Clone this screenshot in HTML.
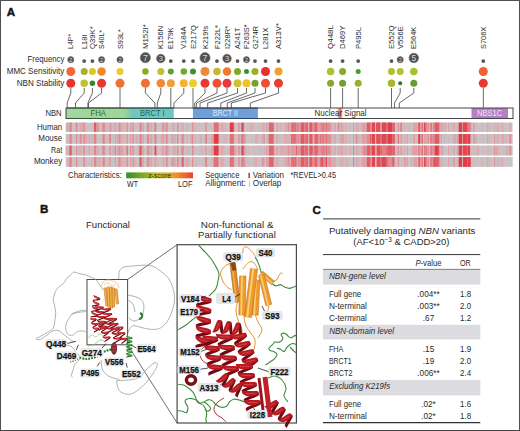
<!DOCTYPE html>
<html><head><meta charset="utf-8"><style>
html,body{margin:0;padding:0;background:#fff;overflow:hidden;width:520px;height:431px;}
svg{display:block;font-family:"Liberation Sans", sans-serif;}
</style></head><body>
<svg width="520" height="431" viewBox="0 0 520 431">
<rect width="520" height="431" fill="#fff"/>
<g fill="#505050" shape-rendering="crispEdges"><rect x="0" y="0" width="520" height="1"/><rect x="0" y="0" width="1" height="431"/><rect x="519" y="0" width="1" height="431"/><rect x="0" y="430" width="520" height="1" fill="#444"/></g>
<text x="6.8" y="15.9" font-size="11.6" fill="#111" font-weight="bold" stroke="#111" stroke-width="0.4">A</text>
<text transform="translate(73.4,49) rotate(-90)" font-size="7" fill="#2a2a2a" textLength="15.2" lengthAdjust="spacingAndGlyphs">L4P*</text>
<text transform="translate(86.8,49) rotate(-90)" font-size="7" fill="#2a2a2a" textLength="14.4" lengthAdjust="spacingAndGlyphs">L18I</text>
<text transform="translate(95.0,49) rotate(-90)" font-size="7" fill="#2a2a2a" textLength="22.7" lengthAdjust="spacingAndGlyphs">Q39K*</text>
<text transform="translate(104.2,49) rotate(-90)" font-size="7" fill="#2a2a2a" textLength="19.0" lengthAdjust="spacingAndGlyphs">S40L*</text>
<text transform="translate(122.6,49) rotate(-90)" font-size="7" fill="#2a2a2a" textLength="19.8" lengthAdjust="spacingAndGlyphs">S93L*</text>
<text transform="translate(148.0,49) rotate(-90)" font-size="7" fill="#2a2a2a" textLength="24.7" lengthAdjust="spacingAndGlyphs">M152I*</text>
<text transform="translate(163.4,49) rotate(-90)" font-size="7" fill="#2a2a2a" textLength="23.1" lengthAdjust="spacingAndGlyphs">K156N</text>
<text transform="translate(173.4,49) rotate(-90)" font-size="7" fill="#2a2a2a" textLength="21.5" lengthAdjust="spacingAndGlyphs">E179K</text>
<text transform="translate(186.4,49) rotate(-90)" font-size="7" fill="#2a2a2a" textLength="22.5" lengthAdjust="spacingAndGlyphs">V184A</text>
<text transform="translate(195.6,49) rotate(-90)" font-size="7" fill="#2a2a2a" textLength="23.9" lengthAdjust="spacingAndGlyphs">E217Q</text>
<text transform="translate(207.6,49) rotate(-90)" font-size="7" fill="#2a2a2a" textLength="23.1" lengthAdjust="spacingAndGlyphs">K219fs</text>
<text transform="translate(219.6,49) rotate(-90)" font-size="7" fill="#2a2a2a" textLength="23.9" lengthAdjust="spacingAndGlyphs">F222L*</text>
<text transform="translate(229.6,49) rotate(-90)" font-size="7" fill="#2a2a2a" textLength="23.1" lengthAdjust="spacingAndGlyphs">I228R*</text>
<text transform="translate(240.1,49) rotate(-90)" font-size="7" fill="#2a2a2a" textLength="21.3" lengthAdjust="spacingAndGlyphs">A241T</text>
<text transform="translate(249.1,49) rotate(-90)" font-size="7" fill="#2a2a2a" textLength="24.7" lengthAdjust="spacingAndGlyphs">F263S*</text>
<text transform="translate(257.6,49) rotate(-90)" font-size="7" fill="#2a2a2a" textLength="23.1" lengthAdjust="spacingAndGlyphs">G274R</text>
<text transform="translate(268.1,49) rotate(-90)" font-size="7" fill="#2a2a2a" textLength="21.3" lengthAdjust="spacingAndGlyphs">L281X</text>
<text transform="translate(281.1,49) rotate(-90)" font-size="7" fill="#2a2a2a" textLength="25.9" lengthAdjust="spacingAndGlyphs">A313V*</text>
<text transform="translate(333.2,49) rotate(-90)" font-size="7" fill="#2a2a2a" textLength="24.0" lengthAdjust="spacingAndGlyphs">Q448L</text>
<text transform="translate(345.2,49) rotate(-90)" font-size="7" fill="#2a2a2a" textLength="23.2" lengthAdjust="spacingAndGlyphs">D469Y</text>
<text transform="translate(360.8,49) rotate(-90)" font-size="7" fill="#2a2a2a" textLength="22.0" lengthAdjust="spacingAndGlyphs">P495L</text>
<text transform="translate(394.1,49) rotate(-90)" font-size="7" fill="#2a2a2a" textLength="23.7" lengthAdjust="spacingAndGlyphs">E552Q</text>
<text transform="translate(402.8,49) rotate(-90)" font-size="7" fill="#2a2a2a" textLength="22.7" lengthAdjust="spacingAndGlyphs">V556E</text>
<text transform="translate(416.4,49) rotate(-90)" font-size="7" fill="#2a2a2a" textLength="22.3" lengthAdjust="spacingAndGlyphs">E564K</text>
<text transform="translate(485.9,49) rotate(-90)" font-size="7" fill="#2a2a2a" textLength="22.3" lengthAdjust="spacingAndGlyphs">S706X</text>
<text x="64.3" y="62.1" font-size="8.6" fill="#2a2a2a" text-anchor="end" textLength="36.7" lengthAdjust="spacingAndGlyphs">Frequency</text>
<text x="64.3" y="74.2" font-size="8.6" fill="#2a2a2a" text-anchor="end" textLength="57.6" lengthAdjust="spacingAndGlyphs">MMC Sensitivity</text>
<text x="64.3" y="85.7" font-size="8.6" fill="#2a2a2a" text-anchor="end" textLength="47.5" lengthAdjust="spacingAndGlyphs">NBN Stability</text>
<circle cx="70.8" cy="59.70" r="3.10" fill="#505050" stroke="#6e6e6e" stroke-width="0.6"/>
<text x="70.8" y="61.65" font-size="5.6" fill="#dcdcdc" text-anchor="middle">2</text>
<circle cx="70.8" cy="71.5" r="4.5" fill="#f06838"/>
<circle cx="70.8" cy="83.3" r="4.5" fill="#e8342c"/>
<circle cx="84.2" cy="61.1" r="1.9" fill="#555"/>
<circle cx="84.2" cy="71.5" r="3.5" fill="#a8b030"/>
<circle cx="84.2" cy="83.3" r="3.75" fill="#c0c030"/>
<circle cx="92.4" cy="61.1" r="1.9" fill="#555"/>
<circle cx="92.4" cy="71.5" r="3.5" fill="#d8c828"/>
<circle cx="92.4" cy="83.3" r="2.75" fill="#2d8a2d"/>
<circle cx="101.6" cy="59.70" r="3.10" fill="#505050" stroke="#6e6e6e" stroke-width="0.6"/>
<text x="101.6" y="61.65" font-size="5.6" fill="#dcdcdc" text-anchor="middle">2</text>
<circle cx="101.6" cy="71.5" r="4.25" fill="#f08828"/>
<circle cx="101.6" cy="83.3" r="4.5" fill="#e83830"/>
<circle cx="120.0" cy="59.70" r="3.10" fill="#505050" stroke="#6e6e6e" stroke-width="0.6"/>
<text x="120.0" y="61.65" font-size="5.6" fill="#dcdcdc" text-anchor="middle">2</text>
<circle cx="120.0" cy="71.5" r="3.5" fill="#e8cc30"/>
<circle cx="120.0" cy="83.3" r="4.5" fill="#f07030"/>
<circle cx="145.4" cy="57.70" r="5.10" fill="#505050" stroke="#6e6e6e" stroke-width="0.6"/>
<text x="145.4" y="60.80" font-size="8.9" fill="#dcdcdc" text-anchor="middle">7</text>
<circle cx="145.4" cy="71.5" r="3.25" fill="#8aaa20"/>
<circle cx="145.4" cy="83.3" r="4.5" fill="#f07030"/>
<circle cx="160.8" cy="58.50" r="4.30" fill="#505050" stroke="#6e6e6e" stroke-width="0.6"/>
<text x="160.8" y="61.14" font-size="7.5" fill="#dcdcdc" text-anchor="middle">3</text>
<circle cx="160.8" cy="71.5" r="3.5" fill="#c0c030"/>
<circle cx="160.8" cy="83.3" r="4.25" fill="#f08838"/>
<circle cx="170.8" cy="61.1" r="1.9" fill="#555"/>
<circle cx="170.8" cy="71.5" r="3.0" fill="#60a030"/>
<circle cx="170.8" cy="83.3" r="4.0" fill="#f0a030"/>
<circle cx="183.8" cy="61.1" r="1.9" fill="#555"/>
<circle cx="183.8" cy="71.5" r="3.25" fill="#70a830"/>
<circle cx="183.8" cy="83.3" r="4.0" fill="#f8b030"/>
<circle cx="193.0" cy="61.1" r="1.9" fill="#555"/>
<circle cx="193.0" cy="71.5" r="3.0" fill="#409030"/>
<circle cx="193.0" cy="83.3" r="4.0" fill="#e8d030"/>
<circle cx="205.0" cy="57.70" r="5.10" fill="#505050" stroke="#6e6e6e" stroke-width="0.6"/>
<text x="205.0" y="60.80" font-size="8.9" fill="#dcdcdc" text-anchor="middle">7</text>
<circle cx="205.0" cy="71.5" r="4.5" fill="#f08838"/>
<circle cx="205.0" cy="83.3" r="4.5" fill="#e83830"/>
<circle cx="217.0" cy="61.1" r="1.9" fill="#555"/>
<circle cx="217.0" cy="71.5" r="3.75" fill="#c8b830"/>
<circle cx="217.0" cy="83.3" r="4.5" fill="#f05030"/>
<circle cx="227.0" cy="58.50" r="4.30" fill="#505050" stroke="#6e6e6e" stroke-width="0.6"/>
<text x="227.0" y="61.14" font-size="7.5" fill="#dcdcdc" text-anchor="middle">3</text>
<circle cx="227.0" cy="71.5" r="4.25" fill="#f07830"/>
<circle cx="227.0" cy="83.3" r="4.5" fill="#e83838"/>
<circle cx="237.5" cy="61.1" r="1.9" fill="#555"/>
<circle cx="237.5" cy="71.5" r="3.5" fill="#80a828"/>
<circle cx="237.5" cy="83.3" r="4.0" fill="#d0c030"/>
<circle cx="246.5" cy="59.70" r="3.10" fill="#505050" stroke="#6e6e6e" stroke-width="0.6"/>
<text x="246.5" y="61.65" font-size="5.6" fill="#dcdcdc" text-anchor="middle">2</text>
<circle cx="246.5" cy="71.5" r="2.5" fill="#3a9028"/>
<circle cx="246.5" cy="83.3" r="4.0" fill="#f0c030"/>
<circle cx="255.0" cy="61.1" r="1.9" fill="#555"/>
<circle cx="255.0" cy="71.5" r="3.5" fill="#98b030"/>
<circle cx="255.0" cy="83.3" r="3.5" fill="#78a030"/>
<circle cx="265.5" cy="61.1" r="1.9" fill="#555"/>
<circle cx="265.5" cy="71.5" r="4.5" fill="#e83030"/>
<circle cx="265.5" cy="83.3" r="4.5" fill="#f05030"/>
<circle cx="278.5" cy="61.1" r="1.9" fill="#555"/>
<circle cx="278.5" cy="71.5" r="4.0" fill="#f0a030"/>
<circle cx="278.5" cy="83.3" r="4.5" fill="#e84030"/>
<circle cx="330.6" cy="61.1" r="1.9" fill="#555"/>
<circle cx="330.6" cy="71.5" r="3.75" fill="#b0c030"/>
<circle cx="330.6" cy="83.3" r="3.5" fill="#88a828"/>
<circle cx="342.6" cy="61.1" r="1.9" fill="#555"/>
<circle cx="342.6" cy="71.5" r="3.5" fill="#88a830"/>
<circle cx="342.6" cy="83.3" r="3.5" fill="#70a030"/>
<circle cx="358.2" cy="61.1" r="1.9" fill="#555"/>
<circle cx="358.2" cy="71.5" r="2.5" fill="#4a9a30"/>
<circle cx="358.2" cy="83.3" r="3.5" fill="#98b030"/>
<circle cx="391.5" cy="61.1" r="1.9" fill="#555"/>
<circle cx="391.5" cy="71.5" r="3.5" fill="#b0c030"/>
<circle cx="391.5" cy="83.3" r="3.75" fill="#a8b828"/>
<circle cx="400.2" cy="59.70" r="3.10" fill="#505050" stroke="#6e6e6e" stroke-width="0.6"/>
<text x="400.2" y="61.65" font-size="5.6" fill="#dcdcdc" text-anchor="middle">2</text>
<circle cx="400.2" cy="71.5" r="3.5" fill="#b8c030"/>
<circle cx="400.2" cy="83.3" r="2.0" fill="#2a7a20"/>
<circle cx="413.8" cy="58.00" r="4.80" fill="#505050" stroke="#6e6e6e" stroke-width="0.6"/>
<text x="413.8" y="60.93" font-size="8.4" fill="#dcdcdc" text-anchor="middle">5</text>
<circle cx="413.8" cy="71.5" r="3.75" fill="#a8c030"/>
<circle cx="413.8" cy="83.3" r="3.5" fill="#60a030"/>
<circle cx="483.3" cy="61.1" r="1.9" fill="#555"/>
<circle cx="483.3" cy="71.5" r="4.5" fill="#f06030"/>
<circle cx="483.3" cy="83.3" r="4.5" fill="#e83830"/>
<g stroke="#444" stroke-width="0.8" fill="none">
<path d="M70.8,88 V93 L67.2,103 V108"/>
<path d="M84.2,88 V93 L75.5,103 V108"/>
<path d="M92.4,88 V93 L87.9,103 V108"/>
<path d="M101.6,88 V93 L88.5,103 V108"/>
<path d="M120.0,88 V108"/>
<path d="M145.4,88 V93 L154.9,103 V108"/>
<path d="M160.8,88 V93 L157.3,103 V108"/>
<path d="M170.8,88 V108"/>
<path d="M183.8,88 V93 L173.9,103 V108"/>
<path d="M193.0,88 V108"/>
<path d="M205.0,88 V93 L194.7,103 V108"/>
<path d="M217.0,88 V93 L196.4,103 V108"/>
<path d="M227.0,88 V93 L200.0,103 V108"/>
<path d="M237.5,88 V93 L207.7,103 V108"/>
<path d="M246.5,88 V93 L220.8,103 V108"/>
<path d="M255.0,88 V93 L227.3,103 V108"/>
<path d="M265.5,88 V93 L231.4,103 V108"/>
<path d="M278.5,88 V93 L250.4,103 V108"/>
<path d="M330.6,88 V108"/>
<path d="M342.6,88 V108"/>
<path d="M358.2,88 V108"/>
<path d="M391.5,88 V108"/>
<path d="M400.2,88 V93 L394.5,103 V108"/>
<path d="M413.8,88 V93 L399.3,103 V108"/>
<path d="M483.3,88 V108"/>
</g>
<text x="45.4" y="115.9" font-size="8.4" fill="#2a2a2a" textLength="16.1" lengthAdjust="spacingAndGlyphs">NBN</text>
<defs><linearGradient id="fb" x1="0" x2="1"><stop offset="0" stop-color="#a4d6a0"/><stop offset="0.86" stop-color="#a0d49a"/><stop offset="1" stop-color="#7cc8b8"/></linearGradient><linearGradient id="zs" x1="0" x2="1"><stop offset="0" stop-color="#3a8c2a"/><stop offset="0.3" stop-color="#8cb024"/><stop offset="0.5" stop-color="#d8c022"/><stop offset="0.75" stop-color="#f09030"/><stop offset="1" stop-color="#e84232"/></linearGradient></defs>
<rect x="66" y="108" width="447" height="10.5" fill="#fff"/>
<rect x="66" y="108" width="66" height="10.5" fill="url(#fb)"/>
<rect x="131" y="108" width="42.8" height="10.5" fill="#6fc8bf"/>
<rect x="192.9" y="108" width="65" height="10.5" fill="#6ea0d7"/>
<rect x="337.5" y="108" width="5" height="10.5" fill="#f4b8a8"/><rect x="338.8" y="108" width="2.6" height="10.5" fill="#ea7c6c"/>
<rect x="471.5" y="108" width="36.5" height="10.5" fill="#b57fc5"/>
<rect x="66" y="108" width="447" height="10.5" fill="none" stroke="#444" stroke-width="1"/>
<g stroke-width="1" fill="none"><path d="M67,108 H131 M67,118.5 H131" stroke="#2e5a34"/><path d="M131,108 H173.8 M131,118.5 H173.8" stroke="#2a5a58"/><path d="M192.9,108 H257.9 M192.9,118.5 H257.9" stroke="#2c4470"/></g>
<text x="90.5" y="115.9" font-size="8.4" fill="#2a6a2a" textLength="15.5" lengthAdjust="spacingAndGlyphs">FHA</text>
<text x="140" y="115.9" font-size="8.4" fill="#1f5f5c" textLength="24.6" lengthAdjust="spacingAndGlyphs">BRCT I</text>
<text x="212.7" y="115.9" font-size="8.4" fill="#dfeaf8" textLength="25.3" lengthAdjust="spacingAndGlyphs">BRCT II</text>
<text x="314.6" y="115.9" font-size="8.4" fill="#2a2a2a" textLength="52" lengthAdjust="spacingAndGlyphs">Nuclear Signal</text>
<text x="477" y="115.9" font-size="8.4" fill="#f2e6f6" textLength="25.3" lengthAdjust="spacingAndGlyphs">NBS1C</text>
<text x="62.2" y="130.2" font-size="8.4" fill="#2a2a2a" text-anchor="end" textLength="25.3" lengthAdjust="spacingAndGlyphs">Human</text>
<text x="62.2" y="141.2" font-size="8.4" fill="#2a2a2a" text-anchor="end" textLength="23.9" lengthAdjust="spacingAndGlyphs">Mouse</text>
<text x="62.2" y="152.5" font-size="8.4" fill="#2a2a2a" text-anchor="end" textLength="11.2" lengthAdjust="spacingAndGlyphs">Rat</text>
<text x="62.2" y="163.6" font-size="8.4" fill="#2a2a2a" text-anchor="end" textLength="28.3" lengthAdjust="spacingAndGlyphs">Monkey</text>
<g><rect x="65.7" y="122.6" width="446.8" height="9.3" fill="#cac2c5"/><rect x="66.7" y="122.6" width="1.0" height="9.3" fill="#e1939a"/><rect x="68.7" y="122.6" width="1.0" height="9.3" fill="#dea6ac"/><rect x="69.7" y="122.6" width="1.0" height="9.3" fill="#cebcbf"/><rect x="70.7" y="122.6" width="2.0" height="9.3" fill="#cdbec1"/><rect x="75.7" y="122.6" width="1.5" height="9.3" fill="#e1878e"/><rect x="78.7" y="122.6" width="1.0" height="9.3" fill="#ccbfc2"/><rect x="79.7" y="122.6" width="2.0" height="9.3" fill="#dca9ae"/><rect x="81.7" y="122.6" width="1.5" height="9.3" fill="#e0a3a9"/><rect x="83.2" y="122.6" width="1.0" height="9.3" fill="#cfbbbf"/><rect x="84.2" y="122.6" width="1.0" height="9.3" fill="#d0babd"/><rect x="85.2" y="122.6" width="2.0" height="9.3" fill="#cdbdc1"/><rect x="92.2" y="122.6" width="1.0" height="9.3" fill="#cfbabe"/><rect x="94.2" y="122.6" width="1.5" height="9.3" fill="#d9adb2"/><rect x="95.7" y="122.6" width="1.5" height="9.3" fill="#dea7ac"/><rect x="97.2" y="122.6" width="2.0" height="9.3" fill="#e19198"/><rect x="99.2" y="122.6" width="1.5" height="9.3" fill="#cbc1c3"/><rect x="100.7" y="122.6" width="2.0" height="9.3" fill="#d1b8bc"/><rect x="105.7" y="122.6" width="1.0" height="9.3" fill="#dfa5ab"/><rect x="106.7" y="122.6" width="2.0" height="9.3" fill="#d1b8bc"/><rect x="111.2" y="122.6" width="1.5" height="9.3" fill="#dea7ad"/><rect x="112.7" y="122.6" width="1.5" height="9.3" fill="#cebcbf"/><rect x="114.2" y="122.6" width="1.0" height="9.3" fill="#dcaaaf"/><rect x="115.2" y="122.6" width="1.0" height="9.3" fill="#e1959c"/><rect x="116.2" y="122.6" width="1.0" height="9.3" fill="#cbc0c3"/><rect x="117.2" y="122.6" width="1.0" height="9.3" fill="#d0babd"/><rect x="119.7" y="122.6" width="1.0" height="9.3" fill="#e0a1a8"/><rect x="120.7" y="122.6" width="1.0" height="9.3" fill="#ccbfc2"/><rect x="121.7" y="122.6" width="1.0" height="9.3" fill="#e0a2a8"/><rect x="122.7" y="122.6" width="1.0" height="9.3" fill="#d0babd"/><rect x="123.7" y="122.6" width="2.0" height="9.3" fill="#d0b9bd"/><rect x="126.7" y="122.6" width="1.5" height="9.3" fill="#ccbfc2"/><rect x="130.2" y="122.6" width="1.0" height="9.3" fill="#e1989e"/><rect x="131.2" y="122.6" width="1.0" height="9.3" fill="#d0b9bd"/><rect x="132.2" y="122.6" width="1.5" height="9.3" fill="#dbabb0"/><rect x="135.7" y="122.6" width="2.0" height="9.3" fill="#cbc0c3"/><rect x="141.7" y="122.6" width="1.0" height="9.3" fill="#d1b8bc"/><rect x="142.7" y="122.6" width="1.0" height="9.3" fill="#e1979d"/><rect x="146.7" y="122.6" width="2.0" height="9.3" fill="#d0b9bd"/><rect x="150.7" y="122.6" width="1.0" height="9.3" fill="#e18b92"/><rect x="151.7" y="122.6" width="1.0" height="9.3" fill="#d0b9bd"/><rect x="152.7" y="122.6" width="1.0" height="9.3" fill="#cbc0c3"/><rect x="153.7" y="122.6" width="1.0" height="9.3" fill="#d0b9bd"/><rect x="154.7" y="122.6" width="1.0" height="9.3" fill="#d1b8bc"/><rect x="160.7" y="122.6" width="1.0" height="9.3" fill="#ccbfc2"/><rect x="161.7" y="122.6" width="1.5" height="9.3" fill="#e09da3"/><rect x="163.2" y="122.6" width="1.0" height="9.3" fill="#e28189"/><rect x="164.2" y="122.6" width="1.0" height="9.3" fill="#d7b1b5"/><rect x="165.2" y="122.6" width="1.0" height="9.3" fill="#e09fa5"/><rect x="167.2" y="122.6" width="1.0" height="9.3" fill="#cdbec1"/><rect x="171.2" y="122.6" width="1.5" height="9.3" fill="#d0b9bd"/><rect x="172.7" y="122.6" width="1.0" height="9.3" fill="#e09ca2"/><rect x="173.7" y="122.6" width="1.0" height="9.3" fill="#daacb1"/><rect x="177.2" y="122.6" width="1.0" height="9.3" fill="#ccbfc2"/><rect x="178.2" y="122.6" width="1.5" height="9.3" fill="#d1b8bc"/><rect x="179.7" y="122.6" width="1.0" height="9.3" fill="#ccbfc2"/><rect x="181.7" y="122.6" width="1.0" height="9.3" fill="#e0a3a9"/><rect x="182.7" y="122.6" width="1.0" height="9.3" fill="#dfa5ab"/><rect x="186.7" y="122.6" width="1.0" height="9.3" fill="#e0a4aa"/><rect x="190.2" y="122.6" width="2.0" height="9.3" fill="#cbc1c3"/><rect x="192.2" y="122.6" width="1.0" height="9.3" fill="#e18d94"/><rect x="193.2" y="122.6" width="1.0" height="9.3" fill="#cfbabe"/><rect x="194.2" y="122.6" width="1.0" height="9.3" fill="#d9adb2"/><rect x="195.2" y="122.6" width="1.5" height="9.3" fill="#cfbbbe"/><rect x="198.7" y="122.6" width="2.0" height="9.3" fill="#cebcbf"/><rect x="202.7" y="122.6" width="1.5" height="9.3" fill="#cbc1c4"/><rect x="204.2" y="122.6" width="1.0" height="9.3" fill="#cfbbbf"/><rect x="205.2" y="122.6" width="1.0" height="9.3" fill="#d9adb2"/><rect x="206.2" y="122.6" width="2.0" height="9.3" fill="#cfbbbe"/><rect x="210.2" y="122.6" width="1.0" height="9.3" fill="#cdbdc0"/><rect x="213.2" y="122.6" width="1.5" height="9.3" fill="#ccbfc2"/><rect x="214.7" y="122.6" width="1.5" height="9.3" fill="#daacb1"/><rect x="216.2" y="122.6" width="1.5" height="9.3" fill="#e18d94"/><rect x="217.7" y="122.6" width="1.5" height="9.3" fill="#e09da3"/><rect x="220.7" y="122.6" width="1.0" height="9.3" fill="#e09da4"/><rect x="221.7" y="122.6" width="1.5" height="9.3" fill="#e0a4aa"/><rect x="223.2" y="122.6" width="1.0" height="9.3" fill="#d7b1b5"/><rect x="224.2" y="122.6" width="1.5" height="9.3" fill="#cdbdc0"/><rect x="225.7" y="122.6" width="1.0" height="9.3" fill="#dca9af"/><rect x="229.7" y="122.6" width="2.0" height="9.3" fill="#e0a0a6"/><rect x="231.7" y="122.6" width="1.5" height="9.3" fill="#e19299"/><rect x="233.2" y="122.6" width="1.5" height="9.3" fill="#e0a4aa"/><rect x="236.2" y="122.6" width="1.0" height="9.3" fill="#cfbbbe"/><rect x="238.2" y="122.6" width="1.5" height="9.3" fill="#e18d94"/><rect x="240.7" y="122.6" width="1.0" height="9.3" fill="#d6b1b6"/><rect x="243.7" y="122.6" width="2.0" height="9.3" fill="#cfbbbe"/><rect x="246.7" y="122.6" width="2.0" height="9.3" fill="#cdbdc0"/><rect x="248.7" y="122.6" width="1.0" height="9.3" fill="#d0babe"/><rect x="249.7" y="122.6" width="1.0" height="9.3" fill="#dbabb0"/><rect x="250.7" y="122.6" width="2.0" height="9.3" fill="#dbaab0"/><rect x="252.7" y="122.6" width="1.0" height="9.3" fill="#cfbbbe"/><rect x="253.7" y="122.6" width="1.5" height="9.3" fill="#d0babd"/><rect x="257.2" y="122.6" width="1.0" height="9.3" fill="#cbc0c3"/><rect x="258.2" y="122.6" width="1.5" height="9.3" fill="#cfbabe"/><rect x="259.7" y="122.6" width="1.5" height="9.3" fill="#ccbfc2"/><rect x="262.2" y="122.6" width="1.5" height="9.3" fill="#dea7ad"/><rect x="263.7" y="122.6" width="1.0" height="9.3" fill="#dbabb0"/><rect x="265.7" y="122.6" width="2.0" height="9.3" fill="#e0a2a8"/><rect x="267.7" y="122.6" width="1.0" height="9.3" fill="#e0a4aa"/><rect x="268.7" y="122.6" width="1.0" height="9.3" fill="#cfbcbf"/><rect x="269.7" y="122.6" width="2.0" height="9.3" fill="#d1b9bc"/><rect x="271.7" y="122.6" width="1.5" height="9.3" fill="#d0babe"/><rect x="273.2" y="122.6" width="2.0" height="9.3" fill="#cebcbf"/><rect x="276.2" y="122.6" width="2.0" height="9.3" fill="#dea7ad"/><rect x="278.2" y="122.6" width="2.0" height="9.3" fill="#cfbabe"/><rect x="280.2" y="122.6" width="1.0" height="9.3" fill="#dfa6ac"/><rect x="281.2" y="122.6" width="2.0" height="9.3" fill="#cdbdc0"/><rect x="284.2" y="122.6" width="2.0" height="9.3" fill="#dcaaaf"/><rect x="286.2" y="122.6" width="1.5" height="9.3" fill="#dda8ad"/><rect x="287.7" y="122.6" width="2.0" height="9.3" fill="#e18d94"/><rect x="289.7" y="122.6" width="2.0" height="9.3" fill="#d7b0b5"/><rect x="292.7" y="122.6" width="1.5" height="9.3" fill="#e0a0a6"/><rect x="294.2" y="122.6" width="1.0" height="9.3" fill="#d1b9bc"/><rect x="295.2" y="122.6" width="1.0" height="9.3" fill="#cdbec1"/><rect x="296.2" y="122.6" width="1.0" height="9.3" fill="#e27e86"/><rect x="297.2" y="122.6" width="1.0" height="9.3" fill="#e2757d"/><rect x="298.2" y="122.6" width="1.5" height="9.3" fill="#e28289"/><rect x="300.7" y="122.6" width="1.5" height="9.3" fill="#e0a3a9"/><rect x="302.2" y="122.6" width="1.5" height="9.3" fill="#e26c75"/><rect x="303.7" y="122.6" width="2.0" height="9.3" fill="#e27c83"/><rect x="305.7" y="122.6" width="1.0" height="9.3" fill="#e2737b"/><rect x="306.7" y="122.6" width="1.0" height="9.3" fill="#e24650"/><rect x="308.7" y="122.6" width="1.0" height="9.3" fill="#e18c93"/><rect x="309.7" y="122.6" width="1.5" height="9.3" fill="#e27f87"/><rect x="311.2" y="122.6" width="1.0" height="9.3" fill="#cfbbbe"/><rect x="312.2" y="122.6" width="1.0" height="9.3" fill="#e19096"/><rect x="313.2" y="122.6" width="2.0" height="9.3" fill="#e18b92"/><rect x="315.2" y="122.6" width="1.5" height="9.3" fill="#e26b74"/><rect x="316.7" y="122.6" width="2.0" height="9.3" fill="#e09ba1"/><rect x="318.7" y="122.6" width="1.5" height="9.3" fill="#e1969d"/><rect x="320.2" y="122.6" width="1.0" height="9.3" fill="#e18a92"/><rect x="321.2" y="122.6" width="2.0" height="9.3" fill="#e27e86"/><rect x="323.2" y="122.6" width="1.5" height="9.3" fill="#e2717a"/><rect x="324.7" y="122.6" width="1.0" height="9.3" fill="#e19097"/><rect x="325.7" y="122.6" width="1.5" height="9.3" fill="#e26f77"/><rect x="327.2" y="122.6" width="1.5" height="9.3" fill="#e1878e"/><rect x="328.7" y="122.6" width="1.0" height="9.3" fill="#e27b83"/><rect x="329.7" y="122.6" width="2.0" height="9.3" fill="#e1969d"/><rect x="331.7" y="122.6" width="2.0" height="9.3" fill="#cbc0c2"/><rect x="333.7" y="122.6" width="1.0" height="9.3" fill="#dbabb0"/><rect x="334.7" y="122.6" width="1.0" height="9.3" fill="#e09da4"/><rect x="337.7" y="122.6" width="1.5" height="9.3" fill="#e1838b"/><rect x="339.2" y="122.6" width="1.5" height="9.3" fill="#d8afb4"/><rect x="340.7" y="122.6" width="1.0" height="9.3" fill="#e1969d"/><rect x="341.7" y="122.6" width="1.0" height="9.3" fill="#e1969d"/><rect x="342.7" y="122.6" width="1.5" height="9.3" fill="#d1b8bc"/><rect x="344.2" y="122.6" width="1.5" height="9.3" fill="#cfbbbe"/><rect x="345.7" y="122.6" width="1.5" height="9.3" fill="#daadb2"/><rect x="348.2" y="122.6" width="1.0" height="9.3" fill="#ccbfc2"/><rect x="349.2" y="122.6" width="1.0" height="9.3" fill="#cebcbf"/><rect x="350.2" y="122.6" width="1.0" height="9.3" fill="#ccbec1"/><rect x="353.2" y="122.6" width="1.0" height="9.3" fill="#e19198"/><rect x="354.2" y="122.6" width="1.0" height="9.3" fill="#cac1c4"/><rect x="355.2" y="122.6" width="1.0" height="9.3" fill="#cebdc0"/><rect x="356.2" y="122.6" width="1.0" height="9.3" fill="#e09ea4"/><rect x="357.2" y="122.6" width="1.5" height="9.3" fill="#dbaab0"/><rect x="358.7" y="122.6" width="2.0" height="9.3" fill="#cfbbbe"/><rect x="361.7" y="122.6" width="2.0" height="9.3" fill="#e09da3"/><rect x="363.7" y="122.6" width="2.0" height="9.3" fill="#e09ca2"/><rect x="366.7" y="122.6" width="1.0" height="9.3" fill="#e18c93"/><rect x="367.7" y="122.6" width="1.0" height="9.3" fill="#d8afb4"/><rect x="368.7" y="122.6" width="1.0" height="9.3" fill="#e18c93"/><rect x="369.7" y="122.6" width="2.0" height="9.3" fill="#e2838a"/><rect x="371.7" y="122.6" width="1.5" height="9.3" fill="#e2737b"/><rect x="373.2" y="122.6" width="1.0" height="9.3" fill="#e0a2a8"/><rect x="374.2" y="122.6" width="1.0" height="9.3" fill="#e26a72"/><rect x="375.2" y="122.6" width="1.0" height="9.3" fill="#cfbbbe"/><rect x="376.2" y="122.6" width="1.0" height="9.3" fill="#e23c46"/><rect x="377.2" y="122.6" width="1.5" height="9.3" fill="#e27179"/><rect x="378.7" y="122.6" width="1.5" height="9.3" fill="#e2424c"/><rect x="380.2" y="122.6" width="2.0" height="9.3" fill="#e19198"/><rect x="382.2" y="122.6" width="2.0" height="9.3" fill="#e19198"/><rect x="384.2" y="122.6" width="1.0" height="9.3" fill="#e23c46"/><rect x="385.2" y="122.6" width="1.0" height="9.3" fill="#cdbdc0"/><rect x="386.2" y="122.6" width="1.5" height="9.3" fill="#e2545d"/><rect x="387.7" y="122.6" width="1.0" height="9.3" fill="#e25f68"/><rect x="388.7" y="122.6" width="1.5" height="9.3" fill="#e2656e"/><rect x="390.2" y="122.6" width="2.0" height="9.3" fill="#cbc0c3"/><rect x="392.2" y="122.6" width="2.0" height="9.3" fill="#e25d66"/><rect x="394.2" y="122.6" width="1.0" height="9.3" fill="#e25b64"/><rect x="395.2" y="122.6" width="1.5" height="9.3" fill="#cac1c4"/><rect x="397.7" y="122.6" width="1.5" height="9.3" fill="#e1959c"/><rect x="399.2" y="122.6" width="1.0" height="9.3" fill="#ccbfc2"/><rect x="400.2" y="122.6" width="2.0" height="9.3" fill="#e28188"/><rect x="402.2" y="122.6" width="2.0" height="9.3" fill="#cebcbf"/><rect x="404.2" y="122.6" width="1.0" height="9.3" fill="#d8aeb3"/><rect x="406.7" y="122.6" width="1.0" height="9.3" fill="#cfbbbe"/><rect x="408.7" y="122.6" width="1.0" height="9.3" fill="#daadb2"/><rect x="410.7" y="122.6" width="1.0" height="9.3" fill="#cebcbf"/><rect x="411.7" y="122.6" width="1.5" height="9.3" fill="#cbc0c3"/><rect x="413.2" y="122.6" width="2.0" height="9.3" fill="#e09fa5"/><rect x="415.2" y="122.6" width="2.0" height="9.3" fill="#e09ca3"/><rect x="418.2" y="122.6" width="2.0" height="9.3" fill="#e2454f"/><rect x="421.7" y="122.6" width="1.5" height="9.3" fill="#dfa5ab"/><rect x="423.2" y="122.6" width="2.0" height="9.3" fill="#dea7ad"/><rect x="425.2" y="122.6" width="2.0" height="9.3" fill="#e1858c"/><rect x="427.2" y="122.6" width="2.0" height="9.3" fill="#e19299"/><rect x="430.2" y="122.6" width="2.0" height="9.3" fill="#e27880"/><rect x="432.2" y="122.6" width="1.0" height="9.3" fill="#daadb2"/><rect x="433.2" y="122.6" width="2.0" height="9.3" fill="#e27e86"/><rect x="435.2" y="122.6" width="1.0" height="9.3" fill="#e0a2a8"/><rect x="436.2" y="122.6" width="1.5" height="9.3" fill="#e0a0a6"/><rect x="437.7" y="122.6" width="2.0" height="9.3" fill="#e26c74"/><rect x="439.7" y="122.6" width="1.0" height="9.3" fill="#dda8ad"/><rect x="440.7" y="122.6" width="1.0" height="9.3" fill="#e1949b"/><rect x="441.7" y="122.6" width="1.5" height="9.3" fill="#e0a4aa"/><rect x="443.2" y="122.6" width="1.0" height="9.3" fill="#cfbabe"/><rect x="444.2" y="122.6" width="2.0" height="9.3" fill="#e0a5ab"/><rect x="448.2" y="122.6" width="1.0" height="9.3" fill="#e1999f"/><rect x="449.2" y="122.6" width="1.5" height="9.3" fill="#cebcbf"/><rect x="450.7" y="122.6" width="2.0" height="9.3" fill="#cebcbf"/><rect x="452.7" y="122.6" width="1.0" height="9.3" fill="#cebdc0"/><rect x="453.7" y="122.6" width="1.0" height="9.3" fill="#e1949b"/><rect x="454.7" y="122.6" width="1.5" height="9.3" fill="#cbc1c3"/><rect x="456.2" y="122.6" width="1.0" height="9.3" fill="#ccbfc1"/><rect x="457.2" y="122.6" width="1.0" height="9.3" fill="#d7b0b5"/><rect x="458.2" y="122.6" width="2.0" height="9.3" fill="#e2828a"/><rect x="460.2" y="122.6" width="1.0" height="9.3" fill="#e26069"/><rect x="461.2" y="122.6" width="2.0" height="9.3" fill="#e19197"/><rect x="463.2" y="122.6" width="2.0" height="9.3" fill="#e23c46"/><rect x="465.2" y="122.6" width="1.0" height="9.3" fill="#e2414b"/><rect x="466.2" y="122.6" width="1.5" height="9.3" fill="#e2444d"/><rect x="467.7" y="122.6" width="1.5" height="9.3" fill="#e27e86"/><rect x="469.2" y="122.6" width="2.0" height="9.3" fill="#e18a92"/><rect x="473.2" y="122.6" width="1.5" height="9.3" fill="#e19299"/><rect x="474.7" y="122.6" width="2.0" height="9.3" fill="#ccbfc1"/><rect x="476.7" y="122.6" width="1.0" height="9.3" fill="#cebcbf"/><rect x="480.7" y="122.6" width="1.5" height="9.3" fill="#cebcbf"/><rect x="482.2" y="122.6" width="1.0" height="9.3" fill="#d0b9bd"/><rect x="485.7" y="122.6" width="1.5" height="9.3" fill="#cbc1c3"/><rect x="487.2" y="122.6" width="1.0" height="9.3" fill="#e09fa5"/><rect x="488.2" y="122.6" width="1.5" height="9.3" fill="#d0b9bd"/><rect x="489.7" y="122.6" width="1.0" height="9.3" fill="#cfbbbe"/><rect x="492.7" y="122.6" width="1.5" height="9.3" fill="#cbc0c3"/><rect x="494.2" y="122.6" width="1.0" height="9.3" fill="#d8afb4"/><rect x="495.2" y="122.6" width="2.0" height="9.3" fill="#cfbbbe"/><rect x="497.2" y="122.6" width="1.5" height="9.3" fill="#dfa5ab"/><rect x="500.2" y="122.6" width="1.5" height="9.3" fill="#cfbbbe"/><rect x="501.7" y="122.6" width="1.5" height="9.3" fill="#dbabb0"/><rect x="503.2" y="122.6" width="1.0" height="9.3" fill="#d1b9bc"/><rect x="505.7" y="122.6" width="1.0" height="9.3" fill="#cbc0c3"/><rect x="509.2" y="122.6" width="2.0" height="9.3" fill="#dbabb0"/><rect x="69.4" y="122.6" width="2.3" height="9.3" fill="#e1858c"/><rect x="76.0" y="122.6" width="1.2" height="9.3" fill="#e18b92"/><rect x="83.5" y="122.6" width="1.3" height="9.3" fill="#e1858c"/><rect x="94.0" y="122.6" width="2.3" height="9.3" fill="#e25a63"/><rect x="102.5" y="122.6" width="2.3" height="9.3" fill="#e1858c"/><rect x="109.5" y="122.6" width="1.2" height="9.3" fill="#e18b92"/><rect x="118.5" y="122.6" width="2.0" height="9.3" fill="#e18b92"/><rect x="126.5" y="122.6" width="1.2" height="9.3" fill="#e18b92"/><rect x="132.5" y="122.6" width="1.2" height="9.3" fill="#e18b92"/><rect x="139.4" y="122.6" width="2.3" height="9.3" fill="#e1858c"/><rect x="146.9" y="122.6" width="2.3" height="9.3" fill="#e18b92"/><rect x="154.6" y="122.6" width="1.6" height="9.3" fill="#e27880"/><rect x="166.0" y="122.6" width="1.7" height="9.3" fill="#e18b92"/><rect x="177.0" y="122.6" width="1.5" height="9.3" fill="#e18b92"/><rect x="181.5" y="122.6" width="2.3" height="9.3" fill="#d9aeb3"/><rect x="192.0" y="122.6" width="1.0" height="9.3" fill="#e18b92"/><rect x="205.5" y="122.6" width="1.1" height="9.3" fill="#e18b92"/><rect x="213.8" y="122.6" width="4.7" height="9.3" fill="#e26e76"/><rect x="229.8" y="122.6" width="3.9" height="9.3" fill="#e23c46"/><rect x="241.4" y="122.6" width="2.3" height="9.3" fill="#e24650"/><rect x="269.0" y="122.6" width="4.7" height="9.3" fill="#e2646d"/><rect x="291.0" y="122.6" width="5.0" height="9.3" fill="#e26e76"/><rect x="300.6" y="122.6" width="3.4" height="9.3" fill="#e25a63"/><rect x="305.6" y="122.6" width="2.2" height="9.3" fill="#e2646d"/><rect x="309.5" y="122.6" width="2.8" height="9.3" fill="#e25a63"/><rect x="314.5" y="122.6" width="2.8" height="9.3" fill="#e2646d"/><rect x="366.7" y="122.6" width="3.3" height="9.3" fill="#e25a63"/><rect x="372.0" y="122.6" width="3.0" height="9.3" fill="#e24650"/><rect x="377.0" y="122.6" width="3.0" height="9.3" fill="#e25059"/><rect x="382.0" y="122.6" width="4.0" height="9.3" fill="#e24650"/><rect x="388.0" y="122.6" width="4.0" height="9.3" fill="#e23c46"/><rect x="418.4" y="122.6" width="1.8" height="9.3" fill="#e2646d"/><rect x="421.5" y="122.6" width="1.5" height="9.3" fill="#e26e76"/><rect x="424.0" y="122.6" width="1.5" height="9.3" fill="#e24650"/><rect x="435.0" y="122.6" width="3.4" height="9.3" fill="#e25a63"/><rect x="459.0" y="122.6" width="3.0" height="9.3" fill="#e23c46"/><rect x="463.0" y="122.6" width="4.0" height="9.3" fill="#e24650"/><rect x="467.5" y="122.6" width="2.5" height="9.3" fill="#e27880"/><rect x="65.7" y="134.0" width="446.8" height="9.7" fill="#cac2c5"/><rect x="66.7" y="134.0" width="1.0" height="9.7" fill="#d8afb4"/><rect x="68.7" y="134.0" width="1.0" height="9.7" fill="#ccbfc2"/><rect x="69.7" y="134.0" width="1.0" height="9.7" fill="#cebcbf"/><rect x="70.7" y="134.0" width="2.0" height="9.7" fill="#cdbec1"/><rect x="75.7" y="134.0" width="1.5" height="9.7" fill="#dfa6ac"/><rect x="77.2" y="134.0" width="1.5" height="9.7" fill="#cdbec1"/><rect x="78.7" y="134.0" width="1.0" height="9.7" fill="#ccbfc2"/><rect x="79.7" y="134.0" width="2.0" height="9.7" fill="#e18b92"/><rect x="81.7" y="134.0" width="1.5" height="9.7" fill="#cebcc0"/><rect x="83.2" y="134.0" width="1.0" height="9.7" fill="#cfbbbf"/><rect x="84.2" y="134.0" width="1.0" height="9.7" fill="#d0babd"/><rect x="85.2" y="134.0" width="2.0" height="9.7" fill="#e0a4aa"/><rect x="88.7" y="134.0" width="1.5" height="9.7" fill="#e0a4aa"/><rect x="91.2" y="134.0" width="1.0" height="9.7" fill="#dda8ae"/><rect x="92.2" y="134.0" width="1.0" height="9.7" fill="#cfbabe"/><rect x="93.2" y="134.0" width="1.0" height="9.7" fill="#d9aeb2"/><rect x="95.7" y="134.0" width="1.5" height="9.7" fill="#ccc0c2"/><rect x="99.2" y="134.0" width="1.5" height="9.7" fill="#cbc1c3"/><rect x="104.7" y="134.0" width="1.0" height="9.7" fill="#cbc1c3"/><rect x="105.7" y="134.0" width="1.0" height="9.7" fill="#cdbec1"/><rect x="106.7" y="134.0" width="2.0" height="9.7" fill="#d1b8bc"/><rect x="112.7" y="134.0" width="1.5" height="9.7" fill="#cebcbf"/><rect x="115.2" y="134.0" width="1.0" height="9.7" fill="#e1959c"/><rect x="116.2" y="134.0" width="1.0" height="9.7" fill="#cbc0c3"/><rect x="117.2" y="134.0" width="1.0" height="9.7" fill="#e0a0a6"/><rect x="119.7" y="134.0" width="1.0" height="9.7" fill="#e0a1a8"/><rect x="120.7" y="134.0" width="1.0" height="9.7" fill="#ccbfc2"/><rect x="121.7" y="134.0" width="1.0" height="9.7" fill="#e0a2a8"/><rect x="123.7" y="134.0" width="2.0" height="9.7" fill="#d0b9bd"/><rect x="126.7" y="134.0" width="1.5" height="9.7" fill="#ccbfc2"/><rect x="130.2" y="134.0" width="1.0" height="9.7" fill="#e1989e"/><rect x="131.2" y="134.0" width="1.0" height="9.7" fill="#d0b9bd"/><rect x="132.2" y="134.0" width="1.5" height="9.7" fill="#dbabb0"/><rect x="135.7" y="134.0" width="2.0" height="9.7" fill="#dea7ad"/><rect x="139.7" y="134.0" width="2.0" height="9.7" fill="#cbc1c4"/><rect x="141.7" y="134.0" width="1.0" height="9.7" fill="#d1b8bc"/><rect x="142.7" y="134.0" width="1.0" height="9.7" fill="#e1979d"/><rect x="148.7" y="134.0" width="2.0" height="9.7" fill="#d0babe"/><rect x="150.7" y="134.0" width="1.0" height="9.7" fill="#e18b92"/><rect x="151.7" y="134.0" width="1.0" height="9.7" fill="#d0b9bd"/><rect x="152.7" y="134.0" width="1.0" height="9.7" fill="#cbc0c3"/><rect x="153.7" y="134.0" width="1.0" height="9.7" fill="#d0b9bd"/><rect x="155.7" y="134.0" width="1.5" height="9.7" fill="#cfbbbf"/><rect x="157.2" y="134.0" width="1.5" height="9.7" fill="#d1b9bc"/><rect x="160.7" y="134.0" width="1.0" height="9.7" fill="#dfa6ac"/><rect x="161.7" y="134.0" width="1.5" height="9.7" fill="#e09da3"/><rect x="163.2" y="134.0" width="1.0" height="9.7" fill="#e0a1a7"/><rect x="164.2" y="134.0" width="1.0" height="9.7" fill="#d7b1b5"/><rect x="165.2" y="134.0" width="1.0" height="9.7" fill="#d0b9bc"/><rect x="167.2" y="134.0" width="1.0" height="9.7" fill="#cdbec1"/><rect x="171.2" y="134.0" width="1.5" height="9.7" fill="#e09fa5"/><rect x="172.7" y="134.0" width="1.0" height="9.7" fill="#e09ca2"/><rect x="174.7" y="134.0" width="1.5" height="9.7" fill="#dea7ac"/><rect x="177.2" y="134.0" width="1.0" height="9.7" fill="#ccbfc2"/><rect x="181.7" y="134.0" width="1.0" height="9.7" fill="#cebcbf"/><rect x="182.7" y="134.0" width="1.0" height="9.7" fill="#cdbec1"/><rect x="183.7" y="134.0" width="1.5" height="9.7" fill="#cdbdc1"/><rect x="186.7" y="134.0" width="1.0" height="9.7" fill="#e0a4aa"/><rect x="190.2" y="134.0" width="2.0" height="9.7" fill="#dda8ad"/><rect x="192.2" y="134.0" width="1.0" height="9.7" fill="#e26870"/><rect x="193.2" y="134.0" width="1.0" height="9.7" fill="#cfbabe"/><rect x="194.2" y="134.0" width="1.0" height="9.7" fill="#d9adb2"/><rect x="195.2" y="134.0" width="1.5" height="9.7" fill="#cfbbbe"/><rect x="198.7" y="134.0" width="2.0" height="9.7" fill="#cebcbf"/><rect x="200.7" y="134.0" width="1.0" height="9.7" fill="#e09ea4"/><rect x="204.2" y="134.0" width="1.0" height="9.7" fill="#cfbbbf"/><rect x="206.2" y="134.0" width="2.0" height="9.7" fill="#cfbbbe"/><rect x="208.2" y="134.0" width="2.0" height="9.7" fill="#cfbbbe"/><rect x="210.2" y="134.0" width="1.0" height="9.7" fill="#cdbdc0"/><rect x="211.2" y="134.0" width="2.0" height="9.7" fill="#e0a0a6"/><rect x="213.2" y="134.0" width="1.5" height="9.7" fill="#e0a0a7"/><rect x="216.2" y="134.0" width="1.5" height="9.7" fill="#e18d94"/><rect x="217.7" y="134.0" width="1.5" height="9.7" fill="#e09da3"/><rect x="220.7" y="134.0" width="1.0" height="9.7" fill="#cebdc0"/><rect x="223.2" y="134.0" width="1.0" height="9.7" fill="#d7b1b5"/><rect x="224.2" y="134.0" width="1.5" height="9.7" fill="#cdbdc0"/><rect x="225.7" y="134.0" width="1.0" height="9.7" fill="#dca9af"/><rect x="229.7" y="134.0" width="2.0" height="9.7" fill="#d0b9bd"/><rect x="231.7" y="134.0" width="1.5" height="9.7" fill="#e19299"/><rect x="233.2" y="134.0" width="1.5" height="9.7" fill="#e0a4aa"/><rect x="236.2" y="134.0" width="1.0" height="9.7" fill="#cfbbbe"/><rect x="238.2" y="134.0" width="1.5" height="9.7" fill="#e18d94"/><rect x="240.7" y="134.0" width="1.0" height="9.7" fill="#e1959c"/><rect x="241.7" y="134.0" width="2.0" height="9.7" fill="#cfbbbf"/><rect x="243.7" y="134.0" width="2.0" height="9.7" fill="#e09ba2"/><rect x="252.7" y="134.0" width="1.0" height="9.7" fill="#cfbbbe"/><rect x="255.2" y="134.0" width="2.0" height="9.7" fill="#dfa6ac"/><rect x="257.2" y="134.0" width="1.0" height="9.7" fill="#cbc0c3"/><rect x="258.2" y="134.0" width="1.5" height="9.7" fill="#cfbabe"/><rect x="261.2" y="134.0" width="1.0" height="9.7" fill="#d7b0b5"/><rect x="262.2" y="134.0" width="1.5" height="9.7" fill="#dea7ad"/><rect x="263.7" y="134.0" width="1.0" height="9.7" fill="#e18d94"/><rect x="265.7" y="134.0" width="2.0" height="9.7" fill="#cbc1c3"/><rect x="267.7" y="134.0" width="1.0" height="9.7" fill="#e1858c"/><rect x="268.7" y="134.0" width="1.0" height="9.7" fill="#cfbcbf"/><rect x="269.7" y="134.0" width="2.0" height="9.7" fill="#d1b9bc"/><rect x="271.7" y="134.0" width="1.5" height="9.7" fill="#d0babe"/><rect x="273.2" y="134.0" width="2.0" height="9.7" fill="#cebcbf"/><rect x="276.2" y="134.0" width="2.0" height="9.7" fill="#dea7ad"/><rect x="278.2" y="134.0" width="2.0" height="9.7" fill="#cfbabe"/><rect x="280.2" y="134.0" width="1.0" height="9.7" fill="#ccbfc2"/><rect x="281.2" y="134.0" width="2.0" height="9.7" fill="#cdbdc0"/><rect x="284.2" y="134.0" width="2.0" height="9.7" fill="#dcaaaf"/><rect x="286.2" y="134.0" width="1.5" height="9.7" fill="#dda8ad"/><rect x="287.7" y="134.0" width="2.0" height="9.7" fill="#d7b0b4"/><rect x="289.7" y="134.0" width="2.0" height="9.7" fill="#d7b0b5"/><rect x="292.7" y="134.0" width="1.5" height="9.7" fill="#ccbfc2"/><rect x="294.2" y="134.0" width="1.0" height="9.7" fill="#d1b9bc"/><rect x="296.2" y="134.0" width="1.0" height="9.7" fill="#e27e86"/><rect x="297.2" y="134.0" width="1.0" height="9.7" fill="#e1969c"/><rect x="298.2" y="134.0" width="1.5" height="9.7" fill="#e28289"/><rect x="299.7" y="134.0" width="1.0" height="9.7" fill="#daacb1"/><rect x="300.7" y="134.0" width="1.5" height="9.7" fill="#e0a3a9"/><rect x="302.2" y="134.0" width="1.5" height="9.7" fill="#e26c75"/><rect x="303.7" y="134.0" width="2.0" height="9.7" fill="#e27c83"/><rect x="305.7" y="134.0" width="1.0" height="9.7" fill="#e2737b"/><rect x="306.7" y="134.0" width="1.0" height="9.7" fill="#e27880"/><rect x="308.7" y="134.0" width="1.0" height="9.7" fill="#e18c93"/><rect x="309.7" y="134.0" width="1.5" height="9.7" fill="#e27f87"/><rect x="311.2" y="134.0" width="1.0" height="9.7" fill="#cfbbbe"/><rect x="312.2" y="134.0" width="1.0" height="9.7" fill="#e19096"/><rect x="313.2" y="134.0" width="2.0" height="9.7" fill="#d8aeb3"/><rect x="315.2" y="134.0" width="1.5" height="9.7" fill="#e26b74"/><rect x="316.7" y="134.0" width="2.0" height="9.7" fill="#e2747c"/><rect x="318.7" y="134.0" width="1.5" height="9.7" fill="#e1969d"/><rect x="320.2" y="134.0" width="1.0" height="9.7" fill="#e2636c"/><rect x="321.2" y="134.0" width="2.0" height="9.7" fill="#e27e86"/><rect x="323.2" y="134.0" width="1.5" height="9.7" fill="#e2717a"/><rect x="324.7" y="134.0" width="1.0" height="9.7" fill="#e19097"/><rect x="325.7" y="134.0" width="1.5" height="9.7" fill="#e26f77"/><rect x="327.2" y="134.0" width="1.5" height="9.7" fill="#e1878e"/><rect x="328.7" y="134.0" width="1.0" height="9.7" fill="#e27b83"/><rect x="329.7" y="134.0" width="2.0" height="9.7" fill="#e1969d"/><rect x="331.7" y="134.0" width="2.0" height="9.7" fill="#cbc0c2"/><rect x="333.7" y="134.0" width="1.0" height="9.7" fill="#dbabb0"/><rect x="334.7" y="134.0" width="1.0" height="9.7" fill="#e09da4"/><rect x="339.2" y="134.0" width="1.5" height="9.7" fill="#d8afb4"/><rect x="340.7" y="134.0" width="1.0" height="9.7" fill="#e1969d"/><rect x="341.7" y="134.0" width="1.0" height="9.7" fill="#e1969d"/><rect x="342.7" y="134.0" width="1.5" height="9.7" fill="#e09ea4"/><rect x="344.2" y="134.0" width="1.5" height="9.7" fill="#cfbbbe"/><rect x="345.7" y="134.0" width="1.5" height="9.7" fill="#daadb2"/><rect x="348.2" y="134.0" width="1.0" height="9.7" fill="#ccbfc2"/><rect x="349.2" y="134.0" width="1.0" height="9.7" fill="#cebcbf"/><rect x="350.2" y="134.0" width="1.0" height="9.7" fill="#ccbec1"/><rect x="353.2" y="134.0" width="1.0" height="9.7" fill="#e19198"/><rect x="354.2" y="134.0" width="1.0" height="9.7" fill="#cac1c4"/><rect x="355.2" y="134.0" width="1.0" height="9.7" fill="#e0a4aa"/><rect x="356.2" y="134.0" width="1.0" height="9.7" fill="#e27f86"/><rect x="357.2" y="134.0" width="1.5" height="9.7" fill="#dbaab0"/><rect x="358.7" y="134.0" width="2.0" height="9.7" fill="#cfbbbe"/><rect x="361.7" y="134.0" width="2.0" height="9.7" fill="#e09da3"/><rect x="363.7" y="134.0" width="2.0" height="9.7" fill="#e09ca2"/><rect x="366.7" y="134.0" width="1.0" height="9.7" fill="#e18c93"/><rect x="367.7" y="134.0" width="1.0" height="9.7" fill="#e18c93"/><rect x="368.7" y="134.0" width="1.0" height="9.7" fill="#e25b64"/><rect x="369.7" y="134.0" width="2.0" height="9.7" fill="#e25760"/><rect x="371.7" y="134.0" width="1.5" height="9.7" fill="#e09aa1"/><rect x="373.2" y="134.0" width="1.0" height="9.7" fill="#cfbbbf"/><rect x="374.2" y="134.0" width="1.0" height="9.7" fill="#e26a72"/><rect x="375.2" y="134.0" width="1.0" height="9.7" fill="#cfbbbe"/><rect x="376.2" y="134.0" width="1.0" height="9.7" fill="#e2515a"/><rect x="377.2" y="134.0" width="1.5" height="9.7" fill="#e23f49"/><rect x="378.7" y="134.0" width="1.5" height="9.7" fill="#e2424c"/><rect x="380.2" y="134.0" width="2.0" height="9.7" fill="#e2646d"/><rect x="382.2" y="134.0" width="2.0" height="9.7" fill="#e2646c"/><rect x="384.2" y="134.0" width="1.0" height="9.7" fill="#e23c46"/><rect x="386.2" y="134.0" width="1.5" height="9.7" fill="#e2545d"/><rect x="387.7" y="134.0" width="1.0" height="9.7" fill="#e23c46"/><rect x="388.7" y="134.0" width="1.5" height="9.7" fill="#e2656e"/><rect x="390.2" y="134.0" width="2.0" height="9.7" fill="#cbc0c3"/><rect x="392.2" y="134.0" width="2.0" height="9.7" fill="#e25d66"/><rect x="394.2" y="134.0" width="1.0" height="9.7" fill="#e25b64"/><rect x="395.2" y="134.0" width="1.5" height="9.7" fill="#cac1c4"/><rect x="397.7" y="134.0" width="1.5" height="9.7" fill="#e2747c"/><rect x="399.2" y="134.0" width="1.0" height="9.7" fill="#ccbfc2"/><rect x="400.2" y="134.0" width="2.0" height="9.7" fill="#e0a0a6"/><rect x="402.2" y="134.0" width="2.0" height="9.7" fill="#cebcbf"/><rect x="404.2" y="134.0" width="1.0" height="9.7" fill="#d8aeb3"/><rect x="405.2" y="134.0" width="1.5" height="9.7" fill="#cebdc0"/><rect x="406.7" y="134.0" width="1.0" height="9.7" fill="#e09ba2"/><rect x="410.7" y="134.0" width="1.0" height="9.7" fill="#cebcbf"/><rect x="413.2" y="134.0" width="2.0" height="9.7" fill="#e09fa5"/><rect x="415.2" y="134.0" width="2.0" height="9.7" fill="#cebcbf"/><rect x="418.2" y="134.0" width="2.0" height="9.7" fill="#e2777f"/><rect x="421.7" y="134.0" width="1.5" height="9.7" fill="#ccbec1"/><rect x="423.2" y="134.0" width="2.0" height="9.7" fill="#cbc0c3"/><rect x="425.2" y="134.0" width="2.0" height="9.7" fill="#dca9af"/><rect x="427.2" y="134.0" width="2.0" height="9.7" fill="#e19299"/><rect x="430.2" y="134.0" width="2.0" height="9.7" fill="#e27880"/><rect x="432.2" y="134.0" width="1.0" height="9.7" fill="#e18990"/><rect x="433.2" y="134.0" width="2.0" height="9.7" fill="#e27e86"/><rect x="435.2" y="134.0" width="1.0" height="9.7" fill="#cbc0c3"/><rect x="436.2" y="134.0" width="1.5" height="9.7" fill="#e0a0a6"/><rect x="437.7" y="134.0" width="2.0" height="9.7" fill="#e26c74"/><rect x="439.7" y="134.0" width="1.0" height="9.7" fill="#cbc1c4"/><rect x="440.7" y="134.0" width="1.0" height="9.7" fill="#e1949b"/><rect x="443.2" y="134.0" width="1.0" height="9.7" fill="#cfbabe"/><rect x="444.2" y="134.0" width="2.0" height="9.7" fill="#cdbec1"/><rect x="448.2" y="134.0" width="1.0" height="9.7" fill="#d0b9bd"/><rect x="452.7" y="134.0" width="1.0" height="9.7" fill="#cebdc0"/><rect x="453.7" y="134.0" width="1.0" height="9.7" fill="#e1949b"/><rect x="454.7" y="134.0" width="1.5" height="9.7" fill="#dda8ad"/><rect x="456.2" y="134.0" width="1.0" height="9.7" fill="#ccbfc1"/><rect x="457.2" y="134.0" width="1.0" height="9.7" fill="#e1949b"/><rect x="458.2" y="134.0" width="2.0" height="9.7" fill="#e2828a"/><rect x="460.2" y="134.0" width="1.0" height="9.7" fill="#e26069"/><rect x="461.2" y="134.0" width="2.0" height="9.7" fill="#e19197"/><rect x="463.2" y="134.0" width="2.0" height="9.7" fill="#e25c65"/><rect x="465.2" y="134.0" width="1.0" height="9.7" fill="#e27b83"/><rect x="466.2" y="134.0" width="1.5" height="9.7" fill="#e2767e"/><rect x="467.7" y="134.0" width="1.5" height="9.7" fill="#e0a4aa"/><rect x="469.2" y="134.0" width="2.0" height="9.7" fill="#e18a92"/><rect x="473.2" y="134.0" width="1.5" height="9.7" fill="#e19299"/><rect x="474.7" y="134.0" width="2.0" height="9.7" fill="#dfa6ab"/><rect x="476.7" y="134.0" width="1.0" height="9.7" fill="#cebcbf"/><rect x="482.2" y="134.0" width="1.0" height="9.7" fill="#d0b9bd"/><rect x="483.2" y="134.0" width="1.0" height="9.7" fill="#cbc0c3"/><rect x="487.2" y="134.0" width="1.0" height="9.7" fill="#e09fa5"/><rect x="488.2" y="134.0" width="1.5" height="9.7" fill="#d0b9bd"/><rect x="489.7" y="134.0" width="1.0" height="9.7" fill="#cfbbbe"/><rect x="492.7" y="134.0" width="1.5" height="9.7" fill="#cbc0c3"/><rect x="494.2" y="134.0" width="1.0" height="9.7" fill="#e18c93"/><rect x="495.2" y="134.0" width="2.0" height="9.7" fill="#cfbbbe"/><rect x="497.2" y="134.0" width="1.5" height="9.7" fill="#dfa5ab"/><rect x="500.2" y="134.0" width="1.5" height="9.7" fill="#cfbbbe"/><rect x="501.7" y="134.0" width="1.5" height="9.7" fill="#dbabb0"/><rect x="503.2" y="134.0" width="1.0" height="9.7" fill="#e09fa5"/><rect x="505.7" y="134.0" width="1.0" height="9.7" fill="#dea7ad"/><rect x="509.2" y="134.0" width="2.0" height="9.7" fill="#e18d94"/><rect x="512.2" y="134.0" width="0.3" height="9.7" fill="#e0a3a9"/><rect x="69.4" y="134.0" width="2.3" height="9.7" fill="#e1858c"/><rect x="76.0" y="134.0" width="1.2" height="9.7" fill="#e18b92"/><rect x="83.5" y="134.0" width="1.3" height="9.7" fill="#e1858c"/><rect x="94.0" y="134.0" width="2.3" height="9.7" fill="#e1858c"/><rect x="102.5" y="134.0" width="2.3" height="9.7" fill="#e1858c"/><rect x="109.5" y="134.0" width="1.2" height="9.7" fill="#e2646d"/><rect x="118.5" y="134.0" width="2.0" height="9.7" fill="#e18b92"/><rect x="126.5" y="134.0" width="1.2" height="9.7" fill="#e18b92"/><rect x="132.5" y="134.0" width="1.2" height="9.7" fill="#e18b92"/><rect x="139.4" y="134.0" width="2.3" height="9.7" fill="#e1858c"/><rect x="146.9" y="134.0" width="2.3" height="9.7" fill="#e18b92"/><rect x="154.6" y="134.0" width="1.6" height="9.7" fill="#e27880"/><rect x="166.0" y="134.0" width="1.7" height="9.7" fill="#e18b92"/><rect x="177.0" y="134.0" width="1.5" height="9.7" fill="#e18b92"/><rect x="181.5" y="134.0" width="2.3" height="9.7" fill="#e18b92"/><rect x="192.0" y="134.0" width="1.0" height="9.7" fill="#e18b92"/><rect x="205.5" y="134.0" width="1.1" height="9.7" fill="#e2646d"/><rect x="213.8" y="134.0" width="4.7" height="9.7" fill="#e23c46"/><rect x="229.8" y="134.0" width="3.9" height="9.7" fill="#e26e76"/><rect x="241.4" y="134.0" width="2.3" height="9.7" fill="#e27880"/><rect x="269.0" y="134.0" width="4.7" height="9.7" fill="#e2646d"/><rect x="291.0" y="134.0" width="5.0" height="9.7" fill="#e26e76"/><rect x="300.6" y="134.0" width="3.4" height="9.7" fill="#e25a63"/><rect x="305.6" y="134.0" width="2.2" height="9.7" fill="#e2646d"/><rect x="309.5" y="134.0" width="2.8" height="9.7" fill="#e25a63"/><rect x="314.5" y="134.0" width="2.8" height="9.7" fill="#e2646d"/><rect x="366.7" y="134.0" width="3.3" height="9.7" fill="#e18b92"/><rect x="372.0" y="134.0" width="3.0" height="9.7" fill="#e24650"/><rect x="377.0" y="134.0" width="3.0" height="9.7" fill="#e25059"/><rect x="382.0" y="134.0" width="4.0" height="9.7" fill="#e24650"/><rect x="388.0" y="134.0" width="4.0" height="9.7" fill="#e23c46"/><rect x="418.4" y="134.0" width="1.8" height="9.7" fill="#e23c46"/><rect x="421.5" y="134.0" width="1.5" height="9.7" fill="#e26e76"/><rect x="424.0" y="134.0" width="1.5" height="9.7" fill="#e09ea4"/><rect x="435.0" y="134.0" width="3.4" height="9.7" fill="#e25a63"/><rect x="459.0" y="134.0" width="3.0" height="9.7" fill="#e23c46"/><rect x="463.0" y="134.0" width="4.0" height="9.7" fill="#e24650"/><rect x="467.5" y="134.0" width="2.5" height="9.7" fill="#e23c46"/><rect x="65.7" y="145.6" width="446.8" height="9.8" fill="#cac2c5"/><rect x="65.7" y="145.6" width="1.0" height="9.8" fill="#dca9af"/><rect x="66.7" y="145.6" width="1.0" height="9.8" fill="#d8afb4"/><rect x="68.7" y="145.6" width="1.0" height="9.8" fill="#dea6ac"/><rect x="69.7" y="145.6" width="1.0" height="9.8" fill="#cebcbf"/><rect x="70.7" y="145.6" width="2.0" height="9.8" fill="#cdbec1"/><rect x="77.2" y="145.6" width="1.5" height="9.8" fill="#cdbec1"/><rect x="78.7" y="145.6" width="1.0" height="9.8" fill="#dfa6ac"/><rect x="79.7" y="145.6" width="2.0" height="9.8" fill="#dca9ae"/><rect x="81.7" y="145.6" width="1.5" height="9.8" fill="#cebcc0"/><rect x="83.2" y="145.6" width="1.0" height="9.8" fill="#cfbbbf"/><rect x="84.2" y="145.6" width="1.0" height="9.8" fill="#d0babd"/><rect x="85.2" y="145.6" width="2.0" height="9.8" fill="#cdbdc1"/><rect x="88.7" y="145.6" width="1.5" height="9.8" fill="#e0a4aa"/><rect x="92.2" y="145.6" width="1.0" height="9.8" fill="#cfbabe"/><rect x="95.7" y="145.6" width="1.5" height="9.8" fill="#ccc0c2"/><rect x="97.2" y="145.6" width="2.0" height="9.8" fill="#d8aeb3"/><rect x="99.2" y="145.6" width="1.5" height="9.8" fill="#cbc1c3"/><rect x="100.7" y="145.6" width="2.0" height="9.8" fill="#d1b8bc"/><rect x="104.7" y="145.6" width="1.0" height="9.8" fill="#cbc1c3"/><rect x="105.7" y="145.6" width="1.0" height="9.8" fill="#cdbec1"/><rect x="109.7" y="145.6" width="1.5" height="9.8" fill="#dca9ae"/><rect x="111.2" y="145.6" width="1.5" height="9.8" fill="#cbc0c3"/><rect x="112.7" y="145.6" width="1.5" height="9.8" fill="#e0a2a8"/><rect x="114.2" y="145.6" width="1.0" height="9.8" fill="#dcaaaf"/><rect x="115.2" y="145.6" width="1.0" height="9.8" fill="#e2757d"/><rect x="116.2" y="145.6" width="1.0" height="9.8" fill="#cbc0c3"/><rect x="117.2" y="145.6" width="1.0" height="9.8" fill="#e0a0a6"/><rect x="119.7" y="145.6" width="1.0" height="9.8" fill="#e0a1a8"/><rect x="120.7" y="145.6" width="1.0" height="9.8" fill="#ccbfc2"/><rect x="121.7" y="145.6" width="1.0" height="9.8" fill="#e2838a"/><rect x="122.7" y="145.6" width="1.0" height="9.8" fill="#d0babd"/><rect x="123.7" y="145.6" width="2.0" height="9.8" fill="#d0b9bd"/><rect x="126.7" y="145.6" width="1.5" height="9.8" fill="#ccbfc2"/><rect x="130.2" y="145.6" width="1.0" height="9.8" fill="#e27880"/><rect x="131.2" y="145.6" width="1.0" height="9.8" fill="#d0b9bd"/><rect x="132.2" y="145.6" width="1.5" height="9.8" fill="#dbabb0"/><rect x="135.7" y="145.6" width="2.0" height="9.8" fill="#cbc0c3"/><rect x="137.7" y="145.6" width="2.0" height="9.8" fill="#daadb2"/><rect x="139.7" y="145.6" width="2.0" height="9.8" fill="#cbc1c4"/><rect x="141.7" y="145.6" width="1.0" height="9.8" fill="#d1b8bc"/><rect x="142.7" y="145.6" width="1.0" height="9.8" fill="#e1979d"/><rect x="148.7" y="145.6" width="2.0" height="9.8" fill="#d0babe"/><rect x="150.7" y="145.6" width="1.0" height="9.8" fill="#e18b92"/><rect x="151.7" y="145.6" width="1.0" height="9.8" fill="#d0b9bd"/><rect x="152.7" y="145.6" width="1.0" height="9.8" fill="#cbc0c3"/><rect x="154.7" y="145.6" width="1.0" height="9.8" fill="#d1b8bc"/><rect x="155.7" y="145.6" width="1.5" height="9.8" fill="#e0a2a8"/><rect x="157.2" y="145.6" width="1.5" height="9.8" fill="#d1b9bc"/><rect x="160.7" y="145.6" width="1.0" height="9.8" fill="#ccbfc2"/><rect x="161.7" y="145.6" width="1.5" height="9.8" fill="#e09da3"/><rect x="163.2" y="145.6" width="1.0" height="9.8" fill="#e0a1a7"/><rect x="164.2" y="145.6" width="1.0" height="9.8" fill="#d7b1b5"/><rect x="165.2" y="145.6" width="1.0" height="9.8" fill="#e09fa5"/><rect x="166.2" y="145.6" width="1.0" height="9.8" fill="#d9adb2"/><rect x="167.2" y="145.6" width="1.0" height="9.8" fill="#cdbec1"/><rect x="168.2" y="145.6" width="1.5" height="9.8" fill="#dbabb0"/><rect x="172.7" y="145.6" width="1.0" height="9.8" fill="#e09ca2"/><rect x="173.7" y="145.6" width="1.0" height="9.8" fill="#daacb1"/><rect x="174.7" y="145.6" width="1.5" height="9.8" fill="#dea7ac"/><rect x="179.7" y="145.6" width="1.0" height="9.8" fill="#ccbfc2"/><rect x="180.7" y="145.6" width="1.0" height="9.8" fill="#daacb1"/><rect x="183.7" y="145.6" width="1.5" height="9.8" fill="#cdbdc1"/><rect x="186.7" y="145.6" width="1.0" height="9.8" fill="#e0a4aa"/><rect x="189.2" y="145.6" width="1.0" height="9.8" fill="#dbaaaf"/><rect x="190.2" y="145.6" width="2.0" height="9.8" fill="#cbc1c3"/><rect x="192.2" y="145.6" width="1.0" height="9.8" fill="#e18d94"/><rect x="193.2" y="145.6" width="1.0" height="9.8" fill="#e0a1a7"/><rect x="198.7" y="145.6" width="2.0" height="9.8" fill="#cebcbf"/><rect x="200.7" y="145.6" width="1.0" height="9.8" fill="#d1b8bc"/><rect x="201.7" y="145.6" width="1.0" height="9.8" fill="#d9aeb3"/><rect x="202.7" y="145.6" width="1.5" height="9.8" fill="#cbc1c4"/><rect x="204.2" y="145.6" width="1.0" height="9.8" fill="#cfbbbf"/><rect x="208.2" y="145.6" width="2.0" height="9.8" fill="#cfbbbe"/><rect x="210.2" y="145.6" width="1.0" height="9.8" fill="#cdbdc0"/><rect x="211.2" y="145.6" width="2.0" height="9.8" fill="#e0a0a6"/><rect x="213.2" y="145.6" width="1.5" height="9.8" fill="#e0a0a7"/><rect x="216.2" y="145.6" width="1.5" height="9.8" fill="#e18d94"/><rect x="217.7" y="145.6" width="1.5" height="9.8" fill="#e09da3"/><rect x="220.7" y="145.6" width="1.0" height="9.8" fill="#e09da4"/><rect x="221.7" y="145.6" width="1.5" height="9.8" fill="#e0a4aa"/><rect x="223.2" y="145.6" width="1.0" height="9.8" fill="#d7b1b5"/><rect x="224.2" y="145.6" width="1.5" height="9.8" fill="#cdbdc0"/><rect x="229.7" y="145.6" width="2.0" height="9.8" fill="#d0b9bd"/><rect x="231.7" y="145.6" width="1.5" height="9.8" fill="#e19299"/><rect x="233.2" y="145.6" width="1.5" height="9.8" fill="#e1858c"/><rect x="234.7" y="145.6" width="1.5" height="9.8" fill="#dda7ad"/><rect x="236.2" y="145.6" width="1.0" height="9.8" fill="#cfbbbe"/><rect x="238.2" y="145.6" width="1.5" height="9.8" fill="#e18d94"/><rect x="240.7" y="145.6" width="1.0" height="9.8" fill="#d6b1b6"/><rect x="241.7" y="145.6" width="2.0" height="9.8" fill="#cfbbbf"/><rect x="243.7" y="145.6" width="2.0" height="9.8" fill="#e09ba2"/><rect x="246.7" y="145.6" width="2.0" height="9.8" fill="#cdbdc0"/><rect x="248.7" y="145.6" width="1.0" height="9.8" fill="#d0babe"/><rect x="252.7" y="145.6" width="1.0" height="9.8" fill="#cfbbbe"/><rect x="253.7" y="145.6" width="1.5" height="9.8" fill="#d0babd"/><rect x="255.2" y="145.6" width="2.0" height="9.8" fill="#ccbfc2"/><rect x="257.2" y="145.6" width="1.0" height="9.8" fill="#cbc0c3"/><rect x="258.2" y="145.6" width="1.5" height="9.8" fill="#cfbabe"/><rect x="259.7" y="145.6" width="1.5" height="9.8" fill="#ccbfc2"/><rect x="261.2" y="145.6" width="1.0" height="9.8" fill="#d7b0b5"/><rect x="263.7" y="145.6" width="1.0" height="9.8" fill="#dbabb0"/><rect x="265.7" y="145.6" width="2.0" height="9.8" fill="#e0a2a8"/><rect x="267.7" y="145.6" width="1.0" height="9.8" fill="#e0a4aa"/><rect x="268.7" y="145.6" width="1.0" height="9.8" fill="#cfbcbf"/><rect x="269.7" y="145.6" width="2.0" height="9.8" fill="#d1b9bc"/><rect x="271.7" y="145.6" width="1.5" height="9.8" fill="#d0babe"/><rect x="273.2" y="145.6" width="2.0" height="9.8" fill="#e0a3a9"/><rect x="276.2" y="145.6" width="2.0" height="9.8" fill="#dea7ad"/><rect x="278.2" y="145.6" width="2.0" height="9.8" fill="#cfbabe"/><rect x="280.2" y="145.6" width="1.0" height="9.8" fill="#dfa6ac"/><rect x="281.2" y="145.6" width="2.0" height="9.8" fill="#e0a4aa"/><rect x="283.2" y="145.6" width="1.0" height="9.8" fill="#daacb1"/><rect x="284.2" y="145.6" width="2.0" height="9.8" fill="#dcaaaf"/><rect x="286.2" y="145.6" width="1.5" height="9.8" fill="#dda8ad"/><rect x="287.7" y="145.6" width="2.0" height="9.8" fill="#e18d94"/><rect x="289.7" y="145.6" width="2.0" height="9.8" fill="#d7b0b5"/><rect x="292.7" y="145.6" width="1.5" height="9.8" fill="#e0a0a6"/><rect x="294.2" y="145.6" width="1.0" height="9.8" fill="#e09fa5"/><rect x="295.2" y="145.6" width="1.0" height="9.8" fill="#cdbec1"/><rect x="296.2" y="145.6" width="1.0" height="9.8" fill="#e25059"/><rect x="297.2" y="145.6" width="1.0" height="9.8" fill="#e1969c"/><rect x="298.2" y="145.6" width="1.5" height="9.8" fill="#e28289"/><rect x="300.7" y="145.6" width="1.5" height="9.8" fill="#e0a3a9"/><rect x="302.2" y="145.6" width="1.5" height="9.8" fill="#e26c75"/><rect x="303.7" y="145.6" width="2.0" height="9.8" fill="#e27c83"/><rect x="305.7" y="145.6" width="1.0" height="9.8" fill="#e2414b"/><rect x="306.7" y="145.6" width="1.0" height="9.8" fill="#e09ea4"/><rect x="308.7" y="145.6" width="1.0" height="9.8" fill="#e18c93"/><rect x="309.7" y="145.6" width="1.5" height="9.8" fill="#e27f87"/><rect x="311.2" y="145.6" width="1.0" height="9.8" fill="#cfbbbe"/><rect x="312.2" y="145.6" width="1.0" height="9.8" fill="#e26b74"/><rect x="313.2" y="145.6" width="2.0" height="9.8" fill="#e18b92"/><rect x="315.2" y="145.6" width="1.5" height="9.8" fill="#e26b74"/><rect x="316.7" y="145.6" width="2.0" height="9.8" fill="#e2747c"/><rect x="318.7" y="145.6" width="1.5" height="9.8" fill="#e1969d"/><rect x="320.2" y="145.6" width="1.0" height="9.8" fill="#e18a92"/><rect x="321.2" y="145.6" width="2.0" height="9.8" fill="#e27e86"/><rect x="323.2" y="145.6" width="1.5" height="9.8" fill="#e2717a"/><rect x="324.7" y="145.6" width="1.0" height="9.8" fill="#e19097"/><rect x="325.7" y="145.6" width="1.5" height="9.8" fill="#e26f77"/><rect x="327.2" y="145.6" width="1.5" height="9.8" fill="#e1878e"/><rect x="328.7" y="145.6" width="1.0" height="9.8" fill="#e27b83"/><rect x="329.7" y="145.6" width="2.0" height="9.8" fill="#e1969d"/><rect x="331.7" y="145.6" width="2.0" height="9.8" fill="#cbc0c2"/><rect x="333.7" y="145.6" width="1.0" height="9.8" fill="#dbabb0"/><rect x="334.7" y="145.6" width="1.0" height="9.8" fill="#e09da4"/><rect x="337.7" y="145.6" width="1.5" height="9.8" fill="#e0a3a9"/><rect x="339.2" y="145.6" width="1.5" height="9.8" fill="#d8afb4"/><rect x="340.7" y="145.6" width="1.0" height="9.8" fill="#e1969d"/><rect x="341.7" y="145.6" width="1.0" height="9.8" fill="#e1969d"/><rect x="342.7" y="145.6" width="1.5" height="9.8" fill="#d1b8bc"/><rect x="344.2" y="145.6" width="1.5" height="9.8" fill="#cfbbbe"/><rect x="345.7" y="145.6" width="1.5" height="9.8" fill="#daadb2"/><rect x="348.2" y="145.6" width="1.0" height="9.8" fill="#ccbfc2"/><rect x="349.2" y="145.6" width="1.0" height="9.8" fill="#cebcbf"/><rect x="350.2" y="145.6" width="1.0" height="9.8" fill="#dfa5ab"/><rect x="353.2" y="145.6" width="1.0" height="9.8" fill="#e26e76"/><rect x="354.2" y="145.6" width="1.0" height="9.8" fill="#cac1c4"/><rect x="355.2" y="145.6" width="1.0" height="9.8" fill="#cebdc0"/><rect x="356.2" y="145.6" width="1.0" height="9.8" fill="#e09ea4"/><rect x="357.2" y="145.6" width="1.5" height="9.8" fill="#dbaab0"/><rect x="358.7" y="145.6" width="2.0" height="9.8" fill="#cfbbbe"/><rect x="361.7" y="145.6" width="2.0" height="9.8" fill="#e09da3"/><rect x="363.7" y="145.6" width="2.0" height="9.8" fill="#e27c84"/><rect x="366.7" y="145.6" width="1.0" height="9.8" fill="#e18c93"/><rect x="367.7" y="145.6" width="1.0" height="9.8" fill="#e18c93"/><rect x="368.7" y="145.6" width="1.0" height="9.8" fill="#e25b64"/><rect x="369.7" y="145.6" width="2.0" height="9.8" fill="#e2838a"/><rect x="371.7" y="145.6" width="1.5" height="9.8" fill="#e2414a"/><rect x="373.2" y="145.6" width="1.0" height="9.8" fill="#cfbbbf"/><rect x="374.2" y="145.6" width="1.0" height="9.8" fill="#e26a72"/><rect x="375.2" y="145.6" width="1.0" height="9.8" fill="#e0a1a7"/><rect x="376.2" y="145.6" width="1.0" height="9.8" fill="#e1858c"/><rect x="377.2" y="145.6" width="1.5" height="9.8" fill="#e27179"/><rect x="378.7" y="145.6" width="1.5" height="9.8" fill="#e2424c"/><rect x="380.2" y="145.6" width="2.0" height="9.8" fill="#e2646d"/><rect x="382.2" y="145.6" width="2.0" height="9.8" fill="#e19198"/><rect x="384.2" y="145.6" width="1.0" height="9.8" fill="#e2404a"/><rect x="386.2" y="145.6" width="1.5" height="9.8" fill="#e2545d"/><rect x="387.7" y="145.6" width="1.0" height="9.8" fill="#e25f68"/><rect x="388.7" y="145.6" width="1.5" height="9.8" fill="#e2656e"/><rect x="390.2" y="145.6" width="2.0" height="9.8" fill="#cbc0c3"/><rect x="392.2" y="145.6" width="2.0" height="9.8" fill="#e25d66"/><rect x="394.2" y="145.6" width="1.0" height="9.8" fill="#e25b64"/><rect x="395.2" y="145.6" width="1.5" height="9.8" fill="#cac1c4"/><rect x="396.7" y="145.6" width="1.0" height="9.8" fill="#dca9af"/><rect x="397.7" y="145.6" width="1.5" height="9.8" fill="#e1959c"/><rect x="400.2" y="145.6" width="2.0" height="9.8" fill="#e0a0a6"/><rect x="402.2" y="145.6" width="2.0" height="9.8" fill="#cebcbf"/><rect x="404.2" y="145.6" width="1.0" height="9.8" fill="#d8aeb3"/><rect x="406.7" y="145.6" width="1.0" height="9.8" fill="#e09ba2"/><rect x="410.7" y="145.6" width="1.0" height="9.8" fill="#cebcbf"/><rect x="411.7" y="145.6" width="1.5" height="9.8" fill="#dea7ac"/><rect x="413.2" y="145.6" width="2.0" height="9.8" fill="#e09fa5"/><rect x="415.2" y="145.6" width="2.0" height="9.8" fill="#e09ca3"/><rect x="418.2" y="145.6" width="2.0" height="9.8" fill="#e2454f"/><rect x="421.7" y="145.6" width="1.5" height="9.8" fill="#ccbec1"/><rect x="423.2" y="145.6" width="2.0" height="9.8" fill="#cbc0c3"/><rect x="425.2" y="145.6" width="2.0" height="9.8" fill="#e1858c"/><rect x="427.2" y="145.6" width="2.0" height="9.8" fill="#e19299"/><rect x="430.2" y="145.6" width="2.0" height="9.8" fill="#e27880"/><rect x="432.2" y="145.6" width="1.0" height="9.8" fill="#e18990"/><rect x="433.2" y="145.6" width="2.0" height="9.8" fill="#e27e86"/><rect x="435.2" y="145.6" width="1.0" height="9.8" fill="#e0a2a8"/><rect x="436.2" y="145.6" width="1.5" height="9.8" fill="#e0a0a6"/><rect x="437.7" y="145.6" width="2.0" height="9.8" fill="#e26c74"/><rect x="439.7" y="145.6" width="1.0" height="9.8" fill="#cbc1c4"/><rect x="440.7" y="145.6" width="1.0" height="9.8" fill="#e1949b"/><rect x="441.7" y="145.6" width="1.5" height="9.8" fill="#e0a4aa"/><rect x="443.2" y="145.6" width="1.0" height="9.8" fill="#cfbabe"/><rect x="448.2" y="145.6" width="1.0" height="9.8" fill="#e1999f"/><rect x="449.2" y="145.6" width="1.5" height="9.8" fill="#cebcbf"/><rect x="450.7" y="145.6" width="2.0" height="9.8" fill="#cebcbf"/><rect x="452.7" y="145.6" width="1.0" height="9.8" fill="#cebdc0"/><rect x="453.7" y="145.6" width="1.0" height="9.8" fill="#e1949b"/><rect x="454.7" y="145.6" width="1.5" height="9.8" fill="#cbc1c3"/><rect x="456.2" y="145.6" width="1.0" height="9.8" fill="#ccbfc1"/><rect x="457.2" y="145.6" width="1.0" height="9.8" fill="#e1949b"/><rect x="458.2" y="145.6" width="2.0" height="9.8" fill="#e2828a"/><rect x="460.2" y="145.6" width="1.0" height="9.8" fill="#e23c46"/><rect x="461.2" y="145.6" width="2.0" height="9.8" fill="#e19197"/><rect x="463.2" y="145.6" width="2.0" height="9.8" fill="#e25c65"/><rect x="465.2" y="145.6" width="1.0" height="9.8" fill="#e2414b"/><rect x="466.2" y="145.6" width="1.5" height="9.8" fill="#e2767e"/><rect x="467.7" y="145.6" width="1.5" height="9.8" fill="#e0a4aa"/><rect x="469.2" y="145.6" width="2.0" height="9.8" fill="#d9aeb3"/><rect x="471.2" y="145.6" width="2.0" height="9.8" fill="#ccbec1"/><rect x="473.2" y="145.6" width="1.5" height="9.8" fill="#d4b4b8"/><rect x="474.7" y="145.6" width="2.0" height="9.8" fill="#ccbfc1"/><rect x="476.7" y="145.6" width="1.0" height="9.8" fill="#e0a3a9"/><rect x="477.7" y="145.6" width="1.5" height="9.8" fill="#dbabb0"/><rect x="482.2" y="145.6" width="1.0" height="9.8" fill="#d0b9bd"/><rect x="483.2" y="145.6" width="1.0" height="9.8" fill="#cbc0c3"/><rect x="485.7" y="145.6" width="1.5" height="9.8" fill="#cbc1c3"/><rect x="487.2" y="145.6" width="1.0" height="9.8" fill="#cdbec1"/><rect x="488.2" y="145.6" width="1.5" height="9.8" fill="#d0b9bd"/><rect x="489.7" y="145.6" width="1.0" height="9.8" fill="#cfbbbe"/><rect x="492.7" y="145.6" width="1.5" height="9.8" fill="#cbc0c3"/><rect x="494.2" y="145.6" width="1.0" height="9.8" fill="#e18c93"/><rect x="495.2" y="145.6" width="2.0" height="9.8" fill="#e0a1a8"/><rect x="497.2" y="145.6" width="1.5" height="9.8" fill="#dfa5ab"/><rect x="498.7" y="145.6" width="1.5" height="9.8" fill="#cbc0c3"/><rect x="500.2" y="145.6" width="1.5" height="9.8" fill="#cfbbbe"/><rect x="503.2" y="145.6" width="1.0" height="9.8" fill="#d1b9bc"/><rect x="505.7" y="145.6" width="1.0" height="9.8" fill="#dea7ad"/><rect x="506.7" y="145.6" width="1.5" height="9.8" fill="#daacb1"/><rect x="509.2" y="145.6" width="2.0" height="9.8" fill="#e18d94"/><rect x="512.2" y="145.6" width="0.3" height="9.8" fill="#cebcbf"/><rect x="69.4" y="145.6" width="2.3" height="9.8" fill="#e25a63"/><rect x="76.0" y="145.6" width="1.2" height="9.8" fill="#e18b92"/><rect x="83.5" y="145.6" width="1.3" height="9.8" fill="#e1858c"/><rect x="94.0" y="145.6" width="2.3" height="9.8" fill="#e1858c"/><rect x="102.5" y="145.6" width="2.3" height="9.8" fill="#e1858c"/><rect x="109.5" y="145.6" width="1.2" height="9.8" fill="#e18b92"/><rect x="118.5" y="145.6" width="2.0" height="9.8" fill="#e18b92"/><rect x="126.5" y="145.6" width="1.2" height="9.8" fill="#e2646d"/><rect x="132.5" y="145.6" width="1.2" height="9.8" fill="#e18b92"/><rect x="139.4" y="145.6" width="2.3" height="9.8" fill="#e25a63"/><rect x="146.9" y="145.6" width="2.3" height="9.8" fill="#e18b92"/><rect x="154.6" y="145.6" width="1.6" height="9.8" fill="#e24650"/><rect x="166.0" y="145.6" width="1.7" height="9.8" fill="#e18b92"/><rect x="177.0" y="145.6" width="1.5" height="9.8" fill="#e18b92"/><rect x="181.5" y="145.6" width="2.3" height="9.8" fill="#e18b92"/><rect x="192.0" y="145.6" width="1.0" height="9.8" fill="#e18b92"/><rect x="205.5" y="145.6" width="1.1" height="9.8" fill="#e18b92"/><rect x="213.8" y="145.6" width="4.7" height="9.8" fill="#e23c46"/><rect x="229.8" y="145.6" width="3.9" height="9.8" fill="#e26e76"/><rect x="241.4" y="145.6" width="2.3" height="9.8" fill="#e24650"/><rect x="269.0" y="145.6" width="4.7" height="9.8" fill="#e2646d"/><rect x="291.0" y="145.6" width="5.0" height="9.8" fill="#e1979e"/><rect x="300.6" y="145.6" width="3.4" height="9.8" fill="#e25a63"/><rect x="305.6" y="145.6" width="2.2" height="9.8" fill="#e2646d"/><rect x="309.5" y="145.6" width="2.8" height="9.8" fill="#e25a63"/><rect x="314.5" y="145.6" width="2.8" height="9.8" fill="#e2646d"/><rect x="366.7" y="145.6" width="3.3" height="9.8" fill="#e25a63"/><rect x="372.0" y="145.6" width="3.0" height="9.8" fill="#e24650"/><rect x="377.0" y="145.6" width="3.0" height="9.8" fill="#e25059"/><rect x="382.0" y="145.6" width="4.0" height="9.8" fill="#e27e86"/><rect x="388.0" y="145.6" width="4.0" height="9.8" fill="#e25a63"/><rect x="418.4" y="145.6" width="1.8" height="9.8" fill="#e19198"/><rect x="421.5" y="145.6" width="1.5" height="9.8" fill="#e26e76"/><rect x="424.0" y="145.6" width="1.5" height="9.8" fill="#e27880"/><rect x="435.0" y="145.6" width="3.4" height="9.8" fill="#e23c46"/><rect x="459.0" y="145.6" width="3.0" height="9.8" fill="#e23c46"/><rect x="463.0" y="145.6" width="4.0" height="9.8" fill="#e24650"/><rect x="467.5" y="145.6" width="2.5" height="9.8" fill="#e23c46"/><rect x="65.7" y="157.1" width="446.8" height="9.7" fill="#cac2c5"/><rect x="66.7" y="157.1" width="1.0" height="9.7" fill="#d8afb4"/><rect x="68.7" y="157.1" width="1.0" height="9.7" fill="#dea6ac"/><rect x="69.7" y="157.1" width="1.0" height="9.7" fill="#cebcbf"/><rect x="70.7" y="157.1" width="2.0" height="9.7" fill="#cdbec1"/><rect x="75.7" y="157.1" width="1.5" height="9.7" fill="#dfa6ac"/><rect x="77.2" y="157.1" width="1.5" height="9.7" fill="#cdbec1"/><rect x="78.7" y="157.1" width="1.0" height="9.7" fill="#ccbfc2"/><rect x="81.7" y="157.1" width="1.5" height="9.7" fill="#cebcc0"/><rect x="84.2" y="157.1" width="1.0" height="9.7" fill="#d0babd"/><rect x="85.2" y="157.1" width="2.0" height="9.7" fill="#cdbdc1"/><rect x="88.7" y="157.1" width="1.5" height="9.7" fill="#cebdc0"/><rect x="91.2" y="157.1" width="1.0" height="9.7" fill="#dda8ae"/><rect x="92.2" y="157.1" width="1.0" height="9.7" fill="#cfbabe"/><rect x="95.7" y="157.1" width="1.5" height="9.7" fill="#ccc0c2"/><rect x="97.2" y="157.1" width="2.0" height="9.7" fill="#d8aeb3"/><rect x="99.2" y="157.1" width="1.5" height="9.7" fill="#dda8ad"/><rect x="104.7" y="157.1" width="1.0" height="9.7" fill="#cbc1c3"/><rect x="105.7" y="157.1" width="1.0" height="9.7" fill="#cdbec1"/><rect x="106.7" y="157.1" width="2.0" height="9.7" fill="#d1b8bc"/><rect x="111.2" y="157.1" width="1.5" height="9.7" fill="#cbc0c3"/><rect x="112.7" y="157.1" width="1.5" height="9.7" fill="#cebcbf"/><rect x="115.2" y="157.1" width="1.0" height="9.7" fill="#e1959c"/><rect x="116.2" y="157.1" width="1.0" height="9.7" fill="#cbc0c3"/><rect x="117.2" y="157.1" width="1.0" height="9.7" fill="#d0babd"/><rect x="118.2" y="157.1" width="1.5" height="9.7" fill="#dbaab0"/><rect x="119.7" y="157.1" width="1.0" height="9.7" fill="#e0a1a8"/><rect x="121.7" y="157.1" width="1.0" height="9.7" fill="#e0a2a8"/><rect x="123.7" y="157.1" width="2.0" height="9.7" fill="#d0b9bd"/><rect x="126.7" y="157.1" width="1.5" height="9.7" fill="#dea6ac"/><rect x="130.2" y="157.1" width="1.0" height="9.7" fill="#e1989e"/><rect x="131.2" y="157.1" width="1.0" height="9.7" fill="#d0b9bd"/><rect x="133.7" y="157.1" width="2.0" height="9.7" fill="#daacb1"/><rect x="135.7" y="157.1" width="2.0" height="9.7" fill="#cbc0c3"/><rect x="139.7" y="157.1" width="2.0" height="9.7" fill="#cbc1c4"/><rect x="141.7" y="157.1" width="1.0" height="9.7" fill="#d1b8bc"/><rect x="142.7" y="157.1" width="1.0" height="9.7" fill="#e1979d"/><rect x="146.7" y="157.1" width="2.0" height="9.7" fill="#d0b9bd"/><rect x="148.7" y="157.1" width="2.0" height="9.7" fill="#d0babe"/><rect x="150.7" y="157.1" width="1.0" height="9.7" fill="#e18b92"/><rect x="151.7" y="157.1" width="1.0" height="9.7" fill="#d0b9bd"/><rect x="152.7" y="157.1" width="1.0" height="9.7" fill="#cbc0c3"/><rect x="153.7" y="157.1" width="1.0" height="9.7" fill="#d0b9bd"/><rect x="154.7" y="157.1" width="1.0" height="9.7" fill="#d1b8bc"/><rect x="155.7" y="157.1" width="1.5" height="9.7" fill="#cfbbbf"/><rect x="157.2" y="157.1" width="1.5" height="9.7" fill="#d1b9bc"/><rect x="160.7" y="157.1" width="1.0" height="9.7" fill="#ccbfc2"/><rect x="161.7" y="157.1" width="1.5" height="9.7" fill="#cebdc0"/><rect x="163.2" y="157.1" width="1.0" height="9.7" fill="#e0a1a7"/><rect x="164.2" y="157.1" width="1.0" height="9.7" fill="#d7b1b5"/><rect x="167.2" y="157.1" width="1.0" height="9.7" fill="#cdbec1"/><rect x="171.2" y="157.1" width="1.5" height="9.7" fill="#e09fa5"/><rect x="172.7" y="157.1" width="1.0" height="9.7" fill="#e27c84"/><rect x="173.7" y="157.1" width="1.0" height="9.7" fill="#daacb1"/><rect x="174.7" y="157.1" width="1.5" height="9.7" fill="#dea7ac"/><rect x="177.2" y="157.1" width="1.0" height="9.7" fill="#ccbfc2"/><rect x="178.2" y="157.1" width="1.5" height="9.7" fill="#e09ea4"/><rect x="179.7" y="157.1" width="1.0" height="9.7" fill="#ccbfc2"/><rect x="181.7" y="157.1" width="1.0" height="9.7" fill="#cebcbf"/><rect x="182.7" y="157.1" width="1.0" height="9.7" fill="#cdbec1"/><rect x="185.2" y="157.1" width="1.5" height="9.7" fill="#dbaab0"/><rect x="186.7" y="157.1" width="1.0" height="9.7" fill="#e0a4aa"/><rect x="187.7" y="157.1" width="1.5" height="9.7" fill="#dea7ad"/><rect x="192.2" y="157.1" width="1.0" height="9.7" fill="#e18d94"/><rect x="193.2" y="157.1" width="1.0" height="9.7" fill="#cfbabe"/><rect x="195.2" y="157.1" width="1.5" height="9.7" fill="#cfbbbe"/><rect x="202.7" y="157.1" width="1.5" height="9.7" fill="#cbc1c4"/><rect x="204.2" y="157.1" width="1.0" height="9.7" fill="#cfbbbf"/><rect x="206.2" y="157.1" width="2.0" height="9.7" fill="#cfbbbe"/><rect x="210.2" y="157.1" width="1.0" height="9.7" fill="#cdbdc0"/><rect x="211.2" y="157.1" width="2.0" height="9.7" fill="#d0babe"/><rect x="213.2" y="157.1" width="1.5" height="9.7" fill="#e0a0a7"/><rect x="214.7" y="157.1" width="1.5" height="9.7" fill="#daacb1"/><rect x="216.2" y="157.1" width="1.5" height="9.7" fill="#e18d94"/><rect x="217.7" y="157.1" width="1.5" height="9.7" fill="#cebcbf"/><rect x="220.7" y="157.1" width="1.0" height="9.7" fill="#e09da4"/><rect x="221.7" y="157.1" width="1.5" height="9.7" fill="#e0a4aa"/><rect x="223.2" y="157.1" width="1.0" height="9.7" fill="#d7b1b5"/><rect x="224.2" y="157.1" width="1.5" height="9.7" fill="#cdbdc0"/><rect x="229.7" y="157.1" width="2.0" height="9.7" fill="#d0b9bd"/><rect x="231.7" y="157.1" width="1.5" height="9.7" fill="#e19299"/><rect x="233.2" y="157.1" width="1.5" height="9.7" fill="#e0a4aa"/><rect x="234.7" y="157.1" width="1.5" height="9.7" fill="#cbc0c3"/><rect x="238.2" y="157.1" width="1.5" height="9.7" fill="#e18d94"/><rect x="240.7" y="157.1" width="1.0" height="9.7" fill="#d6b1b6"/><rect x="241.7" y="157.1" width="2.0" height="9.7" fill="#cfbbbf"/><rect x="243.7" y="157.1" width="2.0" height="9.7" fill="#e09ba2"/><rect x="246.7" y="157.1" width="2.0" height="9.7" fill="#cdbdc0"/><rect x="248.7" y="157.1" width="1.0" height="9.7" fill="#d0babe"/><rect x="252.7" y="157.1" width="1.0" height="9.7" fill="#cfbbbe"/><rect x="253.7" y="157.1" width="1.5" height="9.7" fill="#d0babd"/><rect x="255.2" y="157.1" width="2.0" height="9.7" fill="#dfa6ac"/><rect x="257.2" y="157.1" width="1.0" height="9.7" fill="#cbc0c3"/><rect x="258.2" y="157.1" width="1.5" height="9.7" fill="#cfbabe"/><rect x="261.2" y="157.1" width="1.0" height="9.7" fill="#d7b0b5"/><rect x="262.2" y="157.1" width="1.5" height="9.7" fill="#e18990"/><rect x="263.7" y="157.1" width="1.0" height="9.7" fill="#dbabb0"/><rect x="265.7" y="157.1" width="2.0" height="9.7" fill="#e0a2a8"/><rect x="267.7" y="157.1" width="1.0" height="9.7" fill="#e1858c"/><rect x="268.7" y="157.1" width="1.0" height="9.7" fill="#cfbcbf"/><rect x="269.7" y="157.1" width="2.0" height="9.7" fill="#d1b9bc"/><rect x="271.7" y="157.1" width="1.5" height="9.7" fill="#d0babe"/><rect x="273.2" y="157.1" width="2.0" height="9.7" fill="#cebcbf"/><rect x="275.2" y="157.1" width="1.0" height="9.7" fill="#dcaaaf"/><rect x="276.2" y="157.1" width="2.0" height="9.7" fill="#dea7ad"/><rect x="278.2" y="157.1" width="2.0" height="9.7" fill="#cfbabe"/><rect x="280.2" y="157.1" width="1.0" height="9.7" fill="#ccbfc2"/><rect x="281.2" y="157.1" width="2.0" height="9.7" fill="#cdbdc0"/><rect x="284.2" y="157.1" width="2.0" height="9.7" fill="#dcaaaf"/><rect x="286.2" y="157.1" width="1.5" height="9.7" fill="#dda8ad"/><rect x="287.7" y="157.1" width="2.0" height="9.7" fill="#e18d94"/><rect x="289.7" y="157.1" width="2.0" height="9.7" fill="#d7b0b5"/><rect x="292.7" y="157.1" width="1.5" height="9.7" fill="#e0a0a6"/><rect x="294.2" y="157.1" width="1.0" height="9.7" fill="#d1b9bc"/><rect x="295.2" y="157.1" width="1.0" height="9.7" fill="#cdbec1"/><rect x="296.2" y="157.1" width="1.0" height="9.7" fill="#e27e86"/><rect x="297.2" y="157.1" width="1.0" height="9.7" fill="#e1969c"/><rect x="298.2" y="157.1" width="1.5" height="9.7" fill="#e28289"/><rect x="300.7" y="157.1" width="1.5" height="9.7" fill="#e0a3a9"/><rect x="302.2" y="157.1" width="1.5" height="9.7" fill="#e1969d"/><rect x="303.7" y="157.1" width="2.0" height="9.7" fill="#e27c83"/><rect x="305.7" y="157.1" width="1.0" height="9.7" fill="#e2737b"/><rect x="306.7" y="157.1" width="1.0" height="9.7" fill="#e27880"/><rect x="307.7" y="157.1" width="1.0" height="9.7" fill="#ccbfc1"/><rect x="308.7" y="157.1" width="1.0" height="9.7" fill="#e18c93"/><rect x="309.7" y="157.1" width="1.5" height="9.7" fill="#e27f87"/><rect x="311.2" y="157.1" width="1.0" height="9.7" fill="#cfbbbe"/><rect x="312.2" y="157.1" width="1.0" height="9.7" fill="#e19096"/><rect x="313.2" y="157.1" width="2.0" height="9.7" fill="#e18b92"/><rect x="315.2" y="157.1" width="1.5" height="9.7" fill="#e26b74"/><rect x="316.7" y="157.1" width="2.0" height="9.7" fill="#e09ba1"/><rect x="318.7" y="157.1" width="1.5" height="9.7" fill="#e1969d"/><rect x="320.2" y="157.1" width="1.0" height="9.7" fill="#e2636c"/><rect x="321.2" y="157.1" width="2.0" height="9.7" fill="#e25059"/><rect x="323.2" y="157.1" width="1.5" height="9.7" fill="#e2717a"/><rect x="324.7" y="157.1" width="1.0" height="9.7" fill="#e19097"/><rect x="325.7" y="157.1" width="1.5" height="9.7" fill="#e23d47"/><rect x="327.2" y="157.1" width="1.5" height="9.7" fill="#dbabb0"/><rect x="328.7" y="157.1" width="1.0" height="9.7" fill="#e27b83"/><rect x="329.7" y="157.1" width="2.0" height="9.7" fill="#e1969d"/><rect x="331.7" y="157.1" width="2.0" height="9.7" fill="#dea7ac"/><rect x="333.7" y="157.1" width="1.0" height="9.7" fill="#dbabb0"/><rect x="334.7" y="157.1" width="1.0" height="9.7" fill="#e09da4"/><rect x="339.2" y="157.1" width="1.5" height="9.7" fill="#d8afb4"/><rect x="340.7" y="157.1" width="1.0" height="9.7" fill="#d2b7bb"/><rect x="341.7" y="157.1" width="1.0" height="9.7" fill="#e1969d"/><rect x="342.7" y="157.1" width="1.5" height="9.7" fill="#d1b8bc"/><rect x="344.2" y="157.1" width="1.5" height="9.7" fill="#cfbbbe"/><rect x="345.7" y="157.1" width="1.5" height="9.7" fill="#daadb2"/><rect x="347.2" y="157.1" width="1.0" height="9.7" fill="#daacb1"/><rect x="348.2" y="157.1" width="1.0" height="9.7" fill="#ccbfc2"/><rect x="349.2" y="157.1" width="1.0" height="9.7" fill="#cebcbf"/><rect x="353.2" y="157.1" width="1.0" height="9.7" fill="#e26e76"/><rect x="354.2" y="157.1" width="1.0" height="9.7" fill="#cac1c4"/><rect x="355.2" y="157.1" width="1.0" height="9.7" fill="#cebdc0"/><rect x="356.2" y="157.1" width="1.0" height="9.7" fill="#e09ea4"/><rect x="357.2" y="157.1" width="1.5" height="9.7" fill="#dbaab0"/><rect x="358.7" y="157.1" width="2.0" height="9.7" fill="#cfbbbe"/><rect x="361.7" y="157.1" width="2.0" height="9.7" fill="#e09da3"/><rect x="363.7" y="157.1" width="2.0" height="9.7" fill="#e09ca2"/><rect x="365.7" y="157.1" width="1.0" height="9.7" fill="#dbabb0"/><rect x="366.7" y="157.1" width="1.0" height="9.7" fill="#d8afb4"/><rect x="367.7" y="157.1" width="1.0" height="9.7" fill="#e18c93"/><rect x="368.7" y="157.1" width="1.0" height="9.7" fill="#e25b64"/><rect x="369.7" y="157.1" width="2.0" height="9.7" fill="#e2838a"/><rect x="371.7" y="157.1" width="1.5" height="9.7" fill="#e09aa1"/><rect x="373.2" y="157.1" width="1.0" height="9.7" fill="#cfbbbf"/><rect x="374.2" y="157.1" width="1.0" height="9.7" fill="#e26a72"/><rect x="375.2" y="157.1" width="1.0" height="9.7" fill="#cfbbbe"/><rect x="376.2" y="157.1" width="1.0" height="9.7" fill="#e1858c"/><rect x="377.2" y="157.1" width="1.5" height="9.7" fill="#e099a0"/><rect x="378.7" y="157.1" width="1.5" height="9.7" fill="#e2424c"/><rect x="380.2" y="157.1" width="2.0" height="9.7" fill="#e2646d"/><rect x="382.2" y="157.1" width="2.0" height="9.7" fill="#e2646c"/><rect x="384.2" y="157.1" width="1.0" height="9.7" fill="#e2404a"/><rect x="385.2" y="157.1" width="1.0" height="9.7" fill="#cdbdc0"/><rect x="386.2" y="157.1" width="1.5" height="9.7" fill="#e2545d"/><rect x="387.7" y="157.1" width="1.0" height="9.7" fill="#e25f68"/><rect x="388.7" y="157.1" width="1.5" height="9.7" fill="#e23c46"/><rect x="390.2" y="157.1" width="2.0" height="9.7" fill="#dea7ad"/><rect x="392.2" y="157.1" width="2.0" height="9.7" fill="#e25d66"/><rect x="394.2" y="157.1" width="1.0" height="9.7" fill="#e18b92"/><rect x="395.2" y="157.1" width="1.5" height="9.7" fill="#cac1c4"/><rect x="397.7" y="157.1" width="1.5" height="9.7" fill="#e1959c"/><rect x="400.2" y="157.1" width="2.0" height="9.7" fill="#ccbfc2"/><rect x="402.2" y="157.1" width="2.0" height="9.7" fill="#cebcbf"/><rect x="404.2" y="157.1" width="1.0" height="9.7" fill="#e19298"/><rect x="405.2" y="157.1" width="1.5" height="9.7" fill="#e0a3a9"/><rect x="406.7" y="157.1" width="1.0" height="9.7" fill="#e09ba2"/><rect x="410.7" y="157.1" width="1.0" height="9.7" fill="#e0a3a9"/><rect x="413.2" y="157.1" width="2.0" height="9.7" fill="#e09fa5"/><rect x="415.2" y="157.1" width="2.0" height="9.7" fill="#e09ca3"/><rect x="418.2" y="157.1" width="2.0" height="9.7" fill="#e2777f"/><rect x="421.7" y="157.1" width="1.5" height="9.7" fill="#ccbec1"/><rect x="423.2" y="157.1" width="2.0" height="9.7" fill="#cbc0c3"/><rect x="425.2" y="157.1" width="2.0" height="9.7" fill="#e1858c"/><rect x="427.2" y="157.1" width="2.0" height="9.7" fill="#e19299"/><rect x="430.2" y="157.1" width="2.0" height="9.7" fill="#e27880"/><rect x="432.2" y="157.1" width="1.0" height="9.7" fill="#e18990"/><rect x="433.2" y="157.1" width="2.0" height="9.7" fill="#e2505a"/><rect x="435.2" y="157.1" width="1.0" height="9.7" fill="#cbc0c3"/><rect x="436.2" y="157.1" width="1.5" height="9.7" fill="#d0babd"/><rect x="437.7" y="157.1" width="2.0" height="9.7" fill="#e26c74"/><rect x="439.7" y="157.1" width="1.0" height="9.7" fill="#cbc1c4"/><rect x="440.7" y="157.1" width="1.0" height="9.7" fill="#e1949b"/><rect x="441.7" y="157.1" width="1.5" height="9.7" fill="#cebdc0"/><rect x="443.2" y="157.1" width="1.0" height="9.7" fill="#cfbabe"/><rect x="444.2" y="157.1" width="2.0" height="9.7" fill="#cdbec1"/><rect x="448.2" y="157.1" width="1.0" height="9.7" fill="#e1999f"/><rect x="449.2" y="157.1" width="1.5" height="9.7" fill="#cebcbf"/><rect x="450.7" y="157.1" width="2.0" height="9.7" fill="#cebcbf"/><rect x="452.7" y="157.1" width="1.0" height="9.7" fill="#cebdc0"/><rect x="453.7" y="157.1" width="1.0" height="9.7" fill="#e2727a"/><rect x="454.7" y="157.1" width="1.5" height="9.7" fill="#cbc1c3"/><rect x="456.2" y="157.1" width="1.0" height="9.7" fill="#ccbfc1"/><rect x="457.2" y="157.1" width="1.0" height="9.7" fill="#d7b0b5"/><rect x="458.2" y="157.1" width="2.0" height="9.7" fill="#e2828a"/><rect x="460.2" y="157.1" width="1.0" height="9.7" fill="#e23c46"/><rect x="461.2" y="157.1" width="2.0" height="9.7" fill="#d5b3b7"/><rect x="463.2" y="157.1" width="2.0" height="9.7" fill="#e18c93"/><rect x="465.2" y="157.1" width="1.0" height="9.7" fill="#e2414b"/><rect x="466.2" y="157.1" width="1.5" height="9.7" fill="#e2767e"/><rect x="467.7" y="157.1" width="1.5" height="9.7" fill="#e27e86"/><rect x="469.2" y="157.1" width="2.0" height="9.7" fill="#e2636c"/><rect x="471.2" y="157.1" width="2.0" height="9.7" fill="#ccbec1"/><rect x="473.2" y="157.1" width="1.5" height="9.7" fill="#d4b4b8"/><rect x="474.7" y="157.1" width="2.0" height="9.7" fill="#ccbfc1"/><rect x="476.7" y="157.1" width="1.0" height="9.7" fill="#cebcbf"/><rect x="480.7" y="157.1" width="1.5" height="9.7" fill="#cebcbf"/><rect x="482.2" y="157.1" width="1.0" height="9.7" fill="#d0b9bd"/><rect x="483.2" y="157.1" width="1.0" height="9.7" fill="#cbc0c3"/><rect x="485.7" y="157.1" width="1.5" height="9.7" fill="#cbc1c3"/><rect x="487.2" y="157.1" width="1.0" height="9.7" fill="#e09fa5"/><rect x="488.2" y="157.1" width="1.5" height="9.7" fill="#d0b9bd"/><rect x="489.7" y="157.1" width="1.0" height="9.7" fill="#cfbbbe"/><rect x="492.7" y="157.1" width="1.5" height="9.7" fill="#cbc0c3"/><rect x="494.2" y="157.1" width="1.0" height="9.7" fill="#e18c93"/><rect x="497.2" y="157.1" width="1.5" height="9.7" fill="#dfa5ab"/><rect x="498.7" y="157.1" width="1.5" height="9.7" fill="#cbc0c3"/><rect x="500.2" y="157.1" width="1.5" height="9.7" fill="#cfbbbe"/><rect x="501.7" y="157.1" width="1.5" height="9.7" fill="#dbabb0"/><rect x="512.2" y="157.1" width="0.3" height="9.7" fill="#cebcbf"/><rect x="69.4" y="157.1" width="2.3" height="9.7" fill="#e1858c"/><rect x="76.0" y="157.1" width="1.2" height="9.7" fill="#e18b92"/><rect x="83.5" y="157.1" width="1.3" height="9.7" fill="#e1858c"/><rect x="94.0" y="157.1" width="2.3" height="9.7" fill="#e1858c"/><rect x="102.5" y="157.1" width="2.3" height="9.7" fill="#e1858c"/><rect x="109.5" y="157.1" width="1.2" height="9.7" fill="#e18b92"/><rect x="118.5" y="157.1" width="2.0" height="9.7" fill="#e18b92"/><rect x="126.5" y="157.1" width="1.2" height="9.7" fill="#e18b92"/><rect x="132.5" y="157.1" width="1.2" height="9.7" fill="#e18b92"/><rect x="139.4" y="157.1" width="2.3" height="9.7" fill="#e25a63"/><rect x="146.9" y="157.1" width="2.3" height="9.7" fill="#e18b92"/><rect x="154.6" y="157.1" width="1.6" height="9.7" fill="#e09ea4"/><rect x="166.0" y="157.1" width="1.7" height="9.7" fill="#e18b92"/><rect x="177.0" y="157.1" width="1.5" height="9.7" fill="#e18b92"/><rect x="181.5" y="157.1" width="2.3" height="9.7" fill="#e2646d"/><rect x="192.0" y="157.1" width="1.0" height="9.7" fill="#e18b92"/><rect x="205.5" y="157.1" width="1.1" height="9.7" fill="#e2646d"/><rect x="213.8" y="157.1" width="4.7" height="9.7" fill="#e26e76"/><rect x="229.8" y="157.1" width="3.9" height="9.7" fill="#e26e76"/><rect x="241.4" y="157.1" width="2.3" height="9.7" fill="#e27880"/><rect x="269.0" y="157.1" width="4.7" height="9.7" fill="#e2646d"/><rect x="291.0" y="157.1" width="5.0" height="9.7" fill="#e26e76"/><rect x="300.6" y="157.1" width="3.4" height="9.7" fill="#e25a63"/><rect x="305.6" y="157.1" width="2.2" height="9.7" fill="#e2646d"/><rect x="309.5" y="157.1" width="2.8" height="9.7" fill="#e25a63"/><rect x="314.5" y="157.1" width="2.8" height="9.7" fill="#e2646d"/><rect x="366.7" y="157.1" width="3.3" height="9.7" fill="#e25a63"/><rect x="372.0" y="157.1" width="3.0" height="9.7" fill="#e24650"/><rect x="377.0" y="157.1" width="3.0" height="9.7" fill="#e25059"/><rect x="382.0" y="157.1" width="4.0" height="9.7" fill="#e24650"/><rect x="388.0" y="157.1" width="4.0" height="9.7" fill="#e18b92"/><rect x="418.4" y="157.1" width="1.8" height="9.7" fill="#e2646d"/><rect x="421.5" y="157.1" width="1.5" height="9.7" fill="#e26e76"/><rect x="424.0" y="157.1" width="1.5" height="9.7" fill="#e24650"/><rect x="435.0" y="157.1" width="3.4" height="9.7" fill="#e25a63"/><rect x="459.0" y="157.1" width="3.0" height="9.7" fill="#e23c46"/><rect x="463.0" y="157.1" width="4.0" height="9.7" fill="#e23c46"/><rect x="467.5" y="157.1" width="2.5" height="9.7" fill="#e23c46"/></g>
<text x="68.1" y="178.2" font-size="8.4" fill="#2a2a2a" textLength="53.6" lengthAdjust="spacingAndGlyphs">Characteristics:</text>
<rect x="126.2" y="172.4" width="66.8" height="5.9" fill="url(#zs)"/>
<text x="159.7" y="177.7" font-size="8" fill="#2e3a08" text-anchor="middle" textLength="23" lengthAdjust="spacingAndGlyphs">z-score</text>
<text x="127" y="186.9" font-size="8.2" fill="#2a2a2a" textLength="11" lengthAdjust="spacingAndGlyphs">WT</text>
<text x="192.5" y="186.9" font-size="8.2" fill="#2a2a2a" text-anchor="end" textLength="14.6" lengthAdjust="spacingAndGlyphs">LOF</text>
<text x="205.2" y="178" font-size="8.4" fill="#2a2a2a" textLength="34.2" lengthAdjust="spacingAndGlyphs">Sequence</text>
<text x="205.2" y="186.2" font-size="8.4" fill="#2a2a2a" textLength="40.6" lengthAdjust="spacingAndGlyphs">Allignment:</text>
<rect x="248.4" y="172.8" width="1.6" height="5.4" fill="#d8303c"/>
<rect x="249" y="181.6" width="0.8" height="5.2" fill="#b0b0b0"/>
<text x="252.8" y="178" font-size="8.4" fill="#2a2a2a" textLength="31.1" lengthAdjust="spacingAndGlyphs">Variation</text>
<text x="252.8" y="186.2" font-size="8.4" fill="#2a2a2a" textLength="28.5" lengthAdjust="spacingAndGlyphs">Overlap</text>
<text x="290.5" y="178.2" font-size="8.2" fill="#2a2a2a" textLength="45.5" lengthAdjust="spacingAndGlyphs">*REVEL&gt;0.45</text>
<text x="312.6" y="213.5" font-size="11.6" fill="#111" font-weight="bold" stroke="#111" stroke-width="0.4">C</text>
<line x1="323" y1="218.9" x2="480.3" y2="218.9" stroke="#333" stroke-width="1"/>
<text x="328.9" y="234" font-size="9.7" fill="#2a2a2a" textLength="146.5" lengthAdjust="spacingAndGlyphs">Putatively damaging <tspan font-style="italic">NBN</tspan> variants</text>
<text x="353.3" y="245.1" font-size="9.7" fill="#2a2a2a" textLength="96.2" lengthAdjust="spacingAndGlyphs">(AF&lt;10<tspan font-size="6.6" dy="-3.6">−3</tspan><tspan dy="3.6"> &amp; CADD&gt;20)</tspan></text>
<line x1="323" y1="254.6" x2="480.3" y2="254.6" stroke="#333" stroke-width="1"/>
<text x="415.4" y="265.7" font-size="8.3" fill="#2a2a2a" textLength="26.1" lengthAdjust="spacingAndGlyphs"><tspan font-style="italic">P</tspan>-value</text>
<text x="460" y="265.7" font-size="8.3" fill="#2a2a2a" textLength="10.8" lengthAdjust="spacingAndGlyphs">OR</text>
<line x1="323" y1="269.4" x2="480.3" y2="269.4" stroke="#444" stroke-width="0.8"/>
<rect x="323" y="269.8" width="157.3" height="14.8" fill="#dcdce0"/>
<rect x="323" y="324.8" width="157.3" height="14.6" fill="#dcdce0"/>
<rect x="323" y="379.9" width="157.3" height="15.5" fill="#dcdce0"/>
<text x="328.9" y="279.3" font-size="8.3" fill="#2a2a2a" font-style="italic" textLength="56.9" lengthAdjust="spacingAndGlyphs">NBN-gene level</text>
<text x="329.2" y="334.4" font-size="8.3" fill="#2a2a2a" font-style="italic" textLength="64.9" lengthAdjust="spacingAndGlyphs">NBN-domain level</text>
<text x="329.2" y="388.8" font-size="8.3" fill="#2a2a2a" font-style="italic" textLength="60.9" lengthAdjust="spacingAndGlyphs">Excluding K219fs</text>
<text x="328.9" y="296.6" font-size="8.3" fill="#2a2a2a" textLength="32.3" lengthAdjust="spacingAndGlyphs">Full gene</text>
<text x="428.5" y="296.6" font-size="8.2" fill="#2a2a2a" text-anchor="middle">.004**</text>
<text x="465.6" y="296.6" font-size="8.2" fill="#2a2a2a" text-anchor="middle" textLength="11" lengthAdjust="spacingAndGlyphs">1.8</text>
<text x="328.9" y="308.5" font-size="8.3" fill="#2a2a2a" textLength="38" lengthAdjust="spacingAndGlyphs">N-terminal</text>
<text x="428.5" y="308.5" font-size="8.2" fill="#2a2a2a" text-anchor="middle">.003**</text>
<text x="465.6" y="308.5" font-size="8.2" fill="#2a2a2a" text-anchor="middle" textLength="11" lengthAdjust="spacingAndGlyphs">2.0</text>
<text x="328.9" y="320.8" font-size="8.3" fill="#2a2a2a" textLength="38" lengthAdjust="spacingAndGlyphs">C-terminal</text>
<text x="428.5" y="320.8" font-size="8.2" fill="#2a2a2a" text-anchor="middle">.67</text>
<text x="465.6" y="320.8" font-size="8.2" fill="#2a2a2a" text-anchor="middle" textLength="11" lengthAdjust="spacingAndGlyphs">1.2</text>
<text x="328.9" y="351.8" font-size="8.3" fill="#2a2a2a" textLength="14.6" lengthAdjust="spacingAndGlyphs">FHA</text>
<text x="428.5" y="351.8" font-size="8.2" fill="#2a2a2a" text-anchor="middle">.15</text>
<text x="465.6" y="351.8" font-size="8.2" fill="#2a2a2a" text-anchor="middle" textLength="11" lengthAdjust="spacingAndGlyphs">1.9</text>
<text x="328.9" y="363.6" font-size="8.3" fill="#2a2a2a" textLength="22.7" lengthAdjust="spacingAndGlyphs">BRCT1</text>
<text x="428.5" y="363.6" font-size="8.2" fill="#2a2a2a" text-anchor="middle">.19</text>
<text x="465.6" y="363.6" font-size="8.2" fill="#2a2a2a" text-anchor="middle" textLength="11" lengthAdjust="spacingAndGlyphs">2.0</text>
<text x="328.9" y="375.6" font-size="8.3" fill="#2a2a2a" textLength="23.5" lengthAdjust="spacingAndGlyphs">BRCT2</text>
<text x="428.5" y="375.6" font-size="8.2" fill="#2a2a2a" text-anchor="middle">.006**</text>
<text x="465.6" y="375.6" font-size="8.2" fill="#2a2a2a" text-anchor="middle" textLength="11" lengthAdjust="spacingAndGlyphs">2.4</text>
<text x="328.9" y="406.9" font-size="8.3" fill="#2a2a2a" textLength="32.3" lengthAdjust="spacingAndGlyphs">Full gene</text>
<text x="428.5" y="406.9" font-size="8.2" fill="#2a2a2a" text-anchor="middle">.02*</text>
<text x="465.6" y="406.9" font-size="8.2" fill="#2a2a2a" text-anchor="middle" textLength="11" lengthAdjust="spacingAndGlyphs">1.6</text>
<text x="328.9" y="419.1" font-size="8.3" fill="#2a2a2a" textLength="38" lengthAdjust="spacingAndGlyphs">N-terminal</text>
<text x="428.5" y="419.1" font-size="8.2" fill="#2a2a2a" text-anchor="middle">.02*</text>
<text x="465.6" y="419.1" font-size="8.2" fill="#2a2a2a" text-anchor="middle" textLength="11" lengthAdjust="spacingAndGlyphs">1.8</text>
<line x1="323" y1="422.6" x2="480.3" y2="422.6" stroke="#333" stroke-width="1.1"/>
<text x="40" y="213.4" font-size="11.6" fill="#111" font-weight="bold" stroke="#111" stroke-width="0.4">B</text>
<text x="86" y="228" font-size="9.7" fill="#2a2a2a" textLength="44" lengthAdjust="spacingAndGlyphs">Functional</text>
<text x="200.8" y="227.8" font-size="9.7" fill="#2a2a2a" textLength="72.7" lengthAdjust="spacingAndGlyphs">Non-functional &amp;</text>
<text x="198" y="238.3" font-size="9.7" fill="#2a2a2a" textLength="77.8" lengthAdjust="spacingAndGlyphs">Partially functional</text>
<g fill="none" stroke="#4a4a4a">
<rect x="177.1" y="244.7" width="119.3" height="178.3" stroke-width="1.2"/>
<rect x="87" y="279.5" width="40.6" height="65.3" stroke-width="1"/>
<path d="M127.6,279.5 L177.1,244.7 M127.6,344.8 L177.1,423" stroke-width="0.8"/>
</g>
<g fill="none" stroke="#939b93" stroke-width="0.75"><path d="M103.0,290.0 C102.4,289.0 100.5,285.9 99.2,284.1 C97.9,282.3 96.7,280.4 95.4,279.3 C94.1,278.2 93.1,278.1 91.5,277.4 C89.9,276.7 87.9,275.6 85.8,275.0 C83.7,274.4 81.0,274.0 79.0,273.5 C77.0,273.0 75.2,271.8 73.8,272.1 C72.4,272.4 71.6,274.5 70.4,275.5 C69.2,276.5 67.5,277.2 66.5,278.3 C65.5,279.4 66.0,280.6 64.6,282.2 C63.2,283.8 59.5,286.2 57.9,288.0 C56.3,289.8 55.8,290.9 55.0,292.8 C54.2,294.7 53.4,297.3 53.3,299.4 C53.2,301.5 54.1,303.2 54.5,305.4 C54.9,307.6 55.6,310.3 55.7,312.7 C55.8,315.1 55.4,316.9 55.0,319.5 C54.6,322.1 54.2,326.1 53.3,328.0 C52.4,329.9 51.0,330.0 49.6,331.0 C48.2,332.0 46.7,332.9 44.8,334.0 C42.9,335.1 39.5,336.7 38.0,337.5 C36.5,338.3 35.7,338.7 36.0,339.0 C36.3,339.3 38.1,340.2 40.0,339.5 C41.9,338.8 45.3,336.3 47.2,335.0 C49.1,333.7 49.7,332.3 51.5,331.5 C53.3,330.7 56.1,329.9 58.0,330.3 C59.9,330.7 61.4,332.8 63.0,334.0 C64.6,335.2 66.2,336.4 67.7,337.6 C69.2,338.8 70.6,340.4 72.0,341.0 C73.4,341.6 75.3,341.4 76.0,341.5"/><path d="M87.0,311.6 C85.8,311.7 82.2,311.8 79.8,312.2 C77.4,312.6 74.4,313.0 72.6,314.0 C70.8,315.0 70.1,316.6 69.0,318.3 C67.9,320.0 66.5,322.3 66.0,324.3 C65.5,326.3 65.6,328.6 66.0,330.3 C66.4,332.0 67.2,333.8 68.3,334.6 C69.4,335.4 71.1,335.7 72.6,335.2 C74.1,334.7 75.6,332.2 77.4,331.5 C79.2,330.8 81.8,330.8 83.4,331.0 C85.0,331.2 86.4,332.4 87.0,332.7"/><path d="M71.4,314.0 C72.8,313.5 77.2,311.4 79.8,310.8 C82.4,310.2 85.8,310.4 87.0,310.3"/><path d="M118.7,279.0 C118.8,277.6 118.7,272.8 119.6,270.8 C120.5,268.8 122.0,267.8 124.3,267.0 C126.6,266.2 130.5,266.3 133.6,266.0 C136.7,265.7 139.8,265.2 142.9,265.2 C146.0,265.2 148.9,264.9 152.0,266.0 C155.1,267.1 158.6,269.5 161.4,271.7 C164.2,273.9 166.9,275.9 168.9,279.0 C170.9,282.1 172.6,286.6 173.5,290.3 C174.4,294.0 174.7,297.7 174.4,301.4 C174.1,305.1 172.8,309.2 171.6,312.6 C170.4,316.0 169.0,319.2 167.0,321.8 C165.0,324.4 162.4,327.1 159.6,328.4 C156.8,329.6 153.4,329.5 150.3,329.3 C147.2,329.1 143.8,328.0 141.0,327.4 C138.2,326.8 135.4,325.4 133.6,325.6 C131.8,325.8 130.8,327.2 129.9,328.4 C129.0,329.6 128.3,332.2 128.0,333.0"/><path d="M127.6,295.0 C128.9,295.3 133.2,296.0 135.4,296.8 C137.6,297.6 139.6,298.2 141.0,299.6 C142.4,301.0 143.5,302.5 143.8,305.0 C144.1,307.5 143.7,312.1 142.9,314.4 C142.1,316.7 140.6,317.9 139.0,319.0 C137.4,320.1 135.3,321.2 133.6,321.0 C131.9,320.8 129.7,318.5 128.9,318.0"/><path d="M116.5,380.4 C116.8,381.7 117.1,385.9 118.0,388.0 C118.9,390.1 119.9,391.7 122.0,392.7 C124.1,393.7 127.5,394.8 130.4,394.2 C133.3,393.6 136.8,391.0 139.6,388.8 C142.4,386.6 144.7,384.3 147.3,381.2 C149.9,378.1 153.3,373.2 155.0,370.4 C156.7,367.6 157.3,365.5 157.3,364.2 C157.3,362.9 156.2,362.4 155.0,362.7 C153.8,363.0 152.2,364.2 150.4,365.8 C148.6,367.4 146.0,370.1 144.2,372.0 C142.4,373.9 141.6,376.0 139.6,377.3 C137.6,378.6 134.8,379.1 132.0,379.6 C129.2,380.1 125.3,380.3 122.7,380.4 C120.1,380.5 117.5,380.4 116.5,380.4"/><path d="M80.2,359.0 C79.3,359.9 76.2,362.5 75.0,364.2 C73.8,365.9 73.9,367.7 73.3,369.4 C72.7,371.1 71.7,373.3 71.5,374.6 C71.3,375.9 72.2,376.8 72.4,377.2"/><path d="M67.0,345.0 C67.8,345.3 70.5,345.8 72.0,347.0 C73.5,348.2 74.7,350.3 76.0,352.0 C77.3,353.7 79.3,356.2 80.0,357.0"/><path d="M101.2,360.0 C101.3,361.3 101.4,365.6 101.9,367.7 C102.4,369.8 103.1,370.9 104.2,372.3 C105.3,373.7 107.0,375.2 108.8,376.2 C110.6,377.2 113.2,378.0 115.0,378.5 C116.8,379.0 118.8,379.1 119.6,379.2"/><path d="M127.6,300.0 C128.5,300.7 131.8,302.0 133.0,304.0 C134.2,306.0 134.7,310.7 135.0,312.0"/></g>
<g><path d="M101.0,287.0 C101.3,286.2 101.8,283.2 103.0,282.0 C104.2,280.8 106.3,280.2 108.0,280.0 C109.7,279.8 111.5,280.5 113.0,281.0 C114.5,281.5 116.0,281.8 117.0,283.0 C118.0,284.2 118.7,287.2 119.0,288.0" stroke="#f3c27a" stroke-width="0.8" fill="none"/><path d="M104.0,285.0 C104.7,284.7 106.7,282.8 108.0,283.0 C109.3,283.2 110.7,285.8 112.0,286.0 C113.3,286.2 115.3,284.3 116.0,284.0" stroke="#f3c27a" stroke-width="0.7" fill="none"/><path d="M103.9,288.1 L105.9,306.1 L108.1,305.9 L106.1,287.9Z" fill="#ef9a2c" stroke="#b8640c" stroke-width="0.5"/><path d="M104.7,288.0 L106.7,306.0" stroke="#f9cd78" stroke-width="0.6"/><path d="M106.8,287.1 L108.3,309.1 L110.7,308.9 L109.2,286.9Z" fill="#ef9a2c" stroke="#b8640c" stroke-width="0.5"/><path d="M107.7,287.0 L109.2,309.0" stroke="#f9cd78" stroke-width="0.7"/><path d="M109.8,287.0 L110.3,308.0 L112.7,308.0 L112.2,287.0Z" fill="#ef9a2c" stroke="#b8640c" stroke-width="0.5"/><path d="M110.7,287.0 L111.2,308.0" stroke="#f9cd78" stroke-width="0.7"/><path d="M112.3,288.0 L112.3,307.0 L114.7,307.0 L114.7,288.0Z" fill="#ef9a2c" stroke="#b8640c" stroke-width="0.5"/><path d="M113.2,288.0 L113.2,307.0" stroke="#f9cd78" stroke-width="0.6"/><path d="M114.9,289.1 L116.4,304.1 L118.6,303.9 L117.1,288.9Z" fill="#ef9a2c" stroke="#b8640c" stroke-width="0.5"/><path d="M115.7,289.0 L117.2,304.0" stroke="#f9cd78" stroke-width="0.6"/><path d="M100.2,298.3 L100.0,298.6 L99.5,298.8 L98.7,299.0 L97.7,299.1 L96.6,299.2 L95.4,299.4 L94.4,299.5 L93.6,299.7 L93.1,299.9 L92.9,300.1 L92.7,301.4 L92.9,301.1 L93.5,300.9 L94.3,300.8 L95.3,300.6 L96.4,300.5 L97.5,300.4 L98.5,300.2 L99.3,300.0 L99.8,299.8 L100.0,299.6Z" fill="#6e0a12"/><path d="M99.5,303.8 L99.3,304.1 L98.7,304.3 L97.9,304.5 L96.9,304.6 L95.8,304.7 L94.7,304.9 L93.7,305.0 L92.9,305.2 L92.4,305.4 L92.2,305.6 L92.0,306.9 L92.2,306.6 L92.7,306.4 L93.5,306.3 L94.5,306.1 L95.6,306.0 L96.7,305.9 L97.8,305.7 L98.6,305.5 L99.1,305.3 L99.3,305.1Z" fill="#6e0a12"/><path d="M98.7,309.3 L98.5,309.6 L98.0,309.8 L97.2,310.0 L96.2,310.1 L95.1,310.2 L93.9,310.4 L92.9,310.5 L92.1,310.7 L91.6,310.9 L91.4,311.1 L91.2,312.4 L91.4,312.1 L92.0,311.9 L92.8,311.8 L93.8,311.6 L94.9,311.5 L96.0,311.4 L97.0,311.2 L97.8,311.0 L98.3,310.8 L98.5,310.6Z" fill="#6e0a12"/><path d="M98.0,314.8 L97.8,315.1 L97.2,315.3 L96.4,315.5 L95.4,315.6 L94.3,315.7 L93.2,315.9 L92.2,316.0 L91.4,316.2 L90.9,316.4 L90.7,316.6 L90.5,317.9 L90.7,317.6 L91.2,317.4 L92.0,317.3 L93.0,317.1 L94.1,317.0 L95.2,316.9 L96.3,316.7 L97.1,316.5 L97.6,316.3 L97.8,316.1Z" fill="#6e0a12"/><path d="M93.7,294.6 L93.8,294.9 L94.2,295.3 L95.0,295.7 L95.9,296.1 L96.9,296.5 L98.0,296.9 L98.9,297.3 L99.6,297.7 L100.1,298.0 L100.2,298.3 L100.1,299.1 L99.9,299.2 L99.4,299.3 L98.6,299.2 L97.7,299.0 L96.6,298.6 L95.6,298.1 L94.7,297.5 L94.0,296.9 L93.6,296.1 L93.5,295.4Z" fill="#b81a22"/><path d="M94.8,296.6 L95.8,297.0 L96.8,297.5 L97.8,297.9 L98.8,298.3" stroke="#dc4a4e" stroke-width="0.8" fill="none"/><path d="M92.9,300.1 L93.0,300.4 L93.5,300.8 L94.2,301.2 L95.1,301.6 L96.2,302.0 L97.2,302.4 L98.1,302.8 L98.9,303.2 L99.3,303.5 L99.5,303.8 L99.4,304.6 L99.2,304.7 L98.7,304.8 L97.9,304.7 L96.9,304.5 L95.9,304.1 L94.9,303.6 L94.0,303.0 L93.3,302.4 L92.9,301.6 L92.8,300.9Z" fill="#b81a22"/><path d="M94.1,302.1 L95.0,302.5 L96.1,303.0 L97.1,303.4 L98.0,303.8" stroke="#dc4a4e" stroke-width="0.8" fill="none"/><path d="M92.2,305.6 L92.3,305.9 L92.7,306.3 L93.5,306.7 L94.4,307.1 L95.4,307.5 L96.5,307.9 L97.4,308.3 L98.1,308.7 L98.6,309.0 L98.7,309.3 L98.6,310.1 L98.4,310.2 L97.9,310.3 L97.1,310.2 L96.2,310.0 L95.1,309.6 L94.1,309.1 L93.2,308.5 L92.5,307.9 L92.1,307.1 L92.0,306.4Z" fill="#b81a22"/><path d="M93.3,307.6 L94.3,308.0 L95.3,308.5 L96.3,308.9 L97.3,309.3" stroke="#dc4a4e" stroke-width="0.8" fill="none"/><path d="M91.4,311.1 L91.5,311.4 L92.0,311.8 L92.7,312.2 L93.6,312.6 L94.7,313.0 L95.7,313.4 L96.6,313.8 L97.4,314.2 L97.8,314.5 L98.0,314.8 L97.9,315.6 L97.7,315.7 L97.2,315.8 L96.4,315.7 L95.4,315.5 L94.4,315.1 L93.4,314.6 L92.5,314.0 L91.8,313.4 L91.4,312.6 L91.3,311.9Z" fill="#b81a22"/><path d="M92.6,313.1 L93.5,313.5 L94.6,314.0 L95.6,314.4 L96.5,314.8" stroke="#dc4a4e" stroke-width="0.8" fill="none"/><path d="M103.4,306.8 L103.3,307.1 L102.7,307.4 L101.8,307.8 L100.7,308.3 L99.5,308.7 L98.2,309.2 L97.1,309.6 L96.2,310.0 L95.6,310.3 L95.5,310.6 L95.7,311.9 L95.8,311.6 L96.4,311.2 L97.3,310.8 L98.4,310.4 L99.7,310.0 L100.9,309.5 L102.0,309.1 L102.9,308.7 L103.5,308.3 L103.7,308.1Z" fill="#6e0a12"/><path d="M104.2,311.6 L104.1,311.9 L103.5,312.2 L102.6,312.6 L101.5,313.1 L100.3,313.5 L99.0,314.0 L97.9,314.4 L97.0,314.8 L96.4,315.1 L96.3,315.4 L96.5,316.7 L96.6,316.4 L97.2,316.0 L98.1,315.6 L99.2,315.2 L100.5,314.8 L101.7,314.3 L102.8,313.9 L103.7,313.5 L104.3,313.1 L104.5,312.9Z" fill="#6e0a12"/><path d="M105.0,316.4 L104.9,316.7 L104.3,317.0 L103.4,317.4 L102.3,317.9 L101.1,318.3 L99.8,318.8 L98.7,319.2 L97.8,319.6 L97.2,319.9 L97.1,320.2 L97.3,321.5 L97.4,321.2 L98.0,320.8 L98.9,320.4 L100.0,320.0 L101.3,319.6 L102.5,319.1 L103.6,318.7 L104.5,318.3 L105.1,317.9 L105.3,317.7Z" fill="#6e0a12"/><path d="M105.8,321.2 L105.7,321.5 L105.1,321.8 L104.2,322.2 L103.1,322.7 L101.9,323.1 L100.6,323.6 L99.5,324.0 L98.6,324.4 L98.0,324.7 L97.9,325.0 L98.1,326.3 L98.2,326.0 L98.8,325.6 L99.7,325.2 L100.8,324.8 L102.1,324.4 L103.3,323.9 L104.4,323.5 L105.3,323.1 L105.9,322.7 L106.1,322.5Z" fill="#6e0a12"/><path d="M106.6,326.0 L106.5,326.3 L105.9,326.6 L105.0,327.0 L103.9,327.5 L102.7,327.9 L101.4,328.4 L100.3,328.8 L99.4,329.2 L98.8,329.5 L98.7,329.8 L98.9,331.1 L99.0,330.8 L99.6,330.4 L100.5,330.0 L101.6,329.6 L102.9,329.2 L104.1,328.7 L105.2,328.3 L106.1,327.9 L106.7,327.5 L106.9,327.3Z" fill="#6e0a12"/><path d="M94.7,305.8 L94.9,306.0 L95.5,306.2 L96.5,306.2 L97.7,306.3 L99.1,306.3 L100.4,306.3 L101.6,306.4 L102.6,306.5 L103.2,306.6 L103.4,306.8 L103.6,307.6 L103.4,307.8 L102.8,308.0 L101.9,308.3 L100.7,308.4 L99.4,308.4 L98.1,308.4 L96.8,308.1 L95.8,307.7 L95.1,307.2 L94.8,306.6Z" fill="#b81a22"/><path d="M96.7,307.2 L97.9,307.3 L99.2,307.3 L100.6,307.3 L101.8,307.4" stroke="#dc4a4e" stroke-width="0.8" fill="none"/><path d="M95.5,310.6 L95.7,310.8 L96.3,311.0 L97.3,311.0 L98.5,311.1 L99.9,311.1 L101.2,311.1 L102.4,311.2 L103.4,311.3 L104.0,311.4 L104.2,311.6 L104.4,312.4 L104.2,312.6 L103.6,312.8 L102.7,313.1 L101.5,313.2 L100.2,313.2 L98.9,313.2 L97.6,312.9 L96.6,312.5 L95.9,312.0 L95.6,311.4Z" fill="#b81a22"/><path d="M97.5,312.0 L98.7,312.1 L100.0,312.1 L101.4,312.1 L102.6,312.2" stroke="#dc4a4e" stroke-width="0.8" fill="none"/><path d="M96.3,315.4 L96.5,315.6 L97.1,315.8 L98.1,315.8 L99.3,315.9 L100.7,315.9 L102.0,315.9 L103.2,316.0 L104.2,316.1 L104.8,316.2 L105.0,316.4 L105.2,317.2 L105.0,317.4 L104.4,317.6 L103.5,317.9 L102.3,318.0 L101.0,318.0 L99.7,318.0 L98.4,317.7 L97.4,317.3 L96.7,316.8 L96.4,316.2Z" fill="#b81a22"/><path d="M98.3,316.8 L99.5,316.9 L100.8,316.9 L102.2,316.9 L103.4,317.0" stroke="#dc4a4e" stroke-width="0.8" fill="none"/><path d="M97.1,320.2 L97.3,320.4 L97.9,320.6 L98.9,320.6 L100.1,320.7 L101.5,320.7 L102.8,320.7 L104.0,320.8 L105.0,320.9 L105.6,321.0 L105.8,321.2 L106.0,322.0 L105.8,322.2 L105.2,322.4 L104.3,322.7 L103.1,322.8 L101.8,322.8 L100.5,322.8 L99.2,322.5 L98.2,322.1 L97.5,321.6 L97.2,321.0Z" fill="#b81a22"/><path d="M99.1,321.6 L100.3,321.7 L101.6,321.7 L103.0,321.7 L104.2,321.8" stroke="#dc4a4e" stroke-width="0.8" fill="none"/><path d="M97.9,325.0 L98.1,325.2 L98.7,325.4 L99.7,325.4 L100.9,325.5 L102.3,325.5 L103.6,325.5 L104.8,325.6 L105.8,325.7 L106.4,325.8 L106.6,326.0 L106.8,326.8 L106.6,327.0 L106.0,327.2 L105.1,327.5 L103.9,327.6 L102.6,327.6 L101.3,327.6 L100.0,327.3 L99.0,326.9 L98.3,326.4 L98.0,325.8Z" fill="#b81a22"/><path d="M99.9,326.4 L101.1,326.5 L102.4,326.5 L103.8,326.5 L105.0,326.6" stroke="#dc4a4e" stroke-width="0.8" fill="none"/><path d="M110.7,308.4 L110.6,308.7 L110.0,309.1 L109.1,309.6 L108.0,310.1 L106.7,310.7 L105.4,311.3 L104.2,311.8 L103.3,312.3 L102.8,312.7 L102.6,313.0 L102.9,314.2 L103.1,313.9 L103.6,313.6 L104.5,313.1 L105.7,312.5 L107.0,311.9 L108.3,311.4 L109.4,310.8 L110.3,310.3 L110.9,310.0 L111.1,309.7Z" fill="#6e0a12"/><path d="M111.9,313.2 L111.8,313.5 L111.2,313.9 L110.3,314.4 L109.2,314.9 L107.9,315.5 L106.6,316.1 L105.4,316.6 L104.5,317.1 L104.0,317.5 L103.8,317.8 L104.1,319.0 L104.3,318.7 L104.8,318.4 L105.7,317.9 L106.9,317.3 L108.2,316.7 L109.5,316.2 L110.6,315.6 L111.5,315.1 L112.1,314.8 L112.3,314.5Z" fill="#6e0a12"/><path d="M113.1,318.0 L113.0,318.3 L112.4,318.7 L111.5,319.2 L110.4,319.7 L109.1,320.3 L107.8,320.9 L106.6,321.4 L105.7,321.9 L105.2,322.3 L105.0,322.6 L105.3,323.8 L105.5,323.5 L106.0,323.2 L106.9,322.7 L108.1,322.1 L109.4,321.5 L110.7,321.0 L111.8,320.4 L112.7,319.9 L113.3,319.6 L113.5,319.3Z" fill="#6e0a12"/><path d="M114.3,322.8 L114.2,323.1 L113.6,323.5 L112.7,324.0 L111.6,324.5 L110.3,325.1 L109.0,325.7 L107.8,326.2 L106.9,326.7 L106.4,327.1 L106.2,327.4 L106.5,328.6 L106.7,328.3 L107.2,328.0 L108.1,327.5 L109.3,326.9 L110.6,326.3 L111.9,325.8 L113.0,325.2 L113.9,324.7 L114.5,324.4 L114.7,324.1Z" fill="#6e0a12"/><path d="M115.5,327.6 L115.4,327.9 L114.8,328.3 L113.9,328.8 L112.8,329.3 L111.5,329.9 L110.2,330.5 L109.0,331.0 L108.1,331.5 L107.6,331.9 L107.4,332.2 L107.7,333.4 L107.9,333.1 L108.4,332.8 L109.3,332.3 L110.5,331.7 L111.8,331.1 L113.1,330.6 L114.2,330.0 L115.1,329.5 L115.7,329.2 L115.9,328.9Z" fill="#6e0a12"/><path d="M101.4,308.2 L101.7,308.4 L102.4,308.5 L103.4,308.5 L104.7,308.4 L106.1,308.3 L107.5,308.2 L108.8,308.2 L109.8,308.2 L110.5,308.2 L110.7,308.4 L110.9,309.2 L110.8,309.4 L110.2,309.7 L109.2,310.0 L108.0,310.3 L106.6,310.4 L105.2,310.5 L103.9,310.3 L102.8,310.0 L102.0,309.6 L101.6,309.0Z" fill="#b81a22"/><path d="M103.6,309.4 L104.9,309.4 L106.3,309.3 L107.7,309.2 L109.0,309.1" stroke="#dc4a4e" stroke-width="0.8" fill="none"/><path d="M102.6,313.0 L102.9,313.2 L103.6,313.3 L104.6,313.3 L105.9,313.2 L107.3,313.1 L108.7,313.0 L110.0,313.0 L111.0,313.0 L111.7,313.0 L111.9,313.2 L112.1,314.0 L112.0,314.2 L111.4,314.5 L110.4,314.8 L109.2,315.1 L107.8,315.2 L106.4,315.3 L105.1,315.1 L104.0,314.8 L103.2,314.4 L102.8,313.8Z" fill="#b81a22"/><path d="M104.8,314.2 L106.1,314.2 L107.5,314.1 L108.9,314.0 L110.2,313.9" stroke="#dc4a4e" stroke-width="0.8" fill="none"/><path d="M103.8,317.8 L104.1,318.0 L104.8,318.1 L105.8,318.1 L107.1,318.0 L108.5,317.9 L109.9,317.8 L111.2,317.8 L112.2,317.8 L112.9,317.8 L113.1,318.0 L113.3,318.8 L113.2,319.0 L112.6,319.3 L111.6,319.6 L110.4,319.9 L109.0,320.0 L107.6,320.1 L106.3,319.9 L105.2,319.6 L104.4,319.2 L104.0,318.6Z" fill="#b81a22"/><path d="M106.0,319.0 L107.3,319.0 L108.7,318.9 L110.1,318.8 L111.4,318.7" stroke="#dc4a4e" stroke-width="0.8" fill="none"/><path d="M105.0,322.6 L105.3,322.8 L106.0,322.9 L107.0,322.9 L108.3,322.8 L109.7,322.7 L111.1,322.6 L112.4,322.6 L113.4,322.6 L114.1,322.6 L114.3,322.8 L114.5,323.6 L114.4,323.8 L113.8,324.1 L112.8,324.4 L111.6,324.7 L110.2,324.8 L108.8,324.9 L107.5,324.7 L106.4,324.4 L105.6,324.0 L105.2,323.4Z" fill="#b81a22"/><path d="M107.2,323.8 L108.5,323.8 L109.9,323.7 L111.3,323.6 L112.6,323.5" stroke="#dc4a4e" stroke-width="0.8" fill="none"/><path d="M106.2,327.4 L106.5,327.6 L107.2,327.7 L108.2,327.7 L109.5,327.6 L110.9,327.5 L112.3,327.4 L113.6,327.4 L114.6,327.4 L115.3,327.4 L115.5,327.6 L115.7,328.4 L115.6,328.6 L115.0,328.9 L114.0,329.2 L112.8,329.5 L111.4,329.6 L110.0,329.7 L108.7,329.5 L107.6,329.2 L106.8,328.8 L106.4,328.2Z" fill="#b81a22"/><path d="M108.4,328.6 L109.7,328.6 L111.1,328.5 L112.5,328.4 L113.8,328.3" stroke="#dc4a4e" stroke-width="0.8" fill="none"/><path d="M116.8,318.3 L116.6,318.6 L116.1,319.0 L115.2,319.5 L114.1,320.1 L112.8,320.7 L111.5,321.4 L110.4,322.0 L109.5,322.5 L109.0,322.9 L108.8,323.2 L109.2,324.4 L109.3,324.1 L109.9,323.7 L110.8,323.2 L111.9,322.6 L113.2,321.9 L114.4,321.3 L115.6,320.7 L116.4,320.2 L117.0,319.8 L117.1,319.5Z" fill="#6e0a12"/><path d="M118.2,323.1 L118.0,323.4 L117.5,323.8 L116.6,324.3 L115.5,324.9 L114.2,325.5 L112.9,326.2 L111.8,326.8 L110.9,327.3 L110.4,327.7 L110.2,328.0 L110.6,329.2 L110.7,328.9 L111.3,328.5 L112.2,328.0 L113.3,327.4 L114.6,326.7 L115.8,326.1 L117.0,325.5 L117.8,325.0 L118.4,324.6 L118.5,324.3Z" fill="#6e0a12"/><path d="M119.6,327.9 L119.4,328.2 L118.9,328.6 L118.0,329.1 L116.9,329.7 L115.6,330.3 L114.3,331.0 L113.2,331.6 L112.3,332.1 L111.8,332.5 L111.6,332.8 L112.0,334.0 L112.1,333.7 L112.7,333.3 L113.6,332.8 L114.7,332.2 L116.0,331.5 L117.2,330.9 L118.4,330.3 L119.2,329.8 L119.8,329.4 L119.9,329.1Z" fill="#6e0a12"/><path d="M121.0,332.7 L120.8,333.0 L120.3,333.4 L119.4,333.9 L118.3,334.5 L117.0,335.1 L115.7,335.8 L114.6,336.4 L113.7,336.9 L113.2,337.3 L113.0,337.6 L113.4,338.8 L113.5,338.5 L114.1,338.1 L115.0,337.6 L116.1,337.0 L117.4,336.3 L118.6,335.7 L119.8,335.1 L120.6,334.6 L121.2,334.2 L121.3,333.9Z" fill="#6e0a12"/><path d="M122.4,337.5 L122.2,337.8 L121.7,338.2 L120.8,338.7 L119.7,339.3 L118.4,339.9 L117.1,340.6 L116.0,341.2 L115.1,341.7 L114.6,342.1 L114.4,342.4 L114.8,343.6 L114.9,343.3 L115.5,342.9 L116.4,342.4 L117.5,341.8 L118.8,341.1 L120.0,340.5 L121.2,339.9 L122.0,339.4 L122.6,339.0 L122.7,338.7Z" fill="#6e0a12"/><path d="M107.4,318.4 L107.7,318.6 L108.4,318.6 L109.4,318.6 L110.7,318.5 L112.1,318.3 L113.5,318.2 L114.8,318.1 L115.8,318.0 L116.5,318.1 L116.8,318.3 L117.0,319.1 L116.8,319.3 L116.3,319.6 L115.3,319.9 L114.1,320.2 L112.7,320.4 L111.3,320.5 L110.0,320.4 L108.8,320.2 L108.1,319.8 L107.7,319.2Z" fill="#b81a22"/><path d="M109.7,319.5 L111.0,319.4 L112.4,319.3 L113.8,319.1 L115.1,319.0" stroke="#dc4a4e" stroke-width="0.8" fill="none"/><path d="M108.8,323.2 L109.1,323.4 L109.8,323.4 L110.8,323.4 L112.1,323.3 L113.5,323.1 L114.9,323.0 L116.2,322.9 L117.2,322.8 L117.9,322.9 L118.2,323.1 L118.4,323.9 L118.2,324.1 L117.7,324.4 L116.7,324.7 L115.5,325.0 L114.1,325.2 L112.7,325.3 L111.4,325.2 L110.2,325.0 L109.5,324.6 L109.1,324.0Z" fill="#b81a22"/><path d="M111.1,324.3 L112.4,324.2 L113.8,324.1 L115.2,323.9 L116.5,323.8" stroke="#dc4a4e" stroke-width="0.8" fill="none"/><path d="M110.2,328.0 L110.5,328.2 L111.2,328.2 L112.2,328.2 L113.5,328.1 L114.9,327.9 L116.3,327.8 L117.6,327.7 L118.6,327.6 L119.3,327.7 L119.6,327.9 L119.8,328.7 L119.6,328.9 L119.1,329.2 L118.1,329.5 L116.9,329.8 L115.5,330.0 L114.1,330.1 L112.8,330.0 L111.6,329.8 L110.9,329.4 L110.5,328.8Z" fill="#b81a22"/><path d="M112.5,329.1 L113.8,329.0 L115.2,328.9 L116.6,328.7 L117.9,328.6" stroke="#dc4a4e" stroke-width="0.8" fill="none"/><path d="M111.6,332.8 L111.9,333.0 L112.6,333.0 L113.6,333.0 L114.9,332.9 L116.3,332.7 L117.7,332.6 L119.0,332.5 L120.0,332.4 L120.7,332.5 L121.0,332.7 L121.2,333.5 L121.0,333.7 L120.5,334.0 L119.5,334.3 L118.3,334.6 L116.9,334.8 L115.5,334.9 L114.2,334.8 L113.0,334.6 L112.3,334.2 L111.9,333.6Z" fill="#b81a22"/><path d="M113.9,333.9 L115.2,333.8 L116.6,333.7 L118.0,333.5 L119.3,333.4" stroke="#dc4a4e" stroke-width="0.8" fill="none"/><path d="M113.0,337.6 L113.3,337.8 L114.0,337.8 L115.0,337.8 L116.3,337.7 L117.7,337.5 L119.1,337.4 L120.4,337.3 L121.4,337.2 L122.1,337.3 L122.4,337.5 L122.6,338.3 L122.4,338.5 L121.9,338.8 L120.9,339.1 L119.7,339.4 L118.3,339.6 L116.9,339.7 L115.6,339.6 L114.4,339.4 L113.7,339.0 L113.3,338.4Z" fill="#b81a22"/><path d="M115.3,338.7 L116.6,338.6 L118.0,338.5 L119.4,338.3 L120.7,338.2" stroke="#dc4a4e" stroke-width="0.8" fill="none"/><path d="M123.0,326.8 L122.9,327.2 L122.6,327.6 L121.9,328.1 L121.1,328.8 L120.2,329.4 L119.3,330.0 L118.5,330.7 L117.8,331.2 L117.5,331.6 L117.4,332.0 L117.8,333.2 L117.9,332.8 L118.2,332.4 L118.9,331.8 L119.7,331.2 L120.6,330.6 L121.5,329.9 L122.4,329.3 L123.0,328.8 L123.4,328.3 L123.4,328.0Z" fill="#6e0a12"/><path d="M125.0,332.5 L124.9,332.8 L124.6,333.3 L123.9,333.8 L123.1,334.4 L122.2,335.1 L121.3,335.7 L120.5,336.3 L119.8,336.9 L119.5,337.3 L119.4,337.6 L119.8,338.8 L119.9,338.5 L120.2,338.0 L120.9,337.5 L121.7,336.9 L122.6,336.3 L123.5,335.6 L124.4,335.0 L125.0,334.5 L125.4,334.0 L125.4,333.7Z" fill="#6e0a12"/><path d="M127.0,338.2 L126.9,338.5 L126.6,338.9 L125.9,339.5 L125.1,340.1 L124.2,340.7 L123.3,341.4 L122.5,342.0 L121.8,342.5 L121.5,343.0 L121.4,343.3 L121.8,344.5 L121.9,344.2 L122.2,343.7 L122.9,343.2 L123.7,342.6 L124.6,341.9 L125.5,341.3 L126.4,340.7 L127.0,340.1 L127.4,339.7 L127.4,339.3Z" fill="#6e0a12"/><path d="M115.4,326.3 L115.7,326.5 L116.2,326.7 L117.1,326.7 L118.1,326.6 L119.2,326.6 L120.3,326.5 L121.3,326.4 L122.2,326.5 L122.7,326.6 L123.0,326.8 L123.3,327.6 L123.1,327.8 L122.7,328.0 L122.0,328.2 L121.0,328.5 L119.9,328.6 L118.8,328.6 L117.7,328.5 L116.8,328.2 L116.1,327.7 L115.7,327.1Z" fill="#b81a22"/><path d="M117.4,327.6 L118.4,327.6 L119.5,327.5 L120.6,327.4 L121.7,327.4" stroke="#dc4a4e" stroke-width="0.8" fill="none"/><path d="M117.4,332.0 L117.7,332.2 L118.2,332.3 L119.1,332.4 L120.1,332.3 L121.2,332.2 L122.3,332.2 L123.3,332.1 L124.2,332.1 L124.7,332.3 L125.0,332.5 L125.3,333.3 L125.1,333.4 L124.7,333.7 L124.0,333.9 L123.0,334.1 L121.9,334.3 L120.8,334.3 L119.7,334.1 L118.8,333.8 L118.1,333.4 L117.7,332.7Z" fill="#b81a22"/><path d="M119.4,333.3 L120.4,333.2 L121.5,333.2 L122.6,333.1 L123.7,333.1" stroke="#dc4a4e" stroke-width="0.8" fill="none"/><path d="M119.4,337.6 L119.7,337.9 L120.2,338.0 L121.1,338.0 L122.1,338.0 L123.2,337.9 L124.3,337.8 L125.3,337.8 L126.2,337.8 L126.7,337.9 L127.0,338.2 L127.3,338.9 L127.1,339.1 L126.7,339.3 L126.0,339.6 L125.0,339.8 L123.9,339.9 L122.8,340.0 L121.7,339.8 L120.8,339.5 L120.1,339.0 L119.7,338.4Z" fill="#b81a22"/><path d="M121.4,339.0 L122.4,338.9 L123.5,338.8 L124.6,338.8 L125.7,338.7" stroke="#dc4a4e" stroke-width="0.8" fill="none"/><path d="M104.8,322.3 L104.8,322.6 L104.4,323.0 L103.8,323.5 L102.9,324.1 L102.0,324.7 L101.1,325.3 L100.2,325.9 L99.6,326.4 L99.2,326.8 L99.2,327.1 L99.6,328.3 L99.7,328.0 L100.0,327.6 L100.7,327.1 L101.5,326.5 L102.4,325.9 L103.4,325.3 L104.2,324.7 L104.8,324.2 L105.2,323.8 L105.3,323.5Z" fill="#6e0a12"/><path d="M106.6,327.1 L106.5,327.4 L106.1,327.8 L105.5,328.3 L104.7,328.9 L103.8,329.5 L102.8,330.1 L102.0,330.7 L101.4,331.2 L101.0,331.6 L100.9,331.9 L101.3,333.0 L101.4,332.8 L101.8,332.3 L102.4,331.8 L103.3,331.3 L104.2,330.7 L105.1,330.0 L105.9,329.5 L106.6,329.0 L107.0,328.5 L107.0,328.3Z" fill="#6e0a12"/><path d="M108.3,331.8 L108.3,332.1 L107.9,332.5 L107.3,333.0 L106.4,333.6 L105.5,334.2 L104.6,334.8 L103.7,335.4 L103.1,335.9 L102.7,336.3 L102.7,336.6 L103.1,337.8 L103.2,337.5 L103.5,337.1 L104.2,336.6 L105.0,336.0 L105.9,335.4 L106.9,334.8 L107.7,334.2 L108.3,333.7 L108.7,333.3 L108.8,333.0Z" fill="#6e0a12"/><path d="M110.1,336.6 L110.0,336.9 L109.6,337.3 L109.0,337.8 L108.2,338.4 L107.3,339.0 L106.3,339.6 L105.5,340.2 L104.9,340.7 L104.5,341.1 L104.4,341.4 L104.8,342.5 L104.9,342.3 L105.3,341.8 L105.9,341.3 L106.8,340.8 L107.7,340.2 L108.6,339.5 L109.4,339.0 L110.1,338.5 L110.5,338.0 L110.5,337.8Z" fill="#6e0a12"/><path d="M97.4,322.4 L97.7,322.5 L98.2,322.6 L99.0,322.6 L100.0,322.5 L101.1,322.3 L102.2,322.2 L103.2,322.1 L104.0,322.1 L104.6,322.1 L104.8,322.3 L105.1,323.1 L105.0,323.3 L104.6,323.6 L103.9,323.9 L103.0,324.2 L101.9,324.4 L100.7,324.4 L99.7,324.4 L98.8,324.1 L98.1,323.7 L97.7,323.1Z" fill="#b81a22"/><path d="M99.4,323.5 L100.4,323.4 L101.5,323.3 L102.6,323.1 L103.6,323.0" stroke="#dc4a4e" stroke-width="0.8" fill="none"/><path d="M99.2,327.1 L99.4,327.3 L100.0,327.4 L100.8,327.3 L101.8,327.2 L102.9,327.1 L104.0,327.0 L105.0,326.9 L105.8,326.8 L106.3,326.9 L106.6,327.1 L106.9,327.8 L106.8,328.0 L106.4,328.3 L105.6,328.6 L104.7,328.9 L103.6,329.1 L102.5,329.2 L101.4,329.1 L100.5,328.9 L99.8,328.4 L99.4,327.9Z" fill="#b81a22"/><path d="M101.1,328.3 L102.1,328.2 L103.2,328.0 L104.3,327.9 L105.3,327.8" stroke="#dc4a4e" stroke-width="0.8" fill="none"/><path d="M100.9,331.9 L101.2,332.0 L101.7,332.1 L102.5,332.1 L103.5,332.0 L104.6,331.8 L105.7,331.7 L106.7,331.6 L107.5,331.6 L108.1,331.6 L108.3,331.8 L108.6,332.6 L108.5,332.8 L108.1,333.1 L107.4,333.4 L106.5,333.7 L105.4,333.9 L104.2,333.9 L103.2,333.9 L102.3,333.6 L101.6,333.2 L101.2,332.6Z" fill="#b81a22"/><path d="M102.9,333.0 L103.9,332.9 L105.0,332.8 L106.1,332.6 L107.1,332.5" stroke="#dc4a4e" stroke-width="0.8" fill="none"/><path d="M102.7,336.6 L102.9,336.8 L103.5,336.9 L104.3,336.8 L105.3,336.7 L106.4,336.6 L107.5,336.5 L108.5,336.4 L109.3,336.3 L109.8,336.4 L110.1,336.6 L110.4,337.3 L110.3,337.5 L109.9,337.8 L109.1,338.1 L108.2,338.4 L107.1,338.6 L106.0,338.7 L104.9,338.6 L104.0,338.4 L103.3,337.9 L102.9,337.4Z" fill="#b81a22"/><path d="M104.6,337.8 L105.6,337.7 L106.7,337.5 L107.8,337.4 L108.8,337.3" stroke="#dc4a4e" stroke-width="0.8" fill="none"/><path d="M96.3,318.6 L96.2,318.9 L95.9,319.3 L95.3,319.7 L94.6,320.1 L93.8,320.6 L92.9,321.1 L92.2,321.6 L91.6,322.0 L91.3,322.4 L91.2,322.6 L91.5,323.8 L91.6,323.6 L92.0,323.2 L92.5,322.8 L93.3,322.3 L94.1,321.8 L94.9,321.4 L95.7,320.9 L96.2,320.5 L96.6,320.1 L96.7,319.9Z" fill="#6e0a12"/><path d="M97.6,323.3 L97.6,323.6 L97.2,323.9 L96.6,324.4 L95.9,324.8 L95.1,325.3 L94.3,325.8 L93.5,326.3 L93.0,326.7 L92.6,327.0 L92.5,327.3 L92.9,328.5 L93.0,328.2 L93.3,327.9 L93.9,327.5 L94.6,327.0 L95.4,326.5 L96.3,326.0 L97.0,325.6 L97.6,325.1 L97.9,324.8 L98.0,324.5Z" fill="#6e0a12"/><path d="M99.0,328.0 L98.9,328.3 L98.6,328.6 L98.0,329.0 L97.2,329.5 L96.4,330.0 L95.6,330.5 L94.9,330.9 L94.3,331.3 L93.9,331.7 L93.9,332.0 L94.2,333.2 L94.3,332.9 L94.6,332.5 L95.2,332.1 L95.9,331.7 L96.8,331.2 L97.6,330.7 L98.3,330.2 L98.9,329.8 L99.2,329.5 L99.3,329.2Z" fill="#6e0a12"/><path d="M89.9,318.0 L90.1,318.2 L90.6,318.3 L91.3,318.3 L92.1,318.3 L93.1,318.3 L94.0,318.3 L94.9,318.3 L95.6,318.3 L96.1,318.5 L96.3,318.6 L96.5,319.4 L96.4,319.6 L96.1,319.9 L95.4,320.1 L94.6,320.3 L93.7,320.4 L92.7,320.3 L91.8,320.1 L91.0,319.8 L90.4,319.3 L90.1,318.7Z" fill="#b81a22"/><path d="M91.5,319.3 L92.4,319.3 L93.4,319.3 L94.3,319.2 L95.2,319.2" stroke="#dc4a4e" stroke-width="0.8" fill="none"/><path d="M91.2,322.6 L91.4,322.8 L91.9,322.9 L92.6,323.0 L93.5,323.0 L94.4,323.0 L95.4,322.9 L96.2,323.0 L97.0,323.0 L97.4,323.1 L97.6,323.3 L97.9,324.1 L97.8,324.3 L97.4,324.5 L96.8,324.8 L96.0,325.0 L95.0,325.0 L94.0,325.0 L93.1,324.8 L92.3,324.5 L91.7,324.0 L91.4,323.4Z" fill="#b81a22"/><path d="M92.9,323.9 L93.7,323.9 L94.7,323.9 L95.6,323.9 L96.5,323.9" stroke="#dc4a4e" stroke-width="0.8" fill="none"/><path d="M92.5,327.3 L92.7,327.5 L93.2,327.6 L93.9,327.7 L94.8,327.7 L95.8,327.6 L96.7,327.6 L97.6,327.6 L98.3,327.7 L98.8,327.8 L99.0,328.0 L99.2,328.8 L99.1,329.0 L98.7,329.2 L98.1,329.4 L97.3,329.6 L96.3,329.7 L95.4,329.7 L94.4,329.5 L93.7,329.1 L93.1,328.7 L92.8,328.1Z" fill="#b81a22"/><path d="M94.2,328.6 L95.1,328.6 L96.0,328.6 L97.0,328.6 L97.9,328.6" stroke="#dc4a4e" stroke-width="0.8" fill="none"/><path d="M88.0,338.0 C88.7,337.5 90.7,335.2 92.0,335.0 C93.3,334.8 94.7,337.2 96.0,337.0 C97.3,336.8 98.7,334.0 100.0,334.0 C101.3,334.0 103.3,336.5 104.0,337.0" stroke="#8fc48f" stroke-width="0.7" fill="none"/></g>
<g fill="none" stroke="#3a8a3a">
<path d="M79.7,357.6 C80.8,357.8 84.0,358.9 86.0,359.0 C88.0,359.1 90.2,358.4 92.0,358.0 C93.8,357.6 95.5,357.3 97.0,356.5 C98.5,355.7 99.8,354.2 101.2,353.3 C102.6,352.4 104.0,351.8 105.3,351.2 C106.6,350.6 108.2,350.2 109.3,349.9 C110.4,349.6 111.5,349.3 112.0,349.2" stroke-width="2.2" stroke="#2a7a2a" stroke-dasharray="1.8,1.1"/>
<path d="M88.0,346.0 C89.2,345.7 93.0,345.0 95.0,344.0 C97.0,343.0 98.5,340.5 100.0,340.0 C101.5,339.5 103.3,340.8 104.0,341.0" stroke-width="0.7" stroke="#7fb87f"/>
<path d="M70.0,362.0 C71.0,361.7 74.4,360.7 76.0,360.0 C77.6,359.3 79.1,358.0 79.7,357.6" stroke-width="1.3" stroke-dasharray="1.4,1.1"/>
</g>
<path d="M132.3,337.5 L132.2,337.7 L131.7,337.9 L131.1,338.0 L130.2,338.2 L129.3,338.4 L128.4,338.6 L127.5,338.7 L126.9,338.9 L126.4,339.1 L126.3,339.2 L126.3,340.3 L126.4,340.1 L126.9,339.9 L127.5,339.8 L128.4,339.6 L129.3,339.4 L130.2,339.2 L131.1,339.1 L131.7,338.9 L132.2,338.7 L132.3,338.6Z" fill="#1d5a1d"/><path d="M132.3,341.0 L132.2,341.2 L131.7,341.4 L131.1,341.5 L130.2,341.7 L129.3,341.9 L128.4,342.1 L127.5,342.2 L126.9,342.4 L126.4,342.6 L126.3,342.8 L126.3,343.8 L126.4,343.6 L126.9,343.4 L127.5,343.3 L128.4,343.1 L129.3,342.9 L130.2,342.8 L131.1,342.6 L131.7,342.4 L132.2,342.2 L132.3,342.1Z" fill="#1d5a1d"/><path d="M132.3,344.5 L132.2,344.7 L131.7,344.9 L131.1,345.0 L130.2,345.2 L129.3,345.4 L128.4,345.6 L127.5,345.7 L126.9,345.9 L126.4,346.1 L126.3,346.2 L126.3,347.3 L126.4,347.1 L126.9,346.9 L127.5,346.8 L128.4,346.6 L129.3,346.4 L130.2,346.2 L131.1,346.1 L131.7,345.9 L132.2,345.7 L132.3,345.6Z" fill="#1d5a1d"/><path d="M132.3,348.0 L132.2,348.2 L131.7,348.4 L131.1,348.5 L130.2,348.7 L129.3,348.9 L128.4,349.1 L127.5,349.2 L126.9,349.4 L126.4,349.6 L126.3,349.8 L126.3,350.8 L126.4,350.6 L126.9,350.4 L127.5,350.3 L128.4,350.1 L129.3,349.9 L130.2,349.8 L131.1,349.6 L131.7,349.4 L132.2,349.2 L132.3,349.1Z" fill="#1d5a1d"/><path d="M132.3,351.5 L132.2,351.7 L131.7,351.9 L131.1,352.0 L130.2,352.2 L129.3,352.4 L128.4,352.6 L127.5,352.7 L126.9,352.9 L126.4,353.1 L126.3,353.2 L126.3,354.3 L126.4,354.1 L126.9,353.9 L127.5,353.8 L128.4,353.6 L129.3,353.4 L130.2,353.2 L131.1,353.1 L131.7,352.9 L132.2,352.7 L132.3,352.6Z" fill="#1d5a1d"/><path d="M132.3,355.0 L132.2,355.2 L131.7,355.4 L131.1,355.5 L130.2,355.7 L129.3,355.9 L128.4,356.1 L127.5,356.2 L126.9,356.4 L126.4,356.6 L126.3,356.8 L126.3,357.8 L126.4,357.6 L126.9,357.4 L127.5,357.3 L128.4,357.1 L129.3,356.9 L130.2,356.8 L131.1,356.6 L131.7,356.4 L132.2,356.2 L132.3,356.1Z" fill="#1d5a1d"/><path d="M126.3,335.8 L126.4,335.9 L126.9,336.1 L127.5,336.3 L128.4,336.4 L129.3,336.6 L130.2,336.8 L131.1,337.0 L131.7,337.1 L132.2,337.3 L132.3,337.5 L132.3,338.2 L132.2,338.3 L131.7,338.5 L131.1,338.6 L130.2,338.5 L129.3,338.4 L128.4,338.2 L127.5,337.9 L126.9,337.4 L126.4,336.9 L126.3,336.4Z" fill="#2f8a2f"/><path d="M127.5,337.1 L128.4,337.3 L129.3,337.4 L130.2,337.6 L131.1,337.8" stroke="#6cc06c" stroke-width="0.8" fill="none"/><path d="M126.3,339.2 L126.4,339.4 L126.9,339.6 L127.5,339.8 L128.4,339.9 L129.3,340.1 L130.2,340.3 L131.1,340.5 L131.7,340.6 L132.2,340.8 L132.3,341.0 L132.3,341.7 L132.2,341.8 L131.7,342.0 L131.1,342.1 L130.2,342.0 L129.3,341.9 L128.4,341.7 L127.5,341.4 L126.9,340.9 L126.4,340.4 L126.3,339.9Z" fill="#2f8a2f"/><path d="M127.5,340.6 L128.4,340.8 L129.3,340.9 L130.2,341.1 L131.1,341.3" stroke="#6cc06c" stroke-width="0.8" fill="none"/><path d="M126.3,342.8 L126.4,342.9 L126.9,343.1 L127.5,343.3 L128.4,343.4 L129.3,343.6 L130.2,343.8 L131.1,344.0 L131.7,344.1 L132.2,344.3 L132.3,344.5 L132.3,345.2 L132.2,345.3 L131.7,345.5 L131.1,345.6 L130.2,345.5 L129.3,345.4 L128.4,345.2 L127.5,344.9 L126.9,344.4 L126.4,343.9 L126.3,343.4Z" fill="#2f8a2f"/><path d="M127.5,344.1 L128.4,344.3 L129.3,344.4 L130.2,344.6 L131.1,344.8" stroke="#6cc06c" stroke-width="0.8" fill="none"/><path d="M126.3,346.2 L126.4,346.4 L126.9,346.6 L127.5,346.8 L128.4,346.9 L129.3,347.1 L130.2,347.3 L131.1,347.5 L131.7,347.6 L132.2,347.8 L132.3,348.0 L132.3,348.7 L132.2,348.8 L131.7,349.0 L131.1,349.1 L130.2,349.0 L129.3,348.9 L128.4,348.7 L127.5,348.4 L126.9,347.9 L126.4,347.4 L126.3,346.9Z" fill="#2f8a2f"/><path d="M127.5,347.6 L128.4,347.8 L129.3,347.9 L130.2,348.1 L131.1,348.3" stroke="#6cc06c" stroke-width="0.8" fill="none"/><path d="M126.3,349.8 L126.4,349.9 L126.9,350.1 L127.5,350.3 L128.4,350.4 L129.3,350.6 L130.2,350.8 L131.1,351.0 L131.7,351.1 L132.2,351.3 L132.3,351.5 L132.3,352.2 L132.2,352.3 L131.7,352.5 L131.1,352.6 L130.2,352.5 L129.3,352.4 L128.4,352.2 L127.5,351.9 L126.9,351.4 L126.4,350.9 L126.3,350.4Z" fill="#2f8a2f"/><path d="M127.5,351.1 L128.4,351.3 L129.3,351.4 L130.2,351.6 L131.1,351.8" stroke="#6cc06c" stroke-width="0.8" fill="none"/><path d="M126.3,353.2 L126.4,353.4 L126.9,353.6 L127.5,353.8 L128.4,353.9 L129.3,354.1 L130.2,354.3 L131.1,354.5 L131.7,354.6 L132.2,354.8 L132.3,355.0 L132.3,355.7 L132.2,355.8 L131.7,356.0 L131.1,356.1 L130.2,356.0 L129.3,355.9 L128.4,355.7 L127.5,355.4 L126.9,354.9 L126.4,354.4 L126.3,353.9Z" fill="#2f8a2f"/><path d="M127.5,354.6 L128.4,354.8 L129.3,354.9 L130.2,355.1 L131.1,355.3" stroke="#6cc06c" stroke-width="0.8" fill="none"/>
<path d="M140,313 q3,1 2,4 q-1,2 -3,2" stroke="#2e7d2e" stroke-width="2" fill="none"/>
<ellipse cx="114" cy="348.5" rx="2.5" ry="5.8" fill="#8e2a34" stroke="#5a0a12" stroke-width="0.9"/>
<path d="M112,345 h4 M111.8,348 h4.4 M112,351 h4" stroke="#c05a64" stroke-width="0.6"/>
<g stroke="#222" stroke-width="0.8">
<path d="M67,343.5 L75.7,341.4"/><path d="M76.3,350 L78.4,344.8"/><path d="M101.9,348.2 L106,343.5"/>
<path d="M97.2,366.3 L99.9,362.3"/><path d="M136.7,348.2 L132,345.5"/><path d="M127.3,367.7 L126,363"/>
</g>
<rect x="44.8" y="339.0" width="22.6" height="9.0" rx="2.5" fill="#e9e9ea"/><text x="46" y="346.8" font-size="9.0" font-weight="bold" fill="#111" stroke="#111" stroke-width="0.25" textLength="20.2" lengthAdjust="spacingAndGlyphs">Q448</text>
<rect x="55.6" y="351.2" width="21.9" height="9.0" rx="2.5" fill="#e9e9ea"/><text x="56.8" y="359" font-size="9.0" font-weight="bold" fill="#111" stroke="#111" stroke-width="0.25" textLength="19.5" lengthAdjust="spacingAndGlyphs">D469</text>
<rect x="80.5" y="348.0" width="22.6" height="9.0" rx="2.5" fill="#e9e9ea"/><text x="81.7" y="355.8" font-size="9.0" font-weight="bold" fill="#111" stroke="#111" stroke-width="0.25" textLength="20.2" lengthAdjust="spacingAndGlyphs">G274</text>
<rect x="103.8" y="357.5" width="20.7" height="9.0" rx="2.5" fill="#e9e9ea"/><text x="105" y="365.3" font-size="9.0" font-weight="bold" fill="#111" stroke="#111" stroke-width="0.25" textLength="18.3" lengthAdjust="spacingAndGlyphs">V556</text>
<rect x="136.2" y="343.7" width="20.6" height="9.0" rx="2.5" fill="#e9e9ea"/><text x="137.4" y="351.5" font-size="9.0" font-weight="bold" fill="#111" stroke="#111" stroke-width="0.25" textLength="18.2" lengthAdjust="spacingAndGlyphs">E564</text>
<rect x="79.8" y="368.6" width="20.6" height="9.0" rx="2.5" fill="#e9e9ea"/><text x="81" y="376.4" font-size="9.0" font-weight="bold" fill="#111" stroke="#111" stroke-width="0.25" textLength="18.2" lengthAdjust="spacingAndGlyphs">P495</text>
<rect x="120.8" y="369.6" width="21.2" height="9.0" rx="2.5" fill="#e9e9ea"/><text x="122" y="377.4" font-size="9.0" font-weight="bold" fill="#111" stroke="#111" stroke-width="0.25" textLength="18.8" lengthAdjust="spacingAndGlyphs">E552</text>
<g><g fill="none" stroke="#3d8b3d" stroke-width="1.1"><path d="M198.6,245.2 C199.5,246.2 202.0,248.9 204.0,251.0 C206.0,253.1 208.6,255.7 210.4,258.0 C212.2,260.3 213.6,262.5 215.0,265.0 C216.4,267.5 218.3,270.5 218.8,273.2 C219.3,275.9 218.5,278.4 218.0,281.0 C217.5,283.6 217.0,286.6 216.0,288.6 C215.0,290.6 213.2,291.8 212.0,293.0 C210.8,294.2 209.5,295.5 209.0,296.0"/><path d="M255.1,257.1 C255.5,257.9 256.9,260.0 257.7,261.6 C258.4,263.2 259.0,264.8 259.6,266.7 C260.2,268.6 260.6,271.2 261.5,273.1 C262.4,275.0 263.8,276.7 265.3,278.2 C266.8,279.7 268.7,280.7 270.4,282.0 C272.1,283.3 273.8,285.5 275.5,285.9 C277.2,286.3 279.2,284.4 280.7,284.6 C282.2,284.8 283.0,286.5 284.5,287.1 C286.0,287.7 288.1,288.4 289.6,288.4 C291.1,288.4 292.2,287.5 293.4,287.1 C294.5,286.7 296.0,286.1 296.5,285.9"/><path d="M197.0,316.0 C196.2,316.7 193.8,318.5 192.0,320.0 C190.2,321.5 187.8,323.7 186.0,325.0 C184.2,326.3 182.4,327.2 181.0,328.0 C179.6,328.8 178.2,329.7 177.6,330.0"/><path d="M265.4,365.0 C266.2,364.5 268.4,363.1 270.0,362.0 C271.6,360.9 273.5,359.9 274.7,358.6 C275.9,357.3 277.2,355.2 277.0,354.0 C276.8,352.8 274.8,352.2 273.6,351.6 C272.4,351.0 270.8,351.1 270.0,350.5 C269.2,349.9 268.7,349.0 268.9,348.2 C269.1,347.4 270.4,346.6 271.2,345.8 C272.0,345.0 273.0,344.2 273.6,343.5 C274.2,342.8 273.9,342.0 274.7,341.8 C275.5,341.6 277.0,342.6 278.2,342.4 C279.4,342.2 280.9,341.4 281.7,340.6 C282.5,339.8 282.9,338.7 282.8,337.7 C282.7,336.7 281.1,335.6 281.1,334.8 C281.1,334.0 281.9,333.2 282.8,333.1 C283.7,333.0 285.3,333.6 286.3,334.2 C287.3,334.8 287.8,336.0 288.6,336.6 C289.4,337.2 290.2,337.7 291.0,337.7 C291.8,337.7 292.6,337.0 293.3,336.6 C294.0,336.2 294.5,335.5 295.0,335.4 C295.5,335.3 296.2,335.9 296.5,336.0"/><path d="M277.0,348.2 C277.6,348.4 279.3,348.7 280.5,349.3 C281.7,349.9 283.0,351.8 284.0,351.6 C285.0,351.4 285.3,349.4 286.3,348.2 C287.3,347.0 288.6,345.5 289.8,344.7 C291.0,343.9 292.2,343.5 293.3,343.5 C294.4,343.5 296.0,344.5 296.5,344.7"/><path d="M289.8,347.0 C290.6,347.8 293.3,350.6 294.4,351.6 C295.5,352.6 296.1,352.6 296.5,352.8"/><path d="M178.3,384.4 C179.2,384.5 181.9,384.4 183.7,385.1 C185.5,385.8 187.5,387.3 189.1,388.5 C190.7,389.7 192.1,390.9 193.2,392.5 C194.3,394.1 195.1,396.3 195.8,397.9 C196.5,399.5 196.5,401.0 197.2,401.9 C197.9,402.8 198.8,403.3 199.9,403.3 C201.0,403.3 202.6,402.5 203.9,401.9 C205.2,401.3 206.7,400.1 208.0,399.9 C209.3,399.7 210.7,399.8 212.0,400.6 C213.3,401.4 214.4,403.5 216.0,404.6 C217.6,405.7 219.6,407.1 221.4,407.3 C223.2,407.5 225.5,406.9 226.8,406.0 C228.2,405.1 228.4,403.0 229.5,401.9 C230.6,400.8 231.9,399.5 233.5,399.2 C235.1,398.9 237.1,399.4 238.9,399.9 C240.7,400.3 243.4,401.6 244.3,401.9"/><path d="M177.6,410.7 C178.4,410.8 180.9,411.0 182.4,411.3 C183.9,411.6 185.5,413.4 186.4,412.7 C187.3,412.0 188.0,409.1 187.8,407.3 C187.6,405.5 185.3,403.2 185.1,401.9 C184.9,400.5 185.3,399.8 186.4,399.2 C187.5,398.6 190.0,398.4 191.8,398.6 C193.6,398.8 195.8,399.8 197.2,400.6 C198.5,401.4 198.8,402.4 199.9,403.3 C201.0,404.2 202.8,404.4 203.9,406.0 C205.0,407.6 206.3,410.5 206.6,412.7 C206.9,414.9 205.9,417.8 205.9,419.4 C205.9,421.0 206.5,422.0 206.6,422.5"/><path d="M203.9,401.9 C204.4,402.2 205.9,403.0 207.0,404.0 C208.1,405.0 210.4,406.8 210.6,408.0 C210.8,409.2 208.9,411.1 208.0,411.3 C207.1,411.5 205.5,409.4 205.0,409.0"/><path d="M268.0,378.0 C269.2,377.7 272.7,375.7 275.0,376.0 C277.3,376.3 280.2,378.0 282.0,380.0 C283.8,382.0 285.7,385.3 286.0,388.0 C286.3,390.7 283.7,393.7 284.0,396.0 C284.3,398.3 287.3,401.0 288.0,402.0"/></g><g fill="none" stroke="#e8922e" stroke-width="1"><path d="M233.5,262.6 C232.2,263.1 228.2,263.7 226.0,265.4 C223.8,267.1 221.0,270.0 220.6,272.8 C220.2,275.6 222.1,279.5 223.3,282.0 C224.5,284.5 226.6,286.4 228.0,287.7 C229.4,288.9 231.1,289.2 231.7,289.5"/><path d="M242.8,248.7 C243.4,248.4 245.1,246.6 246.5,246.9 C247.9,247.2 249.9,249.4 251.2,250.6 C252.4,251.8 253.2,253.1 254.0,254.3 C254.8,255.5 255.7,257.4 256.0,258.0"/><path d="M242.8,269.0 C243.6,268.1 246.0,264.7 247.5,263.5 C249.0,262.3 250.6,261.4 252.0,261.7 C253.4,262.0 254.8,264.0 255.8,265.4 C256.8,266.8 257.6,269.2 258.0,270.0"/><path d="M237.0,262.0 C237.5,261.0 239.0,257.7 240.0,256.0 C241.0,254.3 242.5,253.2 243.0,252.0 C243.5,250.8 242.8,249.2 242.8,248.7"/><path d="M270.7,282.0 C271.6,281.7 274.8,281.4 276.2,280.3 C277.6,279.2 278.2,276.9 279.0,275.6 C279.8,274.4 280.2,273.1 280.9,272.8 C281.6,272.5 282.6,273.8 283.0,274.0"/><path d="M238.0,300.0 C237.7,301.7 236.0,306.7 236.0,310.0 C236.0,313.3 237.0,316.7 238.0,320.0 C239.0,323.3 241.7,325.7 242.0,330.0 C242.3,334.3 240.3,343.3 240.0,346.0"/><path d="M243.8,315.5 C244.1,317.1 244.6,322.2 245.6,325.0 C246.6,327.8 248.4,329.5 250.0,332.0 C251.6,334.5 254.3,337.0 255.0,340.0 C255.7,343.0 254.2,348.3 254.0,350.0"/><path d="M255.0,314.0 C255.5,315.3 256.8,319.3 258.0,322.0 C259.2,324.7 262.0,327.3 262.0,330.0 C262.0,332.7 258.7,336.7 258.0,338.0"/><path d="M268.8,304.4 C268.7,305.3 268.6,308.7 268.0,310.0 C267.4,311.3 265.5,311.7 265.0,312.0"/></g><path d="M229.9,263.3 L234.6,302.3 L240.0,301.7 L235.3,262.7Z" fill="#e08a24" stroke="#9a5008" stroke-width="0.5"/><path d="M231.9,263.1 L236.6,302.1" stroke="#f0b050" stroke-width="1.5"/><path d="M230.5,263 L235,262 L236.5,270 L232.5,271Z" fill="#8a4a10"/><path d="M259.9,274.7 L271.5,284.7 L274.5,281.3 L262.9,271.3Z" fill="#ef9a2c" stroke="#b8640c" stroke-width="0.5"/><path d="M261.0,273.4 L272.6,283.4" stroke="#f9cd78" stroke-width="1.3"/><path d="M258.5,275.7 L265.9,305.7 L271.7,304.3 L264.3,274.3Z" fill="#ef9a2c" stroke="#b8640c" stroke-width="0.5"/><path d="M260.7,275.2 L268.1,305.2" stroke="#f9cd78" stroke-width="1.7"/><path d="M253.5,279.8 L251.8,314.8 L258.2,315.2 L259.9,280.2Z" fill="#ef9a2c" stroke="#b8640c" stroke-width="0.5"/><path d="M255.9,280.0 L254.2,315.0" stroke="#f9cd78" stroke-width="1.8"/><path d="M239.6,275.9 L238.8,314.9 L245.2,315.1 L246.0,276.1Z" fill="#ef9a2c" stroke="#b8640c" stroke-width="0.5"/><path d="M242.0,276.0 L241.2,315.0" stroke="#f9cd78" stroke-width="1.8"/><path d="M250.5,268.6 L244.5,316.6 L251.5,317.4 L257.5,269.4Z" fill="#ef9a2c" stroke="#b8640c" stroke-width="0.5"/><path d="M253.2,268.9 L247.2,316.9" stroke="#f9cd78" stroke-width="2.0"/><path d="M211.4,299.0 L211.1,299.6 L210.0,300.1 L208.3,300.5 L206.2,301.0 L203.9,301.5 L201.6,302.0 L199.5,302.5 L197.8,302.9 L196.7,303.4 L196.3,304.0 L196.3,307.2 L196.7,306.7 L197.7,306.2 L199.4,305.7 L201.5,305.2 L203.8,304.7 L206.2,304.2 L208.3,303.8 L209.9,303.3 L211.0,302.8 L211.4,302.3Z" fill="#6e0a12"/><path d="M211.2,309.4 L210.9,310.0 L209.8,310.5 L208.1,310.9 L206.0,311.4 L203.7,311.9 L201.4,312.4 L199.3,312.9 L197.6,313.3 L196.5,313.8 L196.1,314.4 L196.1,317.6 L196.5,317.1 L197.5,316.6 L199.2,316.1 L201.3,315.6 L203.6,315.1 L206.0,314.6 L208.1,314.2 L209.7,313.7 L210.8,313.2 L211.2,312.7Z" fill="#6e0a12"/><path d="M211.0,319.8 L210.7,320.4 L209.6,320.9 L207.9,321.3 L205.8,321.8 L203.5,322.3 L201.2,322.8 L199.1,323.3 L197.4,323.7 L196.3,324.2 L195.9,324.8 L195.9,328.0 L196.3,327.5 L197.3,327.0 L199.0,326.5 L201.1,326.0 L203.4,325.5 L205.8,325.0 L207.9,324.6 L209.5,324.1 L210.6,323.6 L211.0,323.1Z" fill="#6e0a12"/><path d="M210.8,330.2 L210.5,330.8 L209.4,331.3 L207.7,331.7 L205.6,332.2 L203.3,332.7 L201.0,333.2 L198.9,333.7 L197.2,334.1 L196.1,334.6 L195.7,335.2 L195.7,338.4 L196.1,337.9 L197.1,337.4 L198.8,336.9 L200.9,336.4 L203.2,335.9 L205.6,335.4 L207.7,335.0 L209.3,334.5 L210.4,334.0 L210.8,333.5Z" fill="#6e0a12"/><path d="M210.6,340.6 L210.3,341.2 L209.2,341.7 L207.5,342.1 L205.4,342.6 L203.1,343.1 L200.8,343.6 L198.7,344.1 L197.0,344.5 L195.9,345.0 L195.5,345.6 L195.5,348.8 L195.9,348.3 L196.9,347.8 L198.6,347.3 L200.7,346.8 L203.0,346.3 L205.4,345.8 L207.5,345.4 L209.1,344.9 L210.2,344.4 L210.6,343.9Z" fill="#6e0a12"/><path d="M196.5,293.6 L196.9,294.1 L198.0,294.6 L199.6,295.2 L201.7,295.7 L204.0,296.3 L206.3,296.9 L208.4,297.4 L210.0,298.0 L211.1,298.5 L211.4,299.0 L211.4,301.1 L211.0,301.7 L210.0,302.1 L208.3,302.3 L206.2,302.2 L203.9,301.8 L201.6,301.1 L199.5,300.0 L197.9,298.7 L196.8,297.2 L196.5,295.6Z" fill="#b81a22"/><path d="M199.6,297.7 L201.6,298.3 L203.9,298.8 L206.3,299.4 L208.3,300.0" stroke="#dc4a4e" stroke-width="0.8" fill="none"/><path d="M196.3,304.0 L196.7,304.5 L197.8,305.0 L199.4,305.6 L201.5,306.1 L203.8,306.7 L206.1,307.3 L208.2,307.8 L209.8,308.4 L210.9,308.9 L211.2,309.4 L211.2,311.5 L210.8,312.1 L209.8,312.5 L208.1,312.7 L206.0,312.6 L203.7,312.2 L201.4,311.5 L199.3,310.4 L197.7,309.1 L196.6,307.6 L196.3,306.0Z" fill="#b81a22"/><path d="M199.4,308.1 L201.4,308.7 L203.7,309.2 L206.1,309.8 L208.1,310.4" stroke="#dc4a4e" stroke-width="0.8" fill="none"/><path d="M196.1,314.4 L196.5,314.9 L197.6,315.4 L199.2,316.0 L201.3,316.5 L203.6,317.1 L205.9,317.7 L208.0,318.2 L209.6,318.8 L210.7,319.3 L211.0,319.8 L211.0,321.9 L210.6,322.5 L209.6,322.9 L207.9,323.1 L205.8,323.0 L203.5,322.6 L201.2,321.9 L199.1,320.8 L197.5,319.5 L196.4,318.0 L196.1,316.4Z" fill="#b81a22"/><path d="M199.2,318.5 L201.2,319.1 L203.5,319.6 L205.9,320.2 L207.9,320.8" stroke="#dc4a4e" stroke-width="0.8" fill="none"/><path d="M195.9,324.8 L196.3,325.3 L197.4,325.8 L199.0,326.4 L201.1,326.9 L203.4,327.5 L205.7,328.1 L207.8,328.6 L209.4,329.2 L210.5,329.7 L210.8,330.2 L210.8,332.3 L210.4,332.9 L209.4,333.3 L207.7,333.5 L205.6,333.4 L203.3,333.0 L201.0,332.3 L198.9,331.2 L197.3,329.9 L196.2,328.4 L195.9,326.8Z" fill="#b81a22"/><path d="M199.0,328.9 L201.0,329.5 L203.3,330.0 L205.7,330.6 L207.7,331.2" stroke="#dc4a4e" stroke-width="0.8" fill="none"/><path d="M195.7,335.2 L196.1,335.7 L197.2,336.2 L198.8,336.8 L200.9,337.3 L203.2,337.9 L205.5,338.5 L207.6,339.0 L209.2,339.6 L210.3,340.1 L210.6,340.6 L210.6,342.7 L210.2,343.3 L209.2,343.7 L207.5,343.9 L205.4,343.8 L203.1,343.4 L200.8,342.7 L198.7,341.6 L197.1,340.3 L196.0,338.8 L195.7,337.2Z" fill="#b81a22"/><path d="M198.8,339.3 L200.8,339.9 L203.1,340.4 L205.5,341.0 L207.5,341.6" stroke="#dc4a4e" stroke-width="0.8" fill="none"/><path d="M218.3,319.9 L218.7,320.3 L219.1,321.3 L219.3,322.8 L219.5,324.6 L219.7,326.7 L219.9,328.7 L220.1,330.6 L220.4,332.1 L220.7,333.1 L221.1,333.4 L224.3,333.9 L223.9,333.5 L223.6,332.5 L223.3,331.0 L223.1,329.2 L222.9,327.1 L222.7,325.1 L222.5,323.2 L222.3,321.7 L221.9,320.7 L221.5,320.4Z" fill="#6e0a12"/><path d="M227.6,321.2 L228.1,321.6 L228.4,322.6 L228.7,324.1 L228.9,326.0 L229.1,328.0 L229.2,330.1 L229.4,331.9 L229.7,333.4 L230.0,334.4 L230.5,334.8 L233.7,335.2 L233.2,334.8 L232.9,333.9 L232.6,332.4 L232.4,330.5 L232.2,328.5 L232.1,326.4 L231.9,324.5 L231.6,323.1 L231.3,322.1 L230.8,321.7Z" fill="#6e0a12"/><path d="M237.0,322.6 L237.4,323.0 L237.7,323.9 L238.0,325.4 L238.2,327.3 L238.4,329.3 L238.6,331.4 L238.8,333.3 L239.0,334.7 L239.4,335.7 L239.8,336.1 L243.0,336.6 L242.6,336.2 L242.2,335.2 L242.0,333.7 L241.8,331.9 L241.6,329.8 L241.4,327.7 L241.2,325.9 L240.9,324.4 L240.6,323.4 L240.2,323.0Z" fill="#6e0a12"/><path d="M211.8,332.1 L212.3,331.9 L212.9,331.0 L213.6,329.7 L214.3,327.9 L215.1,326.0 L215.8,324.1 L216.5,322.4 L217.2,321.0 L217.8,320.2 L218.3,319.9 L220.4,320.2 L220.9,320.6 L221.3,321.6 L221.3,323.0 L221.1,324.8 L220.5,326.8 L219.6,328.7 L218.4,330.3 L217.0,331.6 L215.4,332.3 L213.9,332.4Z" fill="#b81a22"/><path d="M216.1,330.0 L216.8,328.3 L217.6,326.4 L218.3,324.4 L219.0,322.7" stroke="#dc4a4e" stroke-width="0.8" fill="none"/><path d="M221.1,333.4 L221.6,333.2 L222.2,332.3 L222.9,331.0 L223.6,329.3 L224.4,327.3 L225.1,325.4 L225.9,323.7 L226.5,322.3 L227.1,321.5 L227.6,321.2 L229.7,321.5 L230.2,321.9 L230.6,322.9 L230.7,324.4 L230.4,326.2 L229.9,328.1 L228.9,330.0 L227.7,331.7 L226.3,332.9 L224.8,333.6 L223.2,333.7Z" fill="#b81a22"/><path d="M225.4,331.3 L226.1,329.6 L226.9,327.7 L227.6,325.8 L228.4,324.1" stroke="#dc4a4e" stroke-width="0.8" fill="none"/><path d="M230.5,334.8 L231.0,334.5 L231.6,333.7 L232.2,332.3 L233.0,330.6 L233.7,328.7 L234.5,326.8 L235.2,325.0 L235.9,323.7 L236.5,322.8 L237.0,322.6 L239.0,322.9 L239.6,323.3 L239.9,324.2 L240.0,325.7 L239.8,327.5 L239.2,329.5 L238.3,331.4 L237.1,333.0 L235.6,334.3 L234.1,335.0 L232.5,335.1Z" fill="#b81a22"/><path d="M234.8,332.7 L235.5,331.0 L236.2,329.0 L237.0,327.1 L237.7,325.4" stroke="#dc4a4e" stroke-width="0.8" fill="none"/><path d="M217.8,337.3 L217.5,337.8 L216.5,338.5 L215.0,339.2 L213.0,340.0 L210.8,340.9 L208.6,341.7 L206.6,342.5 L205.0,343.2 L204.0,343.9 L203.7,344.4 L204.2,347.6 L204.5,347.0 L205.5,346.4 L207.1,345.7 L209.1,344.9 L211.3,344.0 L213.5,343.2 L215.5,342.4 L217.0,341.7 L218.0,341.0 L218.3,340.5Z" fill="#6e0a12"/><path d="M219.3,346.8 L219.0,347.3 L218.0,348.0 L216.5,348.7 L214.5,349.5 L212.3,350.4 L210.1,351.2 L208.1,352.0 L206.5,352.7 L205.5,353.4 L205.2,353.9 L205.7,357.1 L206.0,356.5 L207.0,355.9 L208.6,355.2 L210.6,354.4 L212.8,353.5 L215.0,352.7 L217.0,351.9 L218.5,351.2 L219.5,350.5 L219.8,350.0Z" fill="#6e0a12"/><path d="M220.8,356.3 L220.5,356.8 L219.5,357.5 L218.0,358.2 L216.0,359.0 L213.8,359.9 L211.6,360.7 L209.6,361.5 L208.0,362.2 L207.0,362.9 L206.7,363.4 L207.2,366.6 L207.5,366.0 L208.5,365.4 L210.1,364.7 L212.1,363.9 L214.3,363.0 L216.5,362.2 L218.5,361.4 L220.0,360.7 L221.0,360.0 L221.3,359.5Z" fill="#6e0a12"/><path d="M222.3,365.8 L222.0,366.3 L221.0,367.0 L219.5,367.7 L217.5,368.5 L215.3,369.4 L213.1,370.2 L211.1,371.0 L209.5,371.7 L208.5,372.4 L208.2,372.9 L208.7,376.1 L209.0,375.5 L210.0,374.9 L211.6,374.2 L213.6,373.4 L215.8,372.5 L218.0,371.7 L220.0,370.9 L221.5,370.2 L222.5,369.5 L222.8,369.0Z" fill="#6e0a12"/><path d="M202.2,334.9 L202.7,335.3 L203.8,335.6 L205.5,335.8 L207.7,336.0 L210.0,336.1 L212.4,336.2 L214.5,336.4 L216.2,336.6 L217.4,336.9 L217.8,337.3 L218.1,339.4 L217.9,340.0 L216.9,340.6 L215.3,341.2 L213.2,341.5 L210.9,341.6 L208.5,341.3 L206.3,340.6 L204.4,339.7 L203.2,338.4 L202.6,336.9Z" fill="#b81a22"/><path d="M205.9,338.3 L208.0,338.5 L210.4,338.6 L212.8,338.7 L214.9,338.9" stroke="#dc4a4e" stroke-width="0.8" fill="none"/><path d="M203.7,344.4 L204.2,344.8 L205.3,345.1 L207.0,345.3 L209.2,345.5 L211.5,345.6 L213.9,345.7 L216.0,345.9 L217.7,346.1 L218.9,346.4 L219.3,346.8 L219.6,348.9 L219.4,349.5 L218.4,350.1 L216.8,350.7 L214.7,351.0 L212.4,351.1 L210.0,350.8 L207.8,350.1 L205.9,349.2 L204.7,347.9 L204.1,346.4Z" fill="#b81a22"/><path d="M207.4,347.8 L209.5,348.0 L211.9,348.1 L214.3,348.2 L216.4,348.4" stroke="#dc4a4e" stroke-width="0.8" fill="none"/><path d="M205.2,353.9 L205.7,354.3 L206.8,354.6 L208.5,354.8 L210.7,355.0 L213.0,355.1 L215.4,355.2 L217.5,355.4 L219.2,355.6 L220.4,355.9 L220.8,356.3 L221.1,358.4 L220.9,359.0 L219.9,359.6 L218.3,360.2 L216.2,360.5 L213.9,360.6 L211.5,360.3 L209.3,359.6 L207.4,358.7 L206.2,357.4 L205.6,355.9Z" fill="#b81a22"/><path d="M208.9,357.3 L211.0,357.5 L213.4,357.6 L215.8,357.7 L217.9,357.9" stroke="#dc4a4e" stroke-width="0.8" fill="none"/><path d="M206.7,363.4 L207.2,363.8 L208.3,364.1 L210.0,364.3 L212.2,364.5 L214.5,364.6 L216.9,364.7 L219.0,364.9 L220.7,365.1 L221.9,365.4 L222.3,365.8 L222.6,367.9 L222.4,368.5 L221.4,369.1 L219.8,369.7 L217.7,370.0 L215.4,370.1 L213.0,369.8 L210.8,369.1 L208.9,368.2 L207.7,366.9 L207.1,365.4Z" fill="#b81a22"/><path d="M210.4,366.8 L212.5,367.0 L214.9,367.1 L217.3,367.2 L219.4,367.4" stroke="#dc4a4e" stroke-width="0.8" fill="none"/><path d="M232.4,335.5 L232.1,336.1 L231.1,336.8 L229.5,337.7 L227.4,338.6 L225.1,339.6 L222.7,340.6 L220.7,341.5 L219.0,342.4 L218.0,343.1 L217.7,343.7 L218.3,346.9 L218.6,346.3 L219.6,345.6 L221.3,344.7 L223.3,343.8 L225.7,342.8 L228.0,341.8 L230.1,340.8 L231.7,340.0 L232.7,339.3 L233.0,338.7Z" fill="#6e0a12"/><path d="M234.4,346.0 L234.1,346.6 L233.1,347.3 L231.5,348.2 L229.4,349.1 L227.1,350.1 L224.7,351.1 L222.7,352.0 L221.0,352.9 L220.0,353.6 L219.7,354.2 L220.3,357.4 L220.6,356.8 L221.6,356.1 L223.3,355.2 L225.3,354.3 L227.7,353.3 L230.0,352.3 L232.1,351.3 L233.7,350.5 L234.7,349.8 L235.0,349.2Z" fill="#6e0a12"/><path d="M236.4,356.5 L236.1,357.1 L235.1,357.8 L233.5,358.7 L231.4,359.6 L229.1,360.6 L226.7,361.6 L224.7,362.5 L223.0,363.4 L222.0,364.1 L221.7,364.7 L222.3,367.9 L222.6,367.3 L223.6,366.6 L225.3,365.7 L227.3,364.8 L229.7,363.8 L232.0,362.8 L234.1,361.8 L235.7,361.0 L236.7,360.3 L237.0,359.7Z" fill="#6e0a12"/><path d="M238.4,367.0 L238.1,367.6 L237.1,368.3 L235.5,369.2 L233.4,370.1 L231.1,371.1 L228.7,372.1 L226.7,373.0 L225.0,373.9 L224.0,374.6 L223.7,375.2 L224.3,378.4 L224.6,377.8 L225.6,377.1 L227.3,376.2 L229.3,375.3 L231.7,374.3 L234.0,373.3 L236.1,372.3 L237.7,371.5 L238.7,370.8 L239.0,370.2Z" fill="#6e0a12"/><path d="M215.7,333.2 L216.2,333.7 L217.4,334.0 L219.3,334.2 L221.5,334.3 L224.1,334.4 L226.6,334.4 L228.9,334.5 L230.7,334.7 L231.9,335.0 L232.4,335.5 L232.8,337.5 L232.5,338.1 L231.5,338.8 L229.8,339.3 L227.6,339.7 L225.1,339.8 L222.5,339.6 L220.2,339.0 L218.2,338.0 L216.8,336.8 L216.1,335.3Z" fill="#b81a22"/><path d="M219.7,336.7 L222.0,336.8 L224.5,336.9 L227.1,336.9 L229.4,337.0" stroke="#dc4a4e" stroke-width="0.8" fill="none"/><path d="M217.7,343.7 L218.2,344.2 L219.4,344.5 L221.3,344.7 L223.5,344.8 L226.1,344.9 L228.6,344.9 L230.9,345.0 L232.7,345.2 L233.9,345.5 L234.4,346.0 L234.8,348.0 L234.5,348.6 L233.5,349.3 L231.8,349.8 L229.6,350.2 L227.1,350.3 L224.5,350.1 L222.2,349.5 L220.2,348.5 L218.8,347.3 L218.1,345.8Z" fill="#b81a22"/><path d="M221.7,347.2 L224.0,347.3 L226.5,347.4 L229.1,347.4 L231.4,347.5" stroke="#dc4a4e" stroke-width="0.8" fill="none"/><path d="M219.7,354.2 L220.2,354.7 L221.4,355.0 L223.3,355.2 L225.5,355.3 L228.1,355.4 L230.6,355.4 L232.9,355.5 L234.7,355.7 L235.9,356.0 L236.4,356.5 L236.8,358.5 L236.5,359.1 L235.5,359.8 L233.8,360.3 L231.6,360.7 L229.1,360.8 L226.5,360.6 L224.2,360.0 L222.2,359.0 L220.8,357.8 L220.1,356.3Z" fill="#b81a22"/><path d="M223.7,357.7 L226.0,357.8 L228.5,357.9 L231.1,357.9 L233.4,358.0" stroke="#dc4a4e" stroke-width="0.8" fill="none"/><path d="M221.7,364.7 L222.2,365.2 L223.4,365.5 L225.3,365.7 L227.5,365.8 L230.1,365.9 L232.6,365.9 L234.9,366.0 L236.7,366.2 L237.9,366.5 L238.4,367.0 L238.8,369.0 L238.5,369.6 L237.5,370.3 L235.8,370.8 L233.6,371.2 L231.1,371.3 L228.5,371.1 L226.2,370.5 L224.2,369.5 L222.8,368.3 L222.1,366.8Z" fill="#b81a22"/><path d="M225.7,368.2 L228.0,368.3 L230.5,368.4 L233.1,368.4 L235.4,368.5" stroke="#dc4a4e" stroke-width="0.8" fill="none"/><path d="M245.8,332.9 L245.6,333.5 L244.8,334.3 L243.5,335.4 L241.8,336.7 L239.9,338.1 L237.9,339.5 L236.2,340.7 L234.9,341.8 L234.1,342.7 L234.0,343.3 L235.3,346.2 L235.4,345.6 L236.2,344.8 L237.6,343.7 L239.3,342.4 L241.2,341.0 L243.1,339.7 L244.8,338.4 L246.2,337.3 L246.9,336.4 L247.1,335.9Z" fill="#6e0a12"/><path d="M249.5,341.2 L249.4,341.7 L248.6,342.6 L247.2,343.7 L245.5,345.0 L243.6,346.3 L241.7,347.7 L240.0,349.0 L238.6,350.1 L237.9,350.9 L237.7,351.5 L239.1,354.4 L239.2,353.9 L240.0,353.0 L241.3,351.9 L243.0,350.6 L244.9,349.3 L246.9,347.9 L248.6,346.6 L249.9,345.5 L250.7,344.7 L250.8,344.1Z" fill="#6e0a12"/><path d="M253.3,349.4 L253.1,350.0 L252.3,350.8 L251.0,351.9 L249.3,353.2 L247.4,354.6 L245.4,356.0 L243.7,357.2 L242.4,358.3 L241.6,359.2 L241.5,359.8 L242.8,362.7 L242.9,362.1 L243.7,361.3 L245.1,360.2 L246.8,358.9 L248.7,357.5 L250.6,356.2 L252.3,354.9 L253.7,353.8 L254.4,352.9 L254.6,352.4Z" fill="#6e0a12"/><path d="M257.0,357.7 L256.9,358.2 L256.1,359.1 L254.7,360.2 L253.0,361.5 L251.1,362.8 L249.2,364.2 L247.5,365.5 L246.1,366.6 L245.4,367.4 L245.2,368.0 L246.6,370.9 L246.7,370.4 L247.5,369.5 L248.8,368.4 L250.5,367.1 L252.4,365.8 L254.4,364.4 L256.1,363.1 L257.4,362.0 L258.2,361.2 L258.3,360.6Z" fill="#6e0a12"/><path d="M230.2,335.0 L230.7,335.3 L231.9,335.2 L233.6,335.0 L235.7,334.5 L238.0,334.0 L240.3,333.4 L242.4,333.0 L244.1,332.7 L245.2,332.7 L245.8,332.9 L246.6,334.8 L246.5,335.5 L245.8,336.4 L244.4,337.4 L242.5,338.3 L240.3,339.0 L237.9,339.4 L235.6,339.4 L233.6,339.0 L232.0,338.1 L231.1,336.9Z" fill="#b81a22"/><path d="M234.6,337.3 L236.7,336.8 L239.0,336.3 L241.3,335.7 L243.4,335.3" stroke="#dc4a4e" stroke-width="0.8" fill="none"/><path d="M234.0,343.3 L234.5,343.5 L235.6,343.5 L237.3,343.2 L239.4,342.8 L241.7,342.2 L244.0,341.7 L246.1,341.2 L247.8,340.9 L249.0,340.9 L249.5,341.2 L250.4,343.1 L250.3,343.8 L249.5,344.7 L248.1,345.6 L246.2,346.5 L244.0,347.2 L241.7,347.6 L239.4,347.6 L237.3,347.2 L235.8,346.4 L234.8,345.1Z" fill="#b81a22"/><path d="M238.4,345.5 L240.5,345.1 L242.8,344.5 L245.1,344.0 L247.2,343.5" stroke="#dc4a4e" stroke-width="0.8" fill="none"/><path d="M237.7,351.5 L238.2,351.8 L239.4,351.7 L241.1,351.5 L243.2,351.0 L245.5,350.5 L247.8,349.9 L249.9,349.5 L251.6,349.2 L252.7,349.2 L253.3,349.4 L254.1,351.3 L254.0,352.0 L253.3,352.9 L251.9,353.9 L250.0,354.8 L247.8,355.5 L245.4,355.9 L243.1,355.9 L241.1,355.5 L239.5,354.6 L238.6,353.4Z" fill="#b81a22"/><path d="M242.1,353.8 L244.2,353.3 L246.5,352.8 L248.8,352.2 L250.9,351.8" stroke="#dc4a4e" stroke-width="0.8" fill="none"/><path d="M241.5,359.8 L242.0,360.0 L243.1,360.0 L244.8,359.7 L246.9,359.3 L249.2,358.7 L251.5,358.2 L253.6,357.7 L255.3,357.4 L256.5,357.4 L257.0,357.7 L257.9,359.6 L257.8,360.3 L257.0,361.2 L255.6,362.1 L253.7,363.0 L251.5,363.7 L249.2,364.1 L246.9,364.1 L244.8,363.7 L243.3,362.9 L242.3,361.6Z" fill="#b81a22"/><path d="M245.9,362.0 L248.0,361.6 L250.3,361.0 L252.6,360.5 L254.7,360.0" stroke="#dc4a4e" stroke-width="0.8" fill="none"/><path d="M252.3,364.5 L252.0,365.1 L251.0,365.8 L249.4,366.6 L247.3,367.5 L245.0,368.5 L242.7,369.5 L240.6,370.4 L239.0,371.3 L238.0,372.0 L237.7,372.5 L238.4,375.6 L238.7,375.1 L239.7,374.4 L241.3,373.6 L243.4,372.6 L245.7,371.6 L248.0,370.7 L250.1,369.7 L251.7,368.9 L252.7,368.2 L253.0,367.7Z" fill="#6e0a12"/><path d="M254.3,373.5 L254.0,374.1 L253.0,374.8 L251.4,375.6 L249.3,376.5 L247.0,377.5 L244.7,378.5 L242.6,379.4 L241.0,380.3 L240.0,381.0 L239.7,381.5 L240.4,384.6 L240.7,384.1 L241.7,383.4 L243.3,382.6 L245.4,381.6 L247.7,380.6 L250.0,379.7 L252.1,378.7 L253.7,377.9 L254.7,377.2 L255.0,376.7Z" fill="#6e0a12"/><path d="M256.3,382.5 L256.0,383.1 L255.0,383.8 L253.4,384.6 L251.3,385.5 L249.0,386.5 L246.7,387.5 L244.6,388.4 L243.0,389.3 L242.0,390.0 L241.7,390.5 L242.4,393.6 L242.7,393.1 L243.7,392.4 L245.3,391.6 L247.4,390.6 L249.7,389.6 L252.0,388.7 L254.1,387.7 L255.7,386.9 L256.7,386.2 L257.0,385.7Z" fill="#6e0a12"/><path d="M258.3,391.5 L258.0,392.1 L257.0,392.8 L255.4,393.6 L253.3,394.5 L251.0,395.5 L248.7,396.5 L246.6,397.4 L245.0,398.3 L244.0,399.0 L243.7,399.5 L244.4,402.6 L244.7,402.1 L245.7,401.4 L247.3,400.6 L249.4,399.6 L251.7,398.6 L254.0,397.7 L256.1,396.7 L257.7,395.9 L258.7,395.2 L259.0,394.7Z" fill="#6e0a12"/><path d="M260.3,400.5 L260.0,401.1 L259.0,401.8 L257.4,402.6 L255.3,403.5 L253.0,404.5 L250.7,405.5 L248.6,406.4 L247.0,407.3 L246.0,408.0 L245.7,408.5 L246.4,411.6 L246.7,411.1 L247.7,410.4 L249.3,409.6 L251.4,408.6 L253.7,407.6 L256.0,406.7 L258.1,405.7 L259.7,404.9 L260.7,404.2 L261.0,403.7Z" fill="#6e0a12"/><path d="M235.7,363.5 L236.2,363.9 L237.4,364.1 L239.2,364.1 L241.5,364.1 L244.0,364.0 L246.5,363.9 L248.8,363.9 L250.6,364.0 L251.8,364.2 L252.3,364.5 L252.8,366.5 L252.5,367.2 L251.5,368.0 L249.8,368.6 L247.7,369.1 L245.2,369.4 L242.6,369.3 L240.3,368.9 L238.3,368.1 L236.9,366.9 L236.1,365.5Z" fill="#b81a22"/><path d="M239.8,366.6 L242.0,366.6 L244.5,366.5 L247.1,366.4 L249.3,366.4" stroke="#dc4a4e" stroke-width="0.8" fill="none"/><path d="M237.7,372.5 L238.2,372.9 L239.4,373.1 L241.2,373.1 L243.5,373.1 L246.0,373.0 L248.5,372.9 L250.8,372.9 L252.6,373.0 L253.8,373.2 L254.3,373.5 L254.8,375.5 L254.5,376.2 L253.5,377.0 L251.8,377.6 L249.7,378.1 L247.2,378.4 L244.6,378.3 L242.3,377.9 L240.3,377.1 L238.9,375.9 L238.1,374.5Z" fill="#b81a22"/><path d="M241.8,375.6 L244.0,375.6 L246.5,375.5 L249.1,375.4 L251.3,375.4" stroke="#dc4a4e" stroke-width="0.8" fill="none"/><path d="M239.7,381.5 L240.2,381.9 L241.4,382.1 L243.2,382.1 L245.5,382.1 L248.0,382.0 L250.5,381.9 L252.8,381.9 L254.6,382.0 L255.8,382.2 L256.3,382.5 L256.8,384.5 L256.5,385.2 L255.5,386.0 L253.8,386.6 L251.7,387.1 L249.2,387.4 L246.6,387.3 L244.3,386.9 L242.3,386.1 L240.9,384.9 L240.1,383.5Z" fill="#b81a22"/><path d="M243.8,384.6 L246.0,384.6 L248.5,384.5 L251.1,384.4 L253.3,384.4" stroke="#dc4a4e" stroke-width="0.8" fill="none"/><path d="M241.7,390.5 L242.2,390.9 L243.4,391.1 L245.2,391.1 L247.5,391.1 L250.0,391.0 L252.5,390.9 L254.8,390.9 L256.6,391.0 L257.8,391.2 L258.3,391.5 L258.8,393.5 L258.5,394.2 L257.5,395.0 L255.8,395.6 L253.7,396.1 L251.2,396.4 L248.6,396.3 L246.3,395.9 L244.3,395.1 L242.9,393.9 L242.1,392.5Z" fill="#b81a22"/><path d="M245.8,393.6 L248.0,393.6 L250.5,393.5 L253.1,393.4 L255.3,393.4" stroke="#dc4a4e" stroke-width="0.8" fill="none"/><path d="M243.7,399.5 L244.2,399.9 L245.4,400.1 L247.2,400.1 L249.5,400.1 L252.0,400.0 L254.5,399.9 L256.8,399.9 L258.6,400.0 L259.8,400.2 L260.3,400.5 L260.8,402.5 L260.5,403.2 L259.5,404.0 L257.8,404.6 L255.7,405.1 L253.2,405.4 L250.6,405.3 L248.3,404.9 L246.3,404.1 L244.9,402.9 L244.1,401.5Z" fill="#b81a22"/><path d="M247.8,402.6 L250.0,402.6 L252.5,402.5 L255.1,402.4 L257.3,402.4" stroke="#dc4a4e" stroke-width="0.8" fill="none"/><path d="M226.4,372.9 L226.5,373.4 L226.3,374.4 L225.8,375.8 L225.0,377.5 L224.2,379.4 L223.3,381.2 L222.5,382.9 L222.0,384.3 L221.8,385.3 L221.9,385.8 L224.5,387.8 L224.4,387.2 L224.6,386.3 L225.1,384.9 L225.9,383.2 L226.7,381.3 L227.6,379.4 L228.4,377.7 L228.9,376.3 L229.1,375.4 L229.0,374.9Z" fill="#6e0a12"/><path d="M233.1,377.9 L233.2,378.4 L233.0,379.4 L232.5,380.8 L231.7,382.5 L230.8,384.4 L230.0,386.2 L229.2,387.9 L228.7,389.3 L228.5,390.3 L228.6,390.8 L231.2,392.8 L231.0,392.2 L231.2,391.3 L231.8,389.9 L232.5,388.2 L233.4,386.3 L234.3,384.4 L235.0,382.7 L235.6,381.3 L235.8,380.4 L235.6,379.9Z" fill="#6e0a12"/><path d="M239.7,382.9 L239.9,383.4 L239.6,384.4 L239.1,385.8 L238.4,387.5 L237.5,389.4 L236.6,391.2 L235.9,392.9 L235.3,394.3 L235.1,395.3 L235.3,395.8 L237.8,397.8 L237.7,397.2 L237.9,396.3 L238.4,394.9 L239.2,393.2 L240.1,391.3 L240.9,389.4 L241.7,387.7 L242.2,386.3 L242.4,385.4 L242.3,384.9Z" fill="#6e0a12"/><path d="M215.3,380.8 L215.8,380.8 L216.7,380.3 L217.9,379.4 L219.3,378.2 L220.8,376.9 L222.4,375.5 L223.8,374.3 L225.0,373.4 L225.9,372.9 L226.4,372.9 L228.0,374.2 L228.4,374.8 L228.3,375.9 L227.7,377.2 L226.6,378.7 L225.2,380.2 L223.6,381.4 L221.8,382.3 L219.9,382.8 L218.3,382.7 L216.9,382.1Z" fill="#b81a22"/><path d="M219.9,380.9 L221.3,379.7 L222.9,378.4 L224.4,377.0 L225.8,375.8" stroke="#dc4a4e" stroke-width="0.8" fill="none"/><path d="M221.9,385.8 L222.5,385.8 L223.3,385.3 L224.5,384.4 L226.0,383.2 L227.5,381.9 L229.0,380.5 L230.5,379.3 L231.6,378.4 L232.5,377.9 L233.1,377.9 L234.7,379.2 L235.0,379.8 L234.9,380.9 L234.3,382.2 L233.3,383.7 L231.9,385.2 L230.2,386.4 L228.4,387.3 L226.6,387.8 L225.0,387.7 L223.6,387.1Z" fill="#b81a22"/><path d="M226.6,385.9 L228.0,384.7 L229.5,383.4 L231.1,382.0 L232.5,380.8" stroke="#dc4a4e" stroke-width="0.8" fill="none"/><path d="M228.6,390.8 L229.1,390.8 L230.0,390.3 L231.2,389.4 L232.6,388.2 L234.2,386.9 L235.7,385.5 L237.1,384.3 L238.3,383.4 L239.2,382.9 L239.7,382.9 L241.4,384.2 L241.7,384.8 L241.6,385.9 L241.0,387.2 L240.0,388.7 L238.6,390.2 L236.9,391.4 L235.1,392.3 L233.3,392.8 L231.6,392.7 L230.2,392.1Z" fill="#b81a22"/><path d="M233.2,390.9 L234.6,389.7 L236.2,388.4 L237.7,387.0 L239.1,385.8" stroke="#dc4a4e" stroke-width="0.8" fill="none"/><path d="M276.3,400.0 L276.4,400.6 L276.2,401.6 L275.5,403.0 L274.6,404.6 L273.6,406.4 L272.5,408.2 L271.6,409.8 L271.0,411.2 L270.7,412.2 L270.9,412.8 L273.2,415.0 L273.1,414.4 L273.3,413.4 L274.0,412.1 L274.9,410.4 L275.9,408.6 L277.0,406.8 L277.9,405.2 L278.5,403.8 L278.8,402.8 L278.6,402.3Z" fill="#6e0a12"/><path d="M283.3,406.7 L283.4,407.3 L283.2,408.3 L282.5,409.6 L281.6,411.3 L280.6,413.1 L279.5,414.9 L278.6,416.5 L278.0,417.9 L277.7,418.9 L277.9,419.5 L280.2,421.7 L280.1,421.1 L280.3,420.1 L281.0,418.7 L281.9,417.1 L282.9,415.3 L284.0,413.5 L284.9,411.9 L285.5,410.5 L285.8,409.5 L285.6,408.9Z" fill="#6e0a12"/><path d="M290.3,413.4 L290.4,413.9 L290.2,414.9 L289.5,416.3 L288.6,418.0 L287.6,419.7 L286.5,421.5 L285.6,423.2 L285.0,424.6 L284.7,425.6 L284.9,426.1 L287.2,428.3 L287.1,427.8 L287.3,426.8 L288.0,425.4 L288.9,423.8 L289.9,422.0 L291.0,420.2 L291.9,418.5 L292.5,417.2 L292.8,416.2 L292.6,415.6Z" fill="#6e0a12"/><path d="M263.9,406.1 L264.4,406.2 L265.4,405.9 L266.7,405.2 L268.3,404.2 L270.1,403.1 L271.8,402.0 L273.4,401.0 L274.8,400.3 L275.7,399.9 L276.3,400.0 L277.8,401.5 L278.0,402.1 L277.7,403.1 L276.9,404.3 L275.7,405.6 L274.1,406.9 L272.2,407.9 L270.3,408.5 L268.4,408.7 L266.7,408.4 L265.4,407.5Z" fill="#b81a22"/><path d="M268.6,406.9 L270.2,405.9 L271.9,404.8 L273.7,403.7 L275.3,402.7" stroke="#dc4a4e" stroke-width="0.8" fill="none"/><path d="M270.9,412.8 L271.4,412.9 L272.4,412.6 L273.7,411.8 L275.3,410.9 L277.1,409.7 L278.8,408.6 L280.4,407.6 L281.8,406.9 L282.7,406.6 L283.3,406.7 L284.8,408.1 L285.0,408.8 L284.7,409.8 L283.9,411.0 L282.7,412.3 L281.1,413.6 L279.2,414.6 L277.3,415.2 L275.4,415.4 L273.7,415.1 L272.4,414.2Z" fill="#b81a22"/><path d="M275.6,413.6 L277.2,412.6 L278.9,411.5 L280.7,410.4 L282.3,409.4" stroke="#dc4a4e" stroke-width="0.8" fill="none"/><path d="M277.9,419.5 L278.4,419.6 L279.4,419.2 L280.7,418.5 L282.3,417.5 L284.1,416.4 L285.8,415.3 L287.4,414.3 L288.8,413.6 L289.7,413.3 L290.3,413.4 L291.8,414.8 L292.0,415.4 L291.7,416.4 L290.9,417.7 L289.7,419.0 L288.1,420.2 L286.2,421.2 L284.3,421.9 L282.4,422.0 L280.7,421.7 L279.4,420.9Z" fill="#b81a22"/><path d="M282.6,420.3 L284.2,419.3 L285.9,418.2 L287.7,417.0 L289.3,416.1" stroke="#dc4a4e" stroke-width="0.8" fill="none"/><path d="M259,378 L263,410" stroke="#9a141c" stroke-width="3"/><path d="M265,377 L270,417" stroke="#c41e28" stroke-width="5"/><ellipse cx="191" cy="380" rx="4.6" ry="4.2" fill="none" stroke="#7a0e16" stroke-width="3.4"/><g fill="none" stroke="#9a2020" stroke-width="0.9"><path d="M224.0,398.0 C223.0,398.7 219.7,400.3 218.0,402.0 C216.3,403.7 214.3,406.0 214.0,408.0 C213.7,410.0 214.7,412.3 216.0,414.0 C217.3,415.7 220.3,416.7 222.0,418.0 C223.7,419.3 225.3,421.3 226.0,422.0"/><path d="M252.0,404.0 C252.7,405.3 254.3,410.0 256.0,412.0 C257.7,414.0 261.0,415.3 262.0,416.0"/><path d="M204.0,347.0 C203.3,347.8 200.3,349.8 200.0,352.0 C199.7,354.2 200.7,358.0 202.0,360.0 C203.3,362.0 207.0,363.3 208.0,364.0"/></g></g>
<g stroke="#222" stroke-width="0.8">
<path d="M199.5,299 L206,296"/><path d="M198,312.5 L204,309"/><path d="M200,352 L207,349"/><path d="M199,369.5 L208,368"/>
<path d="M219,386 L226,381"/><path d="M269.5,372 L258,368"/><path d="M234.5,297.5 L240,294"/><path d="M265,312 L262,306"/>
</g>
<rect x="179.2" y="294.0" width="21.9" height="9.0" rx="2.5" fill="#e3e5e8"/><text x="181" y="301.8" font-size="9.0" font-weight="bold" fill="#111" stroke="#111" stroke-width="0.25" textLength="18.3" lengthAdjust="spacingAndGlyphs">V184</text>
<rect x="216.0" y="292.8" width="19.0" height="11.2" rx="2.5" fill="#e3e5e8"/><text x="222.3" y="301.5" font-size="9.0" font-weight="bold" fill="#111" stroke="#111" stroke-width="0.25" textLength="8.5" lengthAdjust="spacingAndGlyphs">L4</text>
<rect x="223.2" y="252.2" width="19.9" height="9.0" rx="2.5" fill="#e3e5e8"/><text x="225.5" y="260" font-size="9.0" font-weight="bold" fill="#111" stroke="#111" stroke-width="0.25" textLength="15.3" lengthAdjust="spacingAndGlyphs">Q39</text>
<rect x="255.7" y="248.2" width="19.5" height="9.0" rx="2.5" fill="#e3e5e8"/><text x="258.5" y="256" font-size="9.0" font-weight="bold" fill="#111" stroke="#111" stroke-width="0.25" textLength="13.9" lengthAdjust="spacingAndGlyphs">S40</text>
<rect x="262.1" y="311.0" width="20.5" height="9.0" rx="2.5" fill="#e3e5e8"/><text x="265.1" y="318.8" font-size="9.0" font-weight="bold" fill="#111" stroke="#111" stroke-width="0.25" textLength="14.5" lengthAdjust="spacingAndGlyphs">S93</text>
<rect x="178.4" y="307.6" width="21.4" height="9.0" rx="2.5" fill="#e3e5e8"/><text x="180.2" y="315.4" font-size="9.0" font-weight="bold" fill="#111" stroke="#111" stroke-width="0.25" textLength="17.8" lengthAdjust="spacingAndGlyphs">E179</text>
<rect x="178.4" y="347.4" width="23.1" height="9.0" rx="2.5" fill="#e3e5e8"/><text x="180.2" y="355.2" font-size="9.0" font-weight="bold" fill="#111" stroke="#111" stroke-width="0.25" textLength="19.5" lengthAdjust="spacingAndGlyphs">M152</text>
<rect x="177.5" y="365.0" width="23.2" height="9.0" rx="2.5" fill="#e3e5e8"/><text x="179.3" y="372.8" font-size="9.0" font-weight="bold" fill="#111" stroke="#111" stroke-width="0.25" textLength="19.6" lengthAdjust="spacingAndGlyphs">M156</text>
<rect x="197.6" y="383.1" width="22.9" height="9.0" rx="2.5" fill="#e3e5e8"/><text x="199.6" y="390.9" font-size="9.0" font-weight="bold" fill="#111" stroke="#111" stroke-width="0.25" textLength="18.9" lengthAdjust="spacingAndGlyphs">A313</text>
<rect x="268.4" y="366.8" width="22.1" height="9.0" rx="2.5" fill="#e3e5e8"/><text x="270.4" y="374.6" font-size="9.0" font-weight="bold" fill="#111" stroke="#111" stroke-width="0.25" textLength="18.1" lengthAdjust="spacingAndGlyphs">F222</text>
<rect x="247.3" y="410.1" width="20.2" height="9.0" rx="2.5" fill="#e3e5e8"/><text x="249.8" y="417.9" font-size="9.0" font-weight="bold" fill="#111" stroke="#111" stroke-width="0.25" textLength="15.2" lengthAdjust="spacingAndGlyphs">I228</text>
</svg>
</body></html>
